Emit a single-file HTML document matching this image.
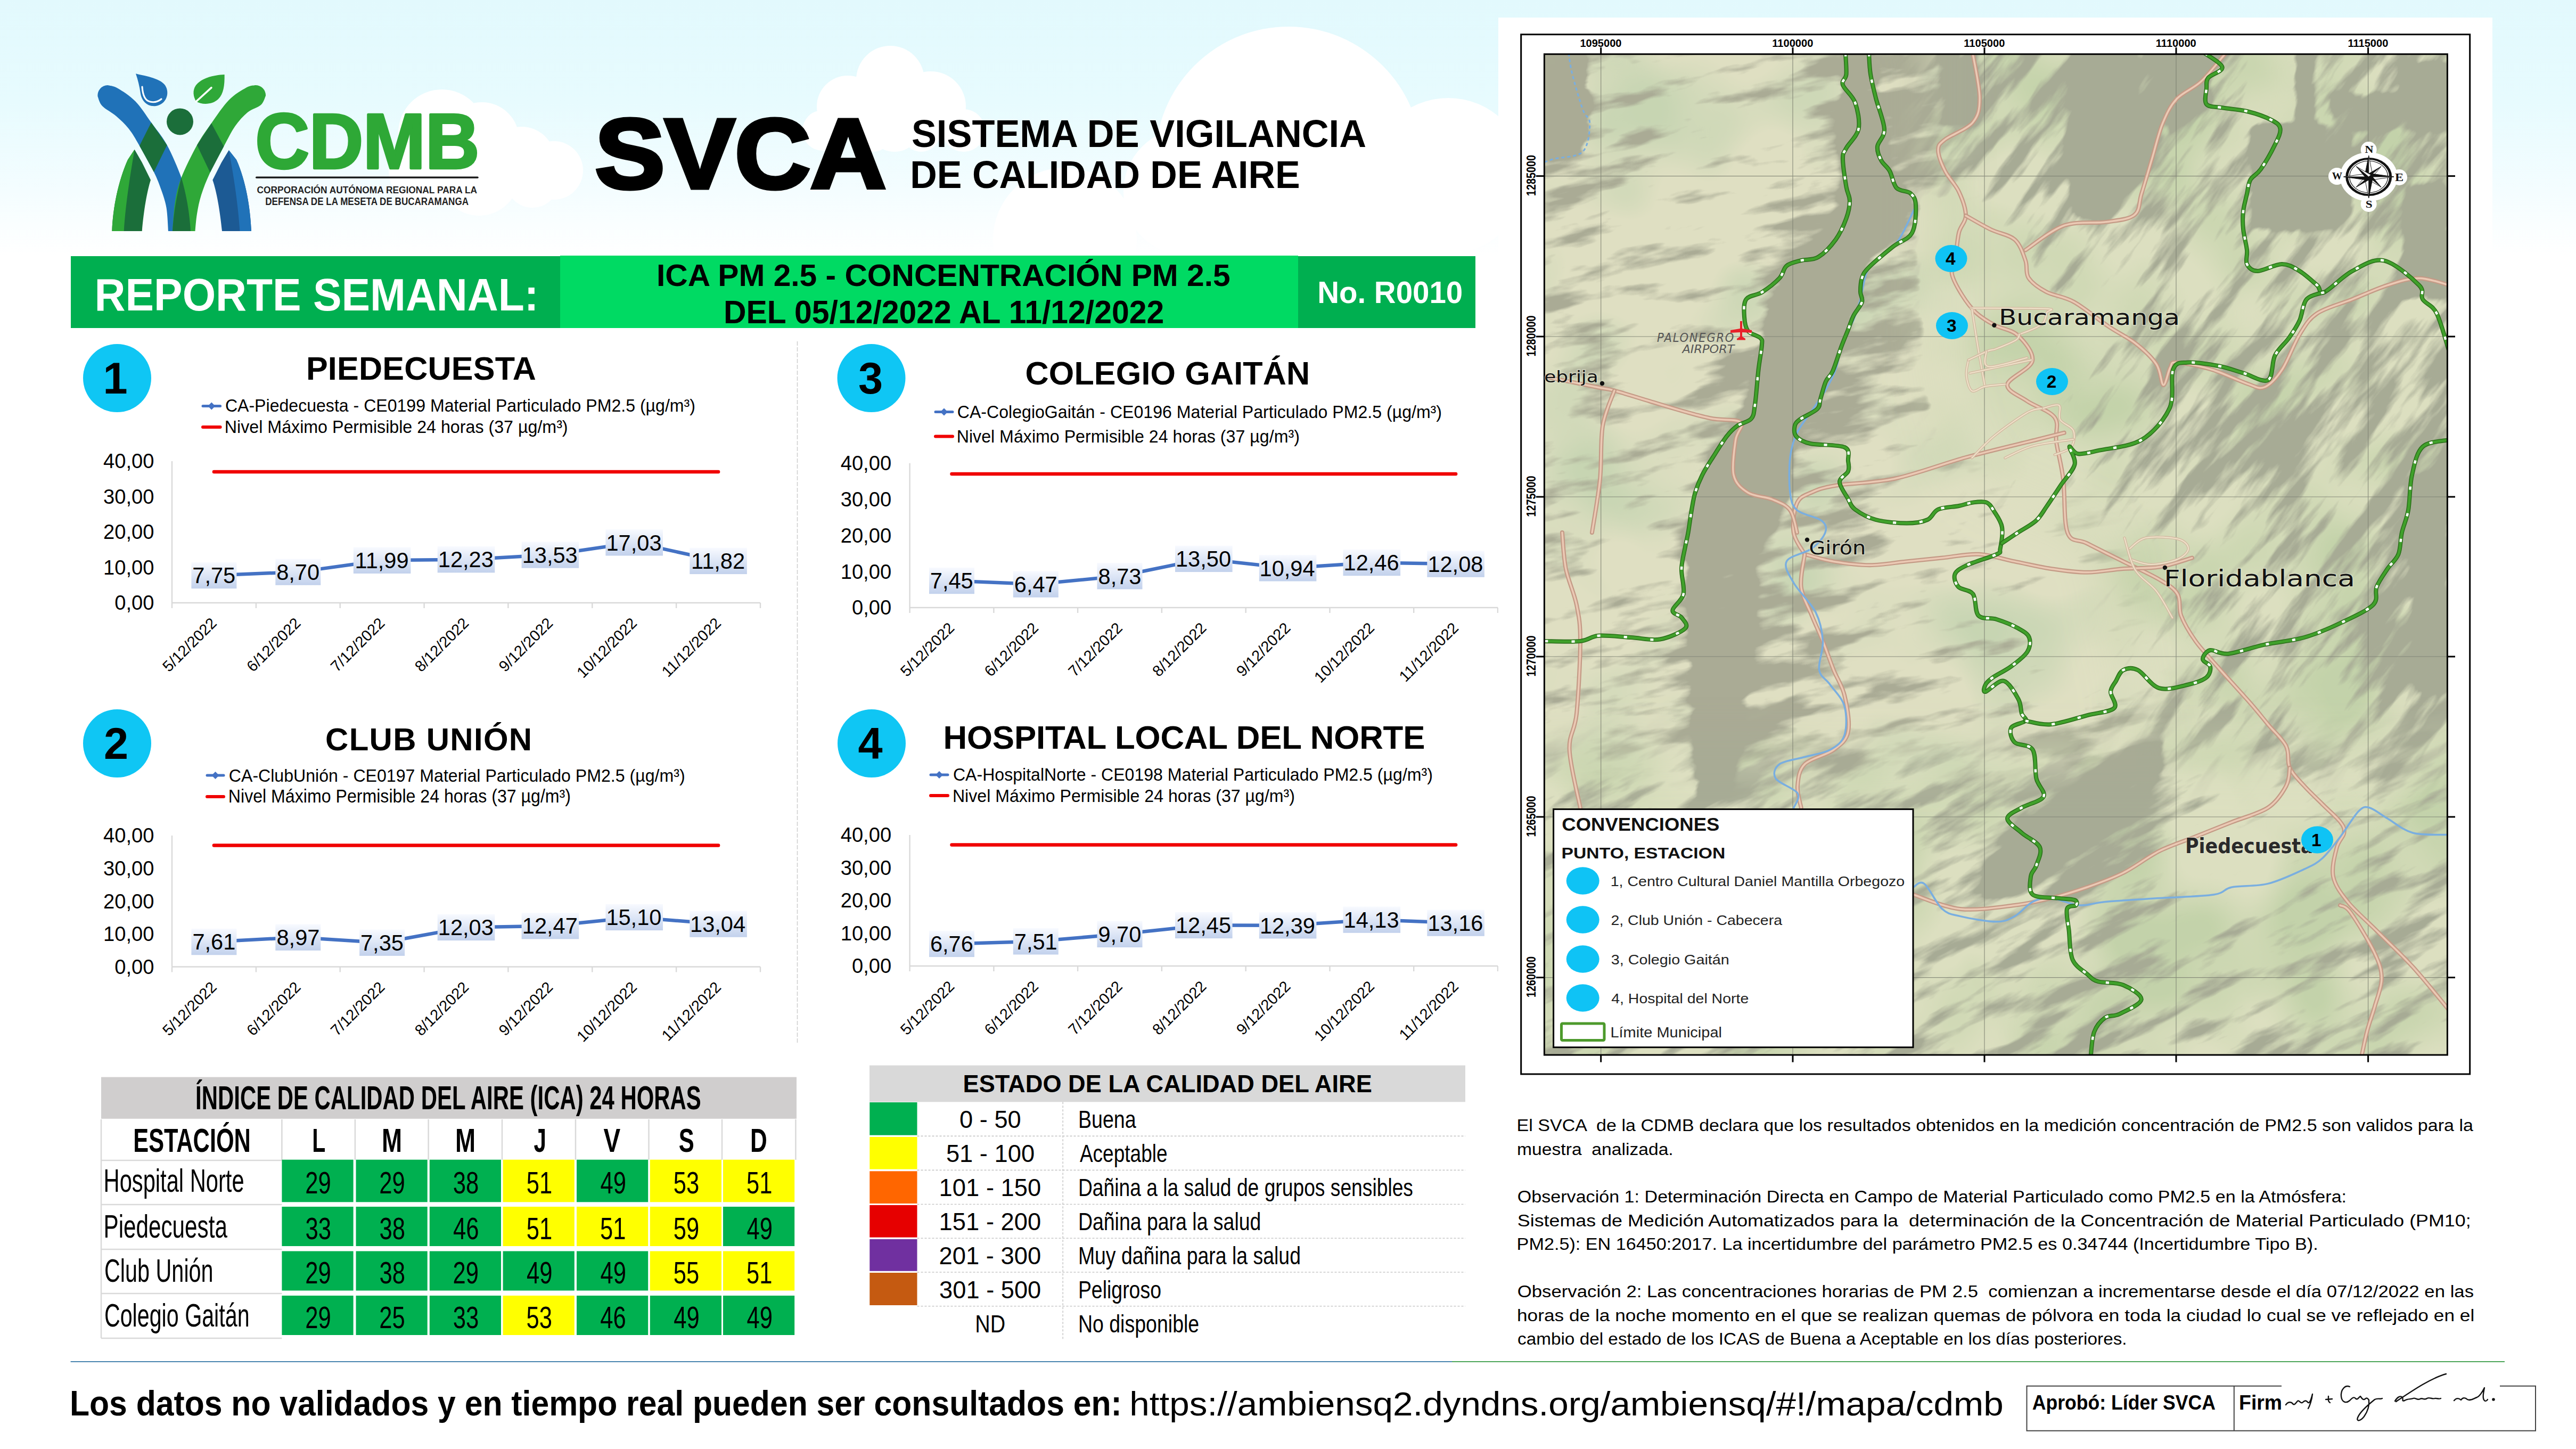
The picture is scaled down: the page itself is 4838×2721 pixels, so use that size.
<!DOCTYPE html>
<html lang="es"><head><meta charset="utf-8"><title>SVCA - Reporte Semanal ICA PM 2.5 R0010</title>
<style>
html,body{margin:0;padding:0;background:#fff;}
body{width:4838px;height:2721px;overflow:hidden;position:relative;}
svg{display:block;position:absolute;left:0;top:0;}
svg text{font-family:'Liberation Sans', Arial, sans-serif;}
</style></head><body>
<svg width="4838" height="2721" viewBox="0 0 4838 2721">
<defs>
<linearGradient id="sky" x1="0" y1="0" x2="0" y2="1">
<stop offset="0" stop-color="#e2f9fd"/><stop offset="0.4" stop-color="#e7fbfe"/><stop offset="0.75" stop-color="#f4fdff"/><stop offset="1" stop-color="#ffffff"/>
</linearGradient>
<linearGradient id="lbl" x1="0" y1="0" x2="0" y2="1">
<stop offset="0" stop-color="#f8faff"/><stop offset="1" stop-color="#c2d1ec"/>
</linearGradient>
</defs>
<rect x="0" y="0" width="4838" height="480" fill="url(#sky)"/>
<g fill="#ffffff"><circle cx="830" cy="250" r="82"/><circle cx="905" cy="262" r="70"/><circle cx="980" cy="300" r="62"/><circle cx="1040" cy="320" r="55"/><circle cx="800" cy="320" r="70"/><circle cx="900" cy="330" r="75"/><circle cx="1000" cy="340" r="50"/><circle cx="1672" cy="150" r="64"/><circle cx="1592" cy="200" r="58"/><circle cx="1748" cy="200" r="66"/><circle cx="1545" cy="245" r="38"/><circle cx="1810" cy="245" r="40"/><circle cx="1680" cy="235" r="50"/><circle cx="1640" cy="250" r="35"/><circle cx="1730" cy="250" r="35"/><circle cx="2420" cy="300" r="250"/><circle cx="2720" cy="330" r="146"/><circle cx="2230" cy="360" r="120"/><circle cx="2000" cy="450" r="135"/><circle cx="2600" cy="420" r="160"/></g>
<rect x="0" y="380" width="4838" height="100" fill="url(#skyfade)" opacity="0"/>
<g id="logo">
<path d="M210.4,434 C212,390 222,340 240,300 L252.7,280.7 L266.7,305 L283,338 C276,360 270,395 266.7,434 Z" fill="#1b6e3a"/>
<path d="M210.4,434 C212,390 222,340 240,300 L252.7,280.7 C246,320 236,380 232.7,434 Z" fill="#2fa838"/>
<path d="M472,434 C470,390 462,340 444,300 L429.8,282 L416,305 L399.3,338 C407,360 413,395 417,434 Z" fill="#1c5a94"/>
<path d="M472,434 C470,390 462,340 444,300 L429.8,282 C437,320 447,380 450.4,434 Z" fill="#2072b8"/>
<path d="M202,160 C205.2,160.9 212.3,160.7 221.0,165.7 C229.7,170.7 243.5,179.3 254.0,190.0 C264.5,200.7 274.1,216.2 284.0,230.0 C293.9,243.8 304.3,255.2 313.7,272.5 C323.1,289.8 334.2,315.9 340.6,333.5 C347.0,351.1 349.1,361.2 352.0,378.0 C354.9,394.8 357.0,424.7 358.0,434.0 L316,434 C315.4,426.7 314.7,402.8 312.5,390.0 C310.3,377.2 306.9,368.2 303.0,357.0 C299.1,345.8 295.8,336.9 289.0,323.0 C282.2,309.1 269.8,287.2 262.0,273.7 C254.2,260.2 249.2,251.2 242.0,242.0 C234.8,232.8 227.0,225.7 218.7,218.5 C210.4,211.3 197.9,205.2 192.0,199.0 C186.1,192.8 184.9,184.0 183.5,181.0 A19,19 0 0 1 202,160 Z" fill="#2072b8"/>
<path d="M479,160 C476.3,160.8 470.8,159.9 462.6,164.6 C454.4,169.3 440.7,176.9 429.8,188.0 C418.9,199.1 407.0,217.3 397.0,231.4 C387.0,245.5 379.4,255.5 370.0,272.5 C360.6,289.5 347.4,315.9 340.6,333.5 C333.8,351.1 331.8,361.2 329.0,378.0 C326.2,394.8 324.8,424.7 324.0,434.0 L366.5,434 C367.1,428.6 368.1,412.8 370.0,401.5 C371.9,390.2 373.9,378.9 378.0,366.0 C382.1,353.1 387.5,339.2 394.6,324.0 C401.7,308.8 412.6,289.3 420.4,274.8 C428.2,260.3 434.1,247.6 441.5,237.0 C448.9,226.4 456.9,217.7 465.0,211.0 C473.1,204.3 484.3,202.2 490.0,197.0 C495.7,191.8 497.5,182.8 499.0,180.0 A19,19 0 0 0 479,160 Z" fill="#2fa838"/>
<path d="M340.6,333.5 C350,365 356,400 358,434 L324,434 C326,400 332,365 340.6,333.5 Z" fill="#1b6e3a"/>
<path d="M284,230 L313.7,272.5 L289,323 L262,273.7 Z" fill="#1b6e3a"/>
<path d="M397,231.4 L420.4,274.8 L394.6,324 L370,272.5 Z" fill="#1b6e3a"/>
<circle cx="338" cy="228.4" r="25" fill="#1b6e3a"/>
<path d="M255,138.3 C268,142 300,146 310,160 C320,175 312,196 293,199 C275,201 266,188 264,176 C262,162 259,150 255,138.3 Z" fill="#2072b8"/>
<path d="M267,163 C268,178 272,189 282,191 C290,193 298,190 303,186" fill="none" stroke="#fff" stroke-width="3.2" stroke-linecap="round"/>
<path d="M421.6,140 C400,141 378,147 368,160 C361,170 363,181 368,190 C380,198 400,196 410,186 C420,176 422,160 421.6,140 Z" fill="#2fa838"/>
<path d="M397,164.6 L368,191" stroke="#fff" stroke-width="3.5" stroke-linecap="round"/>
</g>
<text x="479.4" y="316.0" font-size="146.91" font-weight="bold" fill="#2ea836" textLength="420.9" lengthAdjust="spacingAndGlyphs" stroke="#2ea836" stroke-width="4.5" stroke-linejoin="round">CDMB</text>
<rect x="480" y="331.6" width="418.7" height="3.4" rx="1.7" fill="#1f1f1f"/>
<text x="482.6" y="362.7" font-size="18.62" font-weight="bold" fill="#1f1f1f" textLength="413.5" lengthAdjust="spacingAndGlyphs" >CORPORACIÓN AUTÓNOMA REGIONAL PARA LA</text>
<text x="498.2" y="385.4" font-size="19.35" font-weight="bold" fill="#1f1f1f" textLength="381.8" lengthAdjust="spacingAndGlyphs" >DEFENSA DE LA MESETA DE BUCARAMANGA</text>
<text x="1117.6" y="352.5" font-size="184.73" font-weight="bold" fill="#000" textLength="546.5" lengthAdjust="spacingAndGlyphs" stroke="#000" stroke-width="7" stroke-linejoin="miter">SVCA</text>
<text x="1711.9" y="276.0" font-size="72.73" font-weight="bold" fill="#000" textLength="854.1" lengthAdjust="spacingAndGlyphs" >SISTEMA DE VIGILANCIA</text>
<text x="1709.3" y="353.0" font-size="72.00" font-weight="bold" fill="#000" textLength="732.4" lengthAdjust="spacingAndGlyphs" >DE CALIDAD DE AIRE</text>
<rect x="133" y="481" width="919" height="135" fill="#00af50"/>
<rect x="1052" y="480" width="1386" height="136" fill="#00da63"/>
<rect x="2438" y="481" width="333" height="135" fill="#00af50"/>
<text x="177.6" y="582.5" font-size="85.67" font-weight="bold" fill="#fff" textLength="834.0" lengthAdjust="spacingAndGlyphs" >REPORTE SEMANAL:</text>
<text x="1233.0" y="537.0" font-size="56.73" font-weight="bold" fill="#000" textLength="1077.7" lengthAdjust="spacingAndGlyphs" >ICA PM 2.5 - CONCENTRACIÓN PM 2.5</text>
<text x="1359.0" y="606.6" font-size="61.38" font-weight="bold" fill="#000" textLength="827.2" lengthAdjust="spacingAndGlyphs" >DEL 05/12/2022 AL 11/12/2022</text>
<text x="2474.2" y="569.0" font-size="58.18" font-weight="bold" fill="#fff" textLength="273.1" lengthAdjust="spacingAndGlyphs" >No. R0010</text>
<line x1="1497.5" y1="641" x2="1497.5" y2="1961" stroke="#cfcfcf" stroke-width="1.6" stroke-dasharray="8,3"/>
<circle cx="220" cy="710" r="64" fill="#0fc6f4"/>
<text x="193.5" y="739.0" font-size="82.91" font-weight="bold" fill="#000" textLength="46.1" lengthAdjust="spacingAndGlyphs" >1</text>
<text x="574.9" y="713.0" font-size="61.09" font-weight="bold" fill="#000" textLength="431.9" lengthAdjust="spacing" >PIEDECUESTA</text>
<text x="422.9" y="773.0" font-size="32.40" fill="#000" textLength="883.0" lengthAdjust="spacingAndGlyphs" >CA-Piedecuesta - CE0199 Material Particulado PM2.5 (µg/m³)</text>
<text x="421.8" y="813.0" font-size="34.04" fill="#000" textLength="644.8" lengthAdjust="spacingAndGlyphs" >Nivel Máximo Permisible 24 horas (37 µg/m³)</text>
<line x1="381" y1="762.4" x2="413.6" y2="762.4" stroke="#4472c4" stroke-width="5" stroke-linecap="round"/>
<path d="M390.3,762.4 L397.3,755.4 L404.3,762.4 L397.3,769.4 Z" fill="#4472c4"/>
<line x1="381" y1="802" x2="413.6" y2="802" stroke="#f00000" stroke-width="6" stroke-linecap="round"/>
<line x1="323" y1="866" x2="323" y2="1132" stroke="#d9d9d9" stroke-width="2.4"/>
<line x1="323" y1="1132" x2="1428" y2="1132" stroke="#d9d9d9" stroke-width="2.6"/>
<line x1="323.0" y1="1132" x2="323.0" y2="1142" stroke="#d9d9d9" stroke-width="2.4"/>
<line x1="480.9" y1="1132" x2="480.9" y2="1142" stroke="#d9d9d9" stroke-width="2.4"/>
<line x1="638.7" y1="1132" x2="638.7" y2="1142" stroke="#d9d9d9" stroke-width="2.4"/>
<line x1="796.6" y1="1132" x2="796.6" y2="1142" stroke="#d9d9d9" stroke-width="2.4"/>
<line x1="954.4" y1="1132" x2="954.4" y2="1142" stroke="#d9d9d9" stroke-width="2.4"/>
<line x1="1112.3" y1="1132" x2="1112.3" y2="1142" stroke="#d9d9d9" stroke-width="2.4"/>
<line x1="1270.1" y1="1132" x2="1270.1" y2="1142" stroke="#d9d9d9" stroke-width="2.4"/>
<line x1="1428.0" y1="1132" x2="1428.0" y2="1142" stroke="#d9d9d9" stroke-width="2.4"/>
<text x="215.3" y="1145.3" font-size="38.14" fill="#000" textLength="74.2" lengthAdjust="spacingAndGlyphs" >0,00</text>
<text x="194.0" y="1078.8" font-size="38.14" fill="#000" textLength="95.4" lengthAdjust="spacingAndGlyphs" >10,00</text>
<text x="194.0" y="1012.3" font-size="38.14" fill="#000" textLength="95.4" lengthAdjust="spacingAndGlyphs" >20,00</text>
<text x="194.0" y="945.8" font-size="38.14" fill="#000" textLength="95.4" lengthAdjust="spacingAndGlyphs" >30,00</text>
<text x="194.0" y="879.3" font-size="38.14" fill="#000" textLength="95.4" lengthAdjust="spacingAndGlyphs" >40,00</text>
<line x1="401.9" y1="886.0" x2="1349.1" y2="886.0" stroke="#f00000" stroke-width="6.5" stroke-linecap="round"/>
<polyline points="401.9,1080.5 559.8,1074.1 717.6,1052.3 875.5,1050.7 1033.4,1042.0 1191.2,1018.8 1349.1,1053.4" fill="none" stroke="#4472c4" stroke-width="6.5" stroke-linejoin="round" stroke-linecap="round"/>
<rect x="359.4" y="1055.8" width="85" height="49.4" fill="url(#lbl)"/>
<text x="361.3" y="1095.2" font-size="41.58" fill="#000" textLength="80.9" lengthAdjust="spacingAndGlyphs" >7,75</text>
<rect x="517.3" y="1049.4" width="85" height="49.4" fill="url(#lbl)"/>
<text x="519.2" y="1088.8" font-size="41.58" fill="#000" textLength="80.9" lengthAdjust="spacingAndGlyphs" >8,70</text>
<rect x="663.8" y="1027.6" width="107.6" height="49.4" fill="url(#lbl)"/>
<text x="666.6" y="1067.0" font-size="41.58" fill="#000" textLength="101.0" lengthAdjust="spacingAndGlyphs" >11,99</text>
<rect x="821.7" y="1026.0" width="107.6" height="49.4" fill="url(#lbl)"/>
<text x="822.8" y="1065.4" font-size="41.58" fill="#000" textLength="104.0" lengthAdjust="spacingAndGlyphs" >12,23</text>
<rect x="979.6" y="1017.3" width="107.6" height="49.4" fill="url(#lbl)"/>
<text x="980.7" y="1056.7" font-size="41.58" fill="#000" textLength="104.0" lengthAdjust="spacingAndGlyphs" >13,53</text>
<rect x="1137.4" y="994.1" width="107.6" height="49.4" fill="url(#lbl)"/>
<text x="1138.5" y="1033.5" font-size="41.58" fill="#000" textLength="104.0" lengthAdjust="spacingAndGlyphs" >17,03</text>
<rect x="1295.3" y="1028.7" width="107.6" height="49.4" fill="url(#lbl)"/>
<text x="1298.1" y="1068.1" font-size="41.58" fill="#000" textLength="101.0" lengthAdjust="spacingAndGlyphs" >11,82</text>
<text x="408.6" y="1172.0" font-size="29" text-anchor="end" transform="rotate(-45 408.6 1172.0)">5/12/2022</text>
<text x="566.5" y="1172.0" font-size="29" text-anchor="end" transform="rotate(-45 566.5 1172.0)">6/12/2022</text>
<text x="724.3" y="1172.0" font-size="29" text-anchor="end" transform="rotate(-45 724.3 1172.0)">7/12/2022</text>
<text x="882.2" y="1172.0" font-size="29" text-anchor="end" transform="rotate(-45 882.2 1172.0)">8/12/2022</text>
<text x="1040.1" y="1172.0" font-size="29" text-anchor="end" transform="rotate(-45 1040.1 1172.0)">9/12/2022</text>
<text x="1197.9" y="1172.0" font-size="29" text-anchor="end" transform="rotate(-45 1197.9 1172.0)">10/12/2022</text>
<text x="1355.8" y="1172.0" font-size="29" text-anchor="end" transform="rotate(-45 1355.8 1172.0)">11/12/2022</text>
<circle cx="1636.5" cy="710" r="64" fill="#0fc6f4"/>
<text x="1612.0" y="739.0" font-size="82.91" font-weight="bold" fill="#000" textLength="46.1" lengthAdjust="spacingAndGlyphs" >3</text>
<text x="1925.5" y="722.0" font-size="61.09" font-weight="bold" fill="#000" textLength="534.6" lengthAdjust="spacing" >COLEGIO GAITÁN</text>
<text x="1797.8" y="785.2" font-size="32.54" fill="#000" textLength="910.2" lengthAdjust="spacingAndGlyphs" >CA-ColegioGaitán - CE0196 Material Particulado PM2.5 (µg/m³)</text>
<text x="1796.7" y="831.0" font-size="33.45" fill="#000" textLength="644.2" lengthAdjust="spacingAndGlyphs" >Nivel Máximo Permisible 24 horas (37 µg/m³)</text>
<line x1="1757" y1="773.6" x2="1789" y2="773.6" stroke="#4472c4" stroke-width="5" stroke-linecap="round"/>
<path d="M1766.0,773.6 L1773.0,766.6 L1780.0,773.6 L1773.0,780.6 Z" fill="#4472c4"/>
<line x1="1757" y1="819.5" x2="1789" y2="819.5" stroke="#f00000" stroke-width="6" stroke-linecap="round"/>
<line x1="1708.6" y1="869.7" x2="1708.6" y2="1141" stroke="#d9d9d9" stroke-width="2.4"/>
<line x1="1708.6" y1="1141" x2="2813" y2="1141" stroke="#d9d9d9" stroke-width="2.6"/>
<line x1="1708.6" y1="1141" x2="1708.6" y2="1151" stroke="#d9d9d9" stroke-width="2.4"/>
<line x1="1866.4" y1="1141" x2="1866.4" y2="1151" stroke="#d9d9d9" stroke-width="2.4"/>
<line x1="2024.1" y1="1141" x2="2024.1" y2="1151" stroke="#d9d9d9" stroke-width="2.4"/>
<line x1="2181.9" y1="1141" x2="2181.9" y2="1151" stroke="#d9d9d9" stroke-width="2.4"/>
<line x1="2339.7" y1="1141" x2="2339.7" y2="1151" stroke="#d9d9d9" stroke-width="2.4"/>
<line x1="2497.5" y1="1141" x2="2497.5" y2="1151" stroke="#d9d9d9" stroke-width="2.4"/>
<line x1="2655.2" y1="1141" x2="2655.2" y2="1151" stroke="#d9d9d9" stroke-width="2.4"/>
<line x1="2813.0" y1="1141" x2="2813.0" y2="1151" stroke="#d9d9d9" stroke-width="2.4"/>
<text x="1600.0" y="1154.3" font-size="38.14" fill="#000" textLength="74.2" lengthAdjust="spacingAndGlyphs" >0,00</text>
<text x="1578.7" y="1086.5" font-size="38.14" fill="#000" textLength="95.4" lengthAdjust="spacingAndGlyphs" >10,00</text>
<text x="1578.7" y="1018.6" font-size="38.14" fill="#000" textLength="95.4" lengthAdjust="spacingAndGlyphs" >20,00</text>
<text x="1578.7" y="950.8" font-size="38.14" fill="#000" textLength="95.4" lengthAdjust="spacingAndGlyphs" >30,00</text>
<text x="1578.7" y="883.0" font-size="38.14" fill="#000" textLength="95.4" lengthAdjust="spacingAndGlyphs" >40,00</text>
<line x1="1787.5" y1="890.0" x2="2734.1" y2="890.0" stroke="#f00000" stroke-width="6.5" stroke-linecap="round"/>
<polyline points="1787.5,1090.5 1945.3,1097.1 2103.0,1081.8 2260.8,1049.4 2418.6,1066.8 2576.3,1056.5 2734.1,1059.1" fill="none" stroke="#4472c4" stroke-width="6.5" stroke-linejoin="round" stroke-linecap="round"/>
<rect x="1745.0" y="1065.8" width="85" height="49.4" fill="url(#lbl)"/>
<text x="1746.8" y="1105.2" font-size="41.58" fill="#000" textLength="80.9" lengthAdjust="spacingAndGlyphs" >7,45</text>
<rect x="1902.8" y="1072.4" width="85" height="49.4" fill="url(#lbl)"/>
<text x="1904.8" y="1111.8" font-size="41.58" fill="#000" textLength="80.9" lengthAdjust="spacingAndGlyphs" >6,47</text>
<rect x="2060.5" y="1057.1" width="85" height="49.4" fill="url(#lbl)"/>
<text x="2062.6" y="1096.5" font-size="41.58" fill="#000" textLength="80.9" lengthAdjust="spacingAndGlyphs" >8,73</text>
<rect x="2207.0" y="1024.7" width="107.6" height="49.4" fill="url(#lbl)"/>
<text x="2208.0" y="1064.1" font-size="41.58" fill="#000" textLength="104.0" lengthAdjust="spacingAndGlyphs" >13,50</text>
<rect x="2364.8" y="1042.1" width="107.6" height="49.4" fill="url(#lbl)"/>
<text x="2365.6" y="1081.5" font-size="41.58" fill="#000" textLength="104.0" lengthAdjust="spacingAndGlyphs" >10,94</text>
<rect x="2522.5" y="1031.8" width="107.6" height="49.4" fill="url(#lbl)"/>
<text x="2523.6" y="1071.2" font-size="41.58" fill="#000" textLength="104.0" lengthAdjust="spacingAndGlyphs" >12,46</text>
<rect x="2680.3" y="1034.4" width="107.6" height="49.4" fill="url(#lbl)"/>
<text x="2681.4" y="1073.8" font-size="41.58" fill="#000" textLength="104.0" lengthAdjust="spacingAndGlyphs" >12,08</text>
<text x="1794.2" y="1181.0" font-size="29" text-anchor="end" transform="rotate(-45 1794.2 1181.0)">5/12/2022</text>
<text x="1952.0" y="1181.0" font-size="29" text-anchor="end" transform="rotate(-45 1952.0 1181.0)">6/12/2022</text>
<text x="2109.7" y="1181.0" font-size="29" text-anchor="end" transform="rotate(-45 2109.7 1181.0)">7/12/2022</text>
<text x="2267.5" y="1181.0" font-size="29" text-anchor="end" transform="rotate(-45 2267.5 1181.0)">8/12/2022</text>
<text x="2425.3" y="1181.0" font-size="29" text-anchor="end" transform="rotate(-45 2425.3 1181.0)">9/12/2022</text>
<text x="2583.0" y="1181.0" font-size="29" text-anchor="end" transform="rotate(-45 2583.0 1181.0)">10/12/2022</text>
<text x="2740.8" y="1181.0" font-size="29" text-anchor="end" transform="rotate(-45 2740.8 1181.0)">11/12/2022</text>
<circle cx="220" cy="1396" r="64" fill="#0fc6f4"/>
<text x="195.1" y="1425.0" font-size="82.91" font-weight="bold" fill="#000" textLength="46.1" lengthAdjust="spacingAndGlyphs" >2</text>
<text x="611.1" y="1408.7" font-size="59.93" font-weight="bold" fill="#000" textLength="388.0" lengthAdjust="spacing" >CLUB UNIÓN</text>
<text x="429.8" y="1468.0" font-size="32.97" fill="#000" textLength="856.8" lengthAdjust="spacingAndGlyphs" >CA-ClubUnión - CE0197 Material Particulado PM2.5 (µg/m³)</text>
<text x="428.8" y="1507.4" font-size="34.47" fill="#000" textLength="643.2" lengthAdjust="spacingAndGlyphs" >Nivel Máximo Permisible 24 horas (37 µg/m³)</text>
<line x1="389" y1="1456" x2="420" y2="1456" stroke="#4472c4" stroke-width="5" stroke-linecap="round"/>
<path d="M397.5,1456 L404.5,1449 L411.5,1456 L404.5,1463 Z" fill="#4472c4"/>
<line x1="389" y1="1496" x2="420" y2="1496" stroke="#f00000" stroke-width="6" stroke-linecap="round"/>
<line x1="323" y1="1569" x2="323" y2="1815.5" stroke="#d9d9d9" stroke-width="2.4"/>
<line x1="323" y1="1815.5" x2="1428" y2="1815.5" stroke="#d9d9d9" stroke-width="2.6"/>
<line x1="323.0" y1="1815.5" x2="323.0" y2="1825.5" stroke="#d9d9d9" stroke-width="2.4"/>
<line x1="480.9" y1="1815.5" x2="480.9" y2="1825.5" stroke="#d9d9d9" stroke-width="2.4"/>
<line x1="638.7" y1="1815.5" x2="638.7" y2="1825.5" stroke="#d9d9d9" stroke-width="2.4"/>
<line x1="796.6" y1="1815.5" x2="796.6" y2="1825.5" stroke="#d9d9d9" stroke-width="2.4"/>
<line x1="954.4" y1="1815.5" x2="954.4" y2="1825.5" stroke="#d9d9d9" stroke-width="2.4"/>
<line x1="1112.3" y1="1815.5" x2="1112.3" y2="1825.5" stroke="#d9d9d9" stroke-width="2.4"/>
<line x1="1270.1" y1="1815.5" x2="1270.1" y2="1825.5" stroke="#d9d9d9" stroke-width="2.4"/>
<line x1="1428.0" y1="1815.5" x2="1428.0" y2="1825.5" stroke="#d9d9d9" stroke-width="2.4"/>
<text x="215.3" y="1828.8" font-size="38.14" fill="#000" textLength="74.2" lengthAdjust="spacingAndGlyphs" >0,00</text>
<text x="194.0" y="1767.2" font-size="38.14" fill="#000" textLength="95.4" lengthAdjust="spacingAndGlyphs" >10,00</text>
<text x="194.0" y="1705.5" font-size="38.14" fill="#000" textLength="95.4" lengthAdjust="spacingAndGlyphs" >20,00</text>
<text x="194.0" y="1643.9" font-size="38.14" fill="#000" textLength="95.4" lengthAdjust="spacingAndGlyphs" >30,00</text>
<text x="194.0" y="1582.3" font-size="38.14" fill="#000" textLength="95.4" lengthAdjust="spacingAndGlyphs" >40,00</text>
<line x1="401.9" y1="1587.5" x2="1349.1" y2="1587.5" stroke="#f00000" stroke-width="6.5" stroke-linecap="round"/>
<polyline points="401.9,1768.6 559.8,1760.2 717.6,1770.2 875.5,1741.4 1033.4,1738.7 1191.2,1722.4 1349.1,1735.1" fill="none" stroke="#4472c4" stroke-width="6.5" stroke-linejoin="round" stroke-linecap="round"/>
<rect x="359.4" y="1743.9" width="85" height="49.4" fill="url(#lbl)"/>
<text x="361.4" y="1783.3" font-size="41.58" fill="#000" textLength="80.9" lengthAdjust="spacingAndGlyphs" >7,61</text>
<rect x="517.3" y="1735.5" width="85" height="49.4" fill="url(#lbl)"/>
<text x="519.5" y="1774.9" font-size="41.58" fill="#000" textLength="80.9" lengthAdjust="spacingAndGlyphs" >8,97</text>
<rect x="675.1" y="1745.5" width="85" height="49.4" fill="url(#lbl)"/>
<text x="677.0" y="1784.9" font-size="41.58" fill="#000" textLength="80.9" lengthAdjust="spacingAndGlyphs" >7,35</text>
<rect x="821.7" y="1716.7" width="107.6" height="49.4" fill="url(#lbl)"/>
<text x="822.8" y="1756.1" font-size="41.58" fill="#000" textLength="104.0" lengthAdjust="spacingAndGlyphs" >12,03</text>
<rect x="979.6" y="1714.0" width="107.6" height="49.4" fill="url(#lbl)"/>
<text x="980.8" y="1753.4" font-size="41.58" fill="#000" textLength="104.0" lengthAdjust="spacingAndGlyphs" >12,47</text>
<rect x="1137.4" y="1697.7" width="107.6" height="49.4" fill="url(#lbl)"/>
<text x="1138.4" y="1737.1" font-size="41.58" fill="#000" textLength="104.0" lengthAdjust="spacingAndGlyphs" >15,10</text>
<rect x="1295.3" y="1710.4" width="107.6" height="49.4" fill="url(#lbl)"/>
<text x="1296.1" y="1749.8" font-size="41.58" fill="#000" textLength="104.0" lengthAdjust="spacingAndGlyphs" >13,04</text>
<text x="408.6" y="1855.5" font-size="29" text-anchor="end" transform="rotate(-45 408.6 1855.5)">5/12/2022</text>
<text x="566.5" y="1855.5" font-size="29" text-anchor="end" transform="rotate(-45 566.5 1855.5)">6/12/2022</text>
<text x="724.3" y="1855.5" font-size="29" text-anchor="end" transform="rotate(-45 724.3 1855.5)">7/12/2022</text>
<text x="882.2" y="1855.5" font-size="29" text-anchor="end" transform="rotate(-45 882.2 1855.5)">8/12/2022</text>
<text x="1040.1" y="1855.5" font-size="29" text-anchor="end" transform="rotate(-45 1040.1 1855.5)">9/12/2022</text>
<text x="1197.9" y="1855.5" font-size="29" text-anchor="end" transform="rotate(-45 1197.9 1855.5)">10/12/2022</text>
<text x="1355.8" y="1855.5" font-size="29" text-anchor="end" transform="rotate(-45 1355.8 1855.5)">11/12/2022</text>
<circle cx="1637" cy="1396" r="64" fill="#0fc6f4"/>
<text x="1611.6" y="1425.0" font-size="82.91" font-weight="bold" fill="#000" textLength="46.1" lengthAdjust="spacingAndGlyphs" >4</text>
<text x="1771.5" y="1405.5" font-size="61.82" font-weight="bold" fill="#000" textLength="904.9" lengthAdjust="spacing" >HOSPITAL LOCAL DEL NORTE</text>
<text x="1789.9" y="1466.0" font-size="32.97" fill="#000" textLength="901.0" lengthAdjust="spacingAndGlyphs" >CA-HospitalNorte - CE0198 Material Particulado PM2.5 (µg/m³)</text>
<text x="1788.9" y="1506.0" font-size="34.04" fill="#000" textLength="643.1" lengthAdjust="spacingAndGlyphs" >Nivel Máximo Permisible 24 horas (37 µg/m³)</text>
<line x1="1748" y1="1455" x2="1780" y2="1455" stroke="#4472c4" stroke-width="5" stroke-linecap="round"/>
<path d="M1757.0,1455 L1764.0,1448 L1771.0,1455 L1764.0,1462 Z" fill="#4472c4"/>
<line x1="1748" y1="1494" x2="1780" y2="1494" stroke="#f00000" stroke-width="6" stroke-linecap="round"/>
<line x1="1708.6" y1="1568" x2="1708.6" y2="1814" stroke="#d9d9d9" stroke-width="2.4"/>
<line x1="1708.6" y1="1814" x2="2813" y2="1814" stroke="#d9d9d9" stroke-width="2.6"/>
<line x1="1708.6" y1="1814" x2="1708.6" y2="1824" stroke="#d9d9d9" stroke-width="2.4"/>
<line x1="1866.4" y1="1814" x2="1866.4" y2="1824" stroke="#d9d9d9" stroke-width="2.4"/>
<line x1="2024.1" y1="1814" x2="2024.1" y2="1824" stroke="#d9d9d9" stroke-width="2.4"/>
<line x1="2181.9" y1="1814" x2="2181.9" y2="1824" stroke="#d9d9d9" stroke-width="2.4"/>
<line x1="2339.7" y1="1814" x2="2339.7" y2="1824" stroke="#d9d9d9" stroke-width="2.4"/>
<line x1="2497.5" y1="1814" x2="2497.5" y2="1824" stroke="#d9d9d9" stroke-width="2.4"/>
<line x1="2655.2" y1="1814" x2="2655.2" y2="1824" stroke="#d9d9d9" stroke-width="2.4"/>
<line x1="2813.0" y1="1814" x2="2813.0" y2="1824" stroke="#d9d9d9" stroke-width="2.4"/>
<text x="1600.0" y="1827.3" font-size="38.14" fill="#000" textLength="74.2" lengthAdjust="spacingAndGlyphs" >0,00</text>
<text x="1578.7" y="1765.8" font-size="38.14" fill="#000" textLength="95.4" lengthAdjust="spacingAndGlyphs" >10,00</text>
<text x="1578.7" y="1704.3" font-size="38.14" fill="#000" textLength="95.4" lengthAdjust="spacingAndGlyphs" >20,00</text>
<text x="1578.7" y="1642.8" font-size="38.14" fill="#000" textLength="95.4" lengthAdjust="spacingAndGlyphs" >30,00</text>
<text x="1578.7" y="1581.3" font-size="38.14" fill="#000" textLength="95.4" lengthAdjust="spacingAndGlyphs" >40,00</text>
<line x1="1787.5" y1="1586.5" x2="2734.1" y2="1586.5" stroke="#f00000" stroke-width="6.5" stroke-linecap="round"/>
<polyline points="1787.5,1772.4 1945.3,1767.8 2103.0,1754.3 2260.8,1737.4 2418.6,1737.8 2576.3,1727.1 2734.1,1733.1" fill="none" stroke="#4472c4" stroke-width="6.5" stroke-linejoin="round" stroke-linecap="round"/>
<rect x="1745.0" y="1747.7" width="85" height="49.4" fill="url(#lbl)"/>
<text x="1746.9" y="1787.1" font-size="41.58" fill="#000" textLength="80.9" lengthAdjust="spacingAndGlyphs" >6,76</text>
<rect x="1902.8" y="1743.1" width="85" height="49.4" fill="url(#lbl)"/>
<text x="1904.8" y="1782.5" font-size="41.58" fill="#000" textLength="80.9" lengthAdjust="spacingAndGlyphs" >7,51</text>
<rect x="2060.5" y="1729.6" width="85" height="49.4" fill="url(#lbl)"/>
<text x="2062.4" y="1769.0" font-size="41.58" fill="#000" textLength="80.9" lengthAdjust="spacingAndGlyphs" >9,70</text>
<rect x="2207.0" y="1712.7" width="107.6" height="49.4" fill="url(#lbl)"/>
<text x="2208.0" y="1752.1" font-size="41.58" fill="#000" textLength="104.0" lengthAdjust="spacingAndGlyphs" >12,45</text>
<rect x="2364.8" y="1713.1" width="107.6" height="49.4" fill="url(#lbl)"/>
<text x="2365.9" y="1752.5" font-size="41.58" fill="#000" textLength="104.0" lengthAdjust="spacingAndGlyphs" >12,39</text>
<rect x="2522.5" y="1702.4" width="107.6" height="49.4" fill="url(#lbl)"/>
<text x="2523.6" y="1741.8" font-size="41.58" fill="#000" textLength="104.0" lengthAdjust="spacingAndGlyphs" >14,13</text>
<rect x="2680.3" y="1708.4" width="107.6" height="49.4" fill="url(#lbl)"/>
<text x="2681.4" y="1747.8" font-size="41.58" fill="#000" textLength="104.0" lengthAdjust="spacingAndGlyphs" >13,16</text>
<text x="1794.2" y="1854.0" font-size="29" text-anchor="end" transform="rotate(-45 1794.2 1854.0)">5/12/2022</text>
<text x="1952.0" y="1854.0" font-size="29" text-anchor="end" transform="rotate(-45 1952.0 1854.0)">6/12/2022</text>
<text x="2109.7" y="1854.0" font-size="29" text-anchor="end" transform="rotate(-45 2109.7 1854.0)">7/12/2022</text>
<text x="2267.5" y="1854.0" font-size="29" text-anchor="end" transform="rotate(-45 2267.5 1854.0)">8/12/2022</text>
<text x="2425.3" y="1854.0" font-size="29" text-anchor="end" transform="rotate(-45 2425.3 1854.0)">9/12/2022</text>
<text x="2583.0" y="1854.0" font-size="29" text-anchor="end" transform="rotate(-45 2583.0 1854.0)">10/12/2022</text>
<text x="2740.8" y="1854.0" font-size="29" text-anchor="end" transform="rotate(-45 2740.8 1854.0)">11/12/2022</text>
<rect x="190" y="2022.6" width="1306" height="78.2" fill="#d0cece"/>
<text x="367.1" y="2083.2" font-size="63.85" font-weight="bold" fill="#000" textLength="949.7" lengthAdjust="spacingAndGlyphs" >ÍNDICE DE CALIDAD DEL AIRE (ICA) 24 HORAS</text>
<g stroke="#d9d9d9" stroke-width="2.5" fill="none">
<line x1="190" y1="2102" x2="190" y2="2513"/>
<line x1="529.4" y1="2102" x2="529.4" y2="2178"/>
<line x1="666.9" y1="2102" x2="666.9" y2="2178"/>
<line x1="804.6" y1="2102" x2="804.6" y2="2178"/>
<line x1="943" y1="2102" x2="943" y2="2178"/>
<line x1="1081" y1="2102" x2="1081" y2="2178"/>
<line x1="1218.5" y1="2102" x2="1218.5" y2="2178"/>
<line x1="1356" y1="2102" x2="1356" y2="2178"/>
<line x1="1494.4" y1="2102" x2="1494.4" y2="2178"/>
<line x1="190" y1="2179" x2="529.4" y2="2179"/>
<line x1="190" y1="2262" x2="529.4" y2="2262"/>
<line x1="190" y1="2346" x2="529.4" y2="2346"/>
<line x1="190" y1="2429" x2="529.4" y2="2429"/>
<line x1="190" y1="2513" x2="529.4" y2="2513"/>
</g>
<text x="250.3" y="2163.0" font-size="62.84" font-weight="bold" fill="#000" textLength="220.6" lengthAdjust="spacingAndGlyphs" >ESTACIÓN</text>
<text x="586.2" y="2163.0" font-size="62.84" font-weight="bold" fill="#000" textLength="25.0" lengthAdjust="spacingAndGlyphs" >L</text>
<text x="716.9" y="2163.0" font-size="62.84" font-weight="bold" fill="#000" textLength="38.1" lengthAdjust="spacingAndGlyphs" >M</text>
<text x="854.9" y="2163.0" font-size="62.84" font-weight="bold" fill="#000" textLength="38.1" lengthAdjust="spacingAndGlyphs" >M</text>
<text x="1002.4" y="2163.0" font-size="62.84" font-weight="bold" fill="#000" textLength="23.5" lengthAdjust="spacingAndGlyphs" >J</text>
<text x="1133.6" y="2163.0" font-size="62.84" font-weight="bold" fill="#000" textLength="31.7" lengthAdjust="spacingAndGlyphs" >V</text>
<text x="1274.7" y="2163.0" font-size="62.84" font-weight="bold" fill="#000" textLength="29.0" lengthAdjust="spacingAndGlyphs" >S</text>
<text x="1409.0" y="2163.0" font-size="62.84" font-weight="bold" fill="#000" textLength="31.8" lengthAdjust="spacingAndGlyphs" >D</text>
<text x="194.6" y="2238.3" font-size="60.51" fill="#000" textLength="264.0" lengthAdjust="spacingAndGlyphs" >Hospital Norte</text>
<rect x="529.4" y="2177.7" width="134.2" height="79.6" fill="#00b050"/>
<text x="573.2" y="2241.0" font-size="57.35" fill="#000" textLength="48.5" lengthAdjust="spacingAndGlyphs" >29</text>
<rect x="668.5" y="2177.7" width="134.2" height="79.6" fill="#00b050"/>
<text x="712.3" y="2241.0" font-size="57.35" fill="#000" textLength="48.5" lengthAdjust="spacingAndGlyphs" >29</text>
<rect x="806.8" y="2177.7" width="134.2" height="79.6" fill="#00b050"/>
<text x="850.8" y="2241.0" font-size="57.35" fill="#000" textLength="48.5" lengthAdjust="spacingAndGlyphs" >38</text>
<rect x="944.6" y="2177.7" width="134.2" height="79.6" fill="#ffff00"/>
<text x="988.7" y="2241.0" font-size="57.35" fill="#000" textLength="48.5" lengthAdjust="spacingAndGlyphs" >51</text>
<rect x="1083" y="2177.7" width="134.2" height="79.6" fill="#00b050"/>
<text x="1127.4" y="2241.0" font-size="57.35" fill="#000" textLength="48.5" lengthAdjust="spacingAndGlyphs" >49</text>
<rect x="1220.8" y="2177.7" width="134.2" height="79.6" fill="#ffff00"/>
<text x="1264.8" y="2241.0" font-size="57.35" fill="#000" textLength="48.5" lengthAdjust="spacingAndGlyphs" >53</text>
<rect x="1358" y="2177.7" width="134.2" height="79.6" fill="#ffff00"/>
<text x="1402.1" y="2241.0" font-size="57.35" fill="#000" textLength="48.5" lengthAdjust="spacingAndGlyphs" >51</text>
<text x="194.5" y="2323.8" font-size="60.51" fill="#000" textLength="232.4" lengthAdjust="spacingAndGlyphs" >Piedecuesta</text>
<rect x="529.4" y="2266" width="134.2" height="74.0" fill="#00b050"/>
<text x="573.4" y="2326.5" font-size="57.35" fill="#000" textLength="48.5" lengthAdjust="spacingAndGlyphs" >33</text>
<rect x="668.5" y="2266" width="134.2" height="74.0" fill="#00b050"/>
<text x="712.5" y="2326.5" font-size="57.35" fill="#000" textLength="48.5" lengthAdjust="spacingAndGlyphs" >38</text>
<rect x="806.8" y="2266" width="134.2" height="74.0" fill="#00b050"/>
<text x="851.1" y="2326.5" font-size="57.35" fill="#000" textLength="48.5" lengthAdjust="spacingAndGlyphs" >46</text>
<rect x="944.6" y="2266" width="134.2" height="74.0" fill="#ffff00"/>
<text x="988.7" y="2326.5" font-size="57.35" fill="#000" textLength="48.5" lengthAdjust="spacingAndGlyphs" >51</text>
<rect x="1083" y="2266" width="134.2" height="74.0" fill="#ffff00"/>
<text x="1127.1" y="2326.5" font-size="57.35" fill="#000" textLength="48.5" lengthAdjust="spacingAndGlyphs" >51</text>
<rect x="1220.8" y="2266" width="134.2" height="74.0" fill="#ffff00"/>
<text x="1264.8" y="2326.5" font-size="57.35" fill="#000" textLength="48.5" lengthAdjust="spacingAndGlyphs" >59</text>
<rect x="1358" y="2266" width="134.2" height="74.0" fill="#00b050"/>
<text x="1402.4" y="2326.5" font-size="57.35" fill="#000" textLength="48.5" lengthAdjust="spacingAndGlyphs" >49</text>
<text x="195.9" y="2407.3" font-size="60.51" fill="#000" textLength="204.7" lengthAdjust="spacingAndGlyphs" >Club Unión</text>
<rect x="529.4" y="2349.5" width="134.2" height="74.0" fill="#00b050"/>
<text x="573.2" y="2410.0" font-size="57.35" fill="#000" textLength="48.5" lengthAdjust="spacingAndGlyphs" >29</text>
<rect x="668.5" y="2349.5" width="134.2" height="74.0" fill="#00b050"/>
<text x="712.5" y="2410.0" font-size="57.35" fill="#000" textLength="48.5" lengthAdjust="spacingAndGlyphs" >38</text>
<rect x="806.8" y="2349.5" width="134.2" height="74.0" fill="#00b050"/>
<text x="850.6" y="2410.0" font-size="57.35" fill="#000" textLength="48.5" lengthAdjust="spacingAndGlyphs" >29</text>
<rect x="944.6" y="2349.5" width="134.2" height="74.0" fill="#00b050"/>
<text x="989.0" y="2410.0" font-size="57.35" fill="#000" textLength="48.5" lengthAdjust="spacingAndGlyphs" >49</text>
<rect x="1083" y="2349.5" width="134.2" height="74.0" fill="#00b050"/>
<text x="1127.4" y="2410.0" font-size="57.35" fill="#000" textLength="48.5" lengthAdjust="spacingAndGlyphs" >49</text>
<rect x="1220.8" y="2349.5" width="134.2" height="74.0" fill="#ffff00"/>
<text x="1264.7" y="2410.0" font-size="57.35" fill="#000" textLength="48.5" lengthAdjust="spacingAndGlyphs" >55</text>
<rect x="1358" y="2349.5" width="134.2" height="74.0" fill="#ffff00"/>
<text x="1402.1" y="2410.0" font-size="57.35" fill="#000" textLength="48.5" lengthAdjust="spacingAndGlyphs" >51</text>
<text x="195.9" y="2490.8" font-size="60.51" fill="#000" textLength="272.7" lengthAdjust="spacingAndGlyphs" >Colegio Gaitán</text>
<rect x="529.4" y="2433" width="134.2" height="74.0" fill="#00b050"/>
<text x="573.2" y="2493.5" font-size="57.35" fill="#000" textLength="48.5" lengthAdjust="spacingAndGlyphs" >29</text>
<rect x="668.5" y="2433" width="134.2" height="74.0" fill="#00b050"/>
<text x="712.2" y="2493.5" font-size="57.35" fill="#000" textLength="48.5" lengthAdjust="spacingAndGlyphs" >25</text>
<rect x="806.8" y="2433" width="134.2" height="74.0" fill="#00b050"/>
<text x="850.8" y="2493.5" font-size="57.35" fill="#000" textLength="48.5" lengthAdjust="spacingAndGlyphs" >33</text>
<rect x="944.6" y="2433" width="134.2" height="74.0" fill="#ffff00"/>
<text x="988.6" y="2493.5" font-size="57.35" fill="#000" textLength="48.5" lengthAdjust="spacingAndGlyphs" >53</text>
<rect x="1083" y="2433" width="134.2" height="74.0" fill="#00b050"/>
<text x="1127.3" y="2493.5" font-size="57.35" fill="#000" textLength="48.5" lengthAdjust="spacingAndGlyphs" >46</text>
<rect x="1220.8" y="2433" width="134.2" height="74.0" fill="#00b050"/>
<text x="1265.2" y="2493.5" font-size="57.35" fill="#000" textLength="48.5" lengthAdjust="spacingAndGlyphs" >49</text>
<rect x="1358" y="2433" width="134.2" height="74.0" fill="#00b050"/>
<text x="1402.4" y="2493.5" font-size="57.35" fill="#000" textLength="48.5" lengthAdjust="spacingAndGlyphs" >49</text>
<rect x="1633" y="2000.6" width="1119" height="68.7" fill="#d9d9d9"/>
<text x="1808.6" y="2051.0" font-size="46.55" font-weight="bold" fill="#000" textLength="768.2" lengthAdjust="spacingAndGlyphs" >ESTADO DE LA CALIDAD DEL AIRE</text>
<rect x="1633.3" y="2070" width="89.2" height="61.7" fill="#00b050"/>
<rect x="1633.3" y="2135" width="89.2" height="60.6" fill="#ffff00"/>
<rect x="1633.3" y="2199.3" width="89.2" height="60.7" fill="#ff6600"/>
<rect x="1633.3" y="2263" width="89.2" height="60.6" fill="#e60000"/>
<rect x="1633.3" y="2327" width="89.2" height="59.8" fill="#7030a0"/>
<rect x="1633.3" y="2390" width="89.2" height="61.0" fill="#c55a11"/>
<g stroke="#c8c8c8" stroke-width="1.6" stroke-dasharray="4,3" fill="none">
<line x1="1722.5" y1="2133.4" x2="2752" y2="2133.4"/>
<line x1="1722.5" y1="2197.4" x2="2752" y2="2197.4"/>
<line x1="1722.5" y1="2261.5" x2="2752" y2="2261.5"/>
<line x1="1722.5" y1="2325.2" x2="2752" y2="2325.2"/>
<line x1="1722.5" y1="2389" x2="2752" y2="2389"/>
<line x1="1722.5" y1="2452.8" x2="2752" y2="2452.8"/>
<line x1="1996.2" y1="2069.3" x2="1996.2" y2="2516"/>
</g>
<text x="1802.0" y="2117.8" font-size="45.45" fill="#000" textLength="115.8" lengthAdjust="spacingAndGlyphs" >0 - 50</text>
<text x="2024.9" y="2117.8" font-size="45.67" fill="#000" textLength="108.8" lengthAdjust="spacingAndGlyphs" >Buena</text>
<text x="1776.9" y="2181.9" font-size="45.45" fill="#000" textLength="166.2" lengthAdjust="spacingAndGlyphs" >51 - 100</text>
<text x="2027.9" y="2181.9" font-size="45.67" fill="#000" textLength="164.7" lengthAdjust="spacingAndGlyphs" >Aceptable</text>
<text x="1763.6" y="2246.0" font-size="45.45" fill="#000" textLength="191.7" lengthAdjust="spacingAndGlyphs" >101 - 150</text>
<text x="2024.9" y="2246.0" font-size="45.67" fill="#000" textLength="629.1" lengthAdjust="spacingAndGlyphs" >Dañina a la salud de grupos sensibles</text>
<text x="1763.6" y="2310.1" font-size="45.45" fill="#000" textLength="191.7" lengthAdjust="spacingAndGlyphs" >151 - 200</text>
<text x="2024.9" y="2310.1" font-size="45.67" fill="#000" textLength="343.5" lengthAdjust="spacingAndGlyphs" >Dañina para la salud</text>
<text x="1763.5" y="2374.2" font-size="45.45" fill="#000" textLength="191.8" lengthAdjust="spacingAndGlyphs" >201 - 300</text>
<text x="2024.9" y="2374.2" font-size="45.67" fill="#000" textLength="418.1" lengthAdjust="spacingAndGlyphs" >Muy dañina para la salud</text>
<text x="1764.1" y="2438.3" font-size="45.45" fill="#000" textLength="191.2" lengthAdjust="spacingAndGlyphs" >301 - 500</text>
<text x="2024.9" y="2438.3" font-size="45.67" fill="#000" textLength="156.1" lengthAdjust="spacingAndGlyphs" >Peligroso</text>
<text x="1831.3" y="2502.4" font-size="46.11" fill="#000" textLength="56.9" lengthAdjust="spacingAndGlyphs" >ND</text>
<text x="2024.9" y="2502.4" font-size="45.67" fill="#000" textLength="227.3" lengthAdjust="spacingAndGlyphs" >No disponible</text>
<rect x="2814" y="33" width="1867" height="2000" fill="#ffffff"/>
<defs>
<clipPath id="mapclip"><rect x="2900.4" y="101.7" width="1695.9999999999995" height="1879.3"/></clipPath>
<linearGradient id="seamL" gradientUnits="userSpaceOnUse" x1="3480" y1="0" x2="3700" y2="0"><stop offset="0" stop-color="#fff"/><stop offset="1" stop-color="#000"/></linearGradient>
<linearGradient id="seamR" gradientUnits="userSpaceOnUse" x1="3480" y1="0" x2="3700" y2="0"><stop offset="0" stop-color="#000"/><stop offset="1" stop-color="#fff"/></linearGradient>
<filter id="blurM" x="-20%" y="-20%" width="140%" height="140%"><feGaussianBlur stdDeviation="50"/></filter>
<mask id="clipS" maskUnits="userSpaceOnUse" x="2900.4" y="101.7" width="1695.9999999999995" height="1879.3"><rect x="2800" y="1420" width="1900" height="700" fill="#fff" filter="url(#blurM)"/></mask>
<mask id="clipL" maskUnits="userSpaceOnUse" x="2900.4" y="101.7" width="1695.9999999999995" height="1879.3"><path d="M2800,0 L3640,0 L3640,700 L3700,900 L3950,1000 L4020,1400 L4000,2100 L2800,2100 Z" fill="#fff" filter="url(#blurM)"/></mask>
<filter id="blurD" x="-20%" y="-20%" width="140%" height="140%"><feGaussianBlur stdDeviation="45"/></filter>
<filter id="blurV" x="-20%" y="-20%" width="140%" height="140%"><feGaussianBlur stdDeviation="6"/></filter>
<filter id="terr" filterUnits="userSpaceOnUse" x="2300" y="-500" width="2900" height="3100" color-interpolation-filters="sRGB">
  <feTurbulence type="fractalNoise" baseFrequency="0.007 0.026" numOctaves="4" seed="11" result="n"/>
  <feColorMatrix in="n" type="matrix" values="1 0 0 0 0  1 0 0 0 0  1 0 0 0 0  0 0 0 0 1" result="n1"/>
  <feComposite in="n1" in2="SourceGraphic" operator="arithmetic" k1="0" k2="0.5" k3="0.5" k4="0" result="sum"/>
  <feColorMatrix in="sum" type="matrix" values="0 0 0 0 0.665  0 0 0 0 0.67  0 0 0 0 0.585  9 0 0 0 -4.35" result="shadow"/>
  <feTurbulence type="fractalNoise" baseFrequency="0.0045" numOctaves="2" seed="3" result="g"/>
  <feColorMatrix in="g" type="matrix" values="0 0 0 0 0.78  0 0 0 0 0.835  0 0 0 0 0.70  0 3 0 0 -1.4" result="green"/>
  <feFlood flood-color="#dfdfc2" result="base"/>
  <feMerge><feMergeNode in="base"/><feMergeNode in="green"/><feMergeNode in="shadow"/></feMerge>
</filter>
<filter id="terr2" filterUnits="userSpaceOnUse" x="2300" y="-500" width="2900" height="3100" color-interpolation-filters="sRGB">
  <feTurbulence type="fractalNoise" baseFrequency="0.006 0.03" numOctaves="4" seed="5" result="n"/>
  <feColorMatrix in="n" type="matrix" values="1 0 0 0 0  1 0 0 0 0  1 0 0 0 0  0 0 0 0 1" result="n1"/>
  <feComposite in="n1" in2="SourceGraphic" operator="arithmetic" k1="0" k2="0.5" k3="0.5" k4="0" result="sum"/>
  <feColorMatrix in="sum" type="matrix" values="0 0 0 0 0.655  0 0 0 0 0.67  0 0 0 0 0.585  9 0 0 0 -4.35" result="shadow"/>
  <feTurbulence type="fractalNoise" baseFrequency="0.0045" numOctaves="2" seed="9" result="g"/>
  <feColorMatrix in="g" type="matrix" values="0 0 0 0 0.765  0 0 0 0 0.825  0 0 0 0 0.665  0 3 0 0 -1.15" result="green"/>
  <feFlood flood-color="#dcdfc0" result="base"/>
  <feMerge><feMergeNode in="base"/><feMergeNode in="green"/><feMergeNode in="shadow"/></feMerge>
</filter>
<filter id="terr3" filterUnits="userSpaceOnUse" x="2300" y="-500" width="2900" height="3100" color-interpolation-filters="sRGB">
  <feTurbulence type="fractalNoise" baseFrequency="0.0065 0.028" numOctaves="4" seed="21" result="n"/>
  <feColorMatrix in="n" type="matrix" values="1 0 0 0 0  1 0 0 0 0  1 0 0 0 0  0 0 0 0 1" result="n1"/>
  <feComposite in="n1" in2="SourceGraphic" operator="arithmetic" k1="0" k2="0.5" k3="0.5" k4="0" result="sum"/>
  <feColorMatrix in="sum" type="matrix" values="0 0 0 0 0.655  0 0 0 0 0.67  0 0 0 0 0.585  9 0 0 0 -4.35" result="shadow"/>
  <feTurbulence type="fractalNoise" baseFrequency="0.0045" numOctaves="2" seed="13" result="g"/>
  <feColorMatrix in="g" type="matrix" values="0 0 0 0 0.765  0 0 0 0 0.825  0 0 0 0 0.665  0 3 0 0 -1.15" result="green"/>
  <feFlood flood-color="#dcdfc0" result="base"/>
  <feMerge><feMergeNode in="base"/><feMergeNode in="green"/><feMergeNode in="shadow"/></feMerge>
</filter>
</defs>
<g clip-path="url(#mapclip)">
<g><g transform="rotate(-52 3748.3999999999996 1041.35)" filter="url(#terr2)"><g transform="rotate(52 3748.3999999999996 1041.35)"><rect x="2840.4" y="41.7" width="1815.9999999999995" height="1999.3" fill="rgb(115,115,115)"/><g filter="url(#blurD)"><rect x="2840.4" y="41.7" width="202.3" height="205.6" fill="rgb(153,153,153)"/><rect x="3041.7" y="41.7" width="142.3" height="205.6" fill="rgb(102,102,102)"/><rect x="3183.1" y="41.7" width="142.3" height="205.6" fill="rgb(102,102,102)"/><rect x="3324.4" y="41.7" width="142.3" height="205.6" fill="rgb(128,128,128)"/><rect x="3465.7" y="41.7" width="142.3" height="205.6" fill="rgb(178,178,178)"/><rect x="3607.1" y="41.7" width="142.3" height="205.6" fill="rgb(153,153,153)"/><rect x="3748.4" y="41.7" width="142.3" height="205.6" fill="rgb(140,140,140)"/><rect x="3889.7" y="41.7" width="142.3" height="205.6" fill="rgb(178,178,178)"/><rect x="4031.1" y="41.7" width="142.3" height="205.6" fill="rgb(166,166,166)"/><rect x="4172.4" y="41.7" width="142.3" height="205.6" fill="rgb(89,89,89)"/><rect x="4313.7" y="41.7" width="142.3" height="205.6" fill="rgb(128,128,128)"/><rect x="4455.1" y="41.7" width="202.3" height="205.6" fill="rgb(140,140,140)"/><rect x="2840.4" y="246.3" width="202.3" height="145.6" fill="rgb(140,140,140)"/><rect x="3041.7" y="246.3" width="142.3" height="145.6" fill="rgb(102,102,102)"/><rect x="3183.1" y="246.3" width="142.3" height="145.6" fill="rgb(89,89,89)"/><rect x="3324.4" y="246.3" width="142.3" height="145.6" fill="rgb(115,115,115)"/><rect x="3465.7" y="246.3" width="142.3" height="145.6" fill="rgb(191,191,191)"/><rect x="3607.1" y="246.3" width="142.3" height="145.6" fill="rgb(140,140,140)"/><rect x="3748.4" y="246.3" width="142.3" height="145.6" fill="rgb(140,140,140)"/><rect x="3889.7" y="246.3" width="142.3" height="145.6" fill="rgb(178,178,178)"/><rect x="4031.1" y="246.3" width="142.3" height="145.6" fill="rgb(128,128,128)"/><rect x="4172.4" y="246.3" width="142.3" height="145.6" fill="rgb(128,128,128)"/><rect x="4313.7" y="246.3" width="142.3" height="145.6" fill="rgb(128,128,128)"/><rect x="4455.1" y="246.3" width="202.3" height="145.6" fill="rgb(153,153,153)"/><rect x="2840.4" y="390.8" width="202.3" height="145.6" fill="rgb(115,115,115)"/><rect x="3041.7" y="390.8" width="142.3" height="145.6" fill="rgb(102,102,102)"/><rect x="3183.1" y="390.8" width="142.3" height="145.6" fill="rgb(102,102,102)"/><rect x="3324.4" y="390.8" width="142.3" height="145.6" fill="rgb(140,140,140)"/><rect x="3465.7" y="390.8" width="142.3" height="145.6" fill="rgb(178,178,178)"/><rect x="3607.1" y="390.8" width="142.3" height="145.6" fill="rgb(38,38,38)"/><rect x="3748.4" y="390.8" width="142.3" height="145.6" fill="rgb(115,115,115)"/><rect x="3889.7" y="390.8" width="142.3" height="145.6" fill="rgb(115,115,115)"/><rect x="4031.1" y="390.8" width="142.3" height="145.6" fill="rgb(115,115,115)"/><rect x="4172.4" y="390.8" width="142.3" height="145.6" fill="rgb(140,140,140)"/><rect x="4313.7" y="390.8" width="142.3" height="145.6" fill="rgb(115,115,115)"/><rect x="4455.1" y="390.8" width="202.3" height="145.6" fill="rgb(153,153,153)"/><rect x="2840.4" y="535.4" width="202.3" height="145.6" fill="rgb(115,115,115)"/><rect x="3041.7" y="535.4" width="142.3" height="145.6" fill="rgb(102,102,102)"/><rect x="3183.1" y="535.4" width="142.3" height="145.6" fill="rgb(115,115,115)"/><rect x="3324.4" y="535.4" width="142.3" height="145.6" fill="rgb(204,204,204)"/><rect x="3465.7" y="535.4" width="142.3" height="145.6" fill="rgb(140,140,140)"/><rect x="3607.1" y="535.4" width="142.3" height="145.6" fill="rgb(102,102,102)"/><rect x="3748.4" y="535.4" width="142.3" height="145.6" fill="rgb(51,51,51)"/><rect x="3889.7" y="535.4" width="142.3" height="145.6" fill="rgb(89,89,89)"/><rect x="4031.1" y="535.4" width="142.3" height="145.6" fill="rgb(128,128,128)"/><rect x="4172.4" y="535.4" width="142.3" height="145.6" fill="rgb(140,140,140)"/><rect x="4313.7" y="535.4" width="142.3" height="145.6" fill="rgb(153,153,153)"/><rect x="4455.1" y="535.4" width="202.3" height="145.6" fill="rgb(140,140,140)"/><rect x="2840.4" y="679.9" width="202.3" height="145.6" fill="rgb(102,102,102)"/><rect x="3041.7" y="679.9" width="142.3" height="145.6" fill="rgb(102,102,102)"/><rect x="3183.1" y="679.9" width="142.3" height="145.6" fill="rgb(153,153,153)"/><rect x="3324.4" y="679.9" width="142.3" height="145.6" fill="rgb(217,217,217)"/><rect x="3465.7" y="679.9" width="142.3" height="145.6" fill="rgb(128,128,128)"/><rect x="3607.1" y="679.9" width="142.3" height="145.6" fill="rgb(115,115,115)"/><rect x="3748.4" y="679.9" width="142.3" height="145.6" fill="rgb(64,64,64)"/><rect x="3889.7" y="679.9" width="142.3" height="145.6" fill="rgb(102,102,102)"/><rect x="4031.1" y="679.9" width="142.3" height="145.6" fill="rgb(166,166,166)"/><rect x="4172.4" y="679.9" width="142.3" height="145.6" fill="rgb(153,153,153)"/><rect x="4313.7" y="679.9" width="142.3" height="145.6" fill="rgb(153,153,153)"/><rect x="4455.1" y="679.9" width="202.3" height="145.6" fill="rgb(153,153,153)"/><rect x="2840.4" y="824.5" width="202.3" height="145.6" fill="rgb(102,102,102)"/><rect x="3041.7" y="824.5" width="142.3" height="145.6" fill="rgb(115,115,115)"/><rect x="3183.1" y="824.5" width="142.3" height="145.6" fill="rgb(191,191,191)"/><rect x="3324.4" y="824.5" width="142.3" height="145.6" fill="rgb(115,115,115)"/><rect x="3465.7" y="824.5" width="142.3" height="145.6" fill="rgb(102,102,102)"/><rect x="3607.1" y="824.5" width="142.3" height="145.6" fill="rgb(89,89,89)"/><rect x="3748.4" y="824.5" width="142.3" height="145.6" fill="rgb(64,64,64)"/><rect x="3889.7" y="824.5" width="142.3" height="145.6" fill="rgb(102,102,102)"/><rect x="4031.1" y="824.5" width="142.3" height="145.6" fill="rgb(153,153,153)"/><rect x="4172.4" y="824.5" width="142.3" height="145.6" fill="rgb(166,166,166)"/><rect x="4313.7" y="824.5" width="142.3" height="145.6" fill="rgb(140,140,140)"/><rect x="4455.1" y="824.5" width="202.3" height="145.6" fill="rgb(153,153,153)"/><rect x="2840.4" y="969.1" width="202.3" height="145.6" fill="rgb(102,102,102)"/><rect x="3041.7" y="969.1" width="142.3" height="145.6" fill="rgb(89,89,89)"/><rect x="3183.1" y="969.1" width="142.3" height="145.6" fill="rgb(178,178,178)"/><rect x="3324.4" y="969.1" width="142.3" height="145.6" fill="rgb(140,140,140)"/><rect x="3465.7" y="969.1" width="142.3" height="145.6" fill="rgb(89,89,89)"/><rect x="3607.1" y="969.1" width="142.3" height="145.6" fill="rgb(115,115,115)"/><rect x="3748.4" y="969.1" width="142.3" height="145.6" fill="rgb(64,64,64)"/><rect x="3889.7" y="969.1" width="142.3" height="145.6" fill="rgb(76,76,76)"/><rect x="4031.1" y="969.1" width="142.3" height="145.6" fill="rgb(76,76,76)"/><rect x="4172.4" y="969.1" width="142.3" height="145.6" fill="rgb(102,102,102)"/><rect x="4313.7" y="969.1" width="142.3" height="145.6" fill="rgb(140,140,140)"/><rect x="4455.1" y="969.1" width="202.3" height="145.6" fill="rgb(178,178,178)"/><rect x="2840.4" y="1113.6" width="202.3" height="145.6" fill="rgb(115,115,115)"/><rect x="3041.7" y="1113.6" width="142.3" height="145.6" fill="rgb(128,128,128)"/><rect x="3183.1" y="1113.6" width="142.3" height="145.6" fill="rgb(178,178,178)"/><rect x="3324.4" y="1113.6" width="142.3" height="145.6" fill="rgb(153,153,153)"/><rect x="3465.7" y="1113.6" width="142.3" height="145.6" fill="rgb(102,102,102)"/><rect x="3607.1" y="1113.6" width="142.3" height="145.6" fill="rgb(102,102,102)"/><rect x="3748.4" y="1113.6" width="142.3" height="145.6" fill="rgb(76,76,76)"/><rect x="3889.7" y="1113.6" width="142.3" height="145.6" fill="rgb(76,76,76)"/><rect x="4031.1" y="1113.6" width="142.3" height="145.6" fill="rgb(102,102,102)"/><rect x="4172.4" y="1113.6" width="142.3" height="145.6" fill="rgb(128,128,128)"/><rect x="4313.7" y="1113.6" width="142.3" height="145.6" fill="rgb(140,140,140)"/><rect x="4455.1" y="1113.6" width="202.3" height="145.6" fill="rgb(178,178,178)"/><rect x="2840.4" y="1258.2" width="202.3" height="145.6" fill="rgb(115,115,115)"/><rect x="3041.7" y="1258.2" width="142.3" height="145.6" fill="rgb(128,128,128)"/><rect x="3183.1" y="1258.2" width="142.3" height="145.6" fill="rgb(204,204,204)"/><rect x="3324.4" y="1258.2" width="142.3" height="145.6" fill="rgb(140,140,140)"/><rect x="3465.7" y="1258.2" width="142.3" height="145.6" fill="rgb(115,115,115)"/><rect x="3607.1" y="1258.2" width="142.3" height="145.6" fill="rgb(115,115,115)"/><rect x="3748.4" y="1258.2" width="142.3" height="145.6" fill="rgb(89,89,89)"/><rect x="3889.7" y="1258.2" width="142.3" height="145.6" fill="rgb(102,102,102)"/><rect x="4031.1" y="1258.2" width="142.3" height="145.6" fill="rgb(140,140,140)"/><rect x="4172.4" y="1258.2" width="142.3" height="145.6" fill="rgb(115,115,115)"/><rect x="4313.7" y="1258.2" width="142.3" height="145.6" fill="rgb(140,140,140)"/><rect x="4455.1" y="1258.2" width="202.3" height="145.6" fill="rgb(166,166,166)"/><rect x="2840.4" y="1402.8" width="202.3" height="145.6" fill="rgb(115,115,115)"/><rect x="3041.7" y="1402.8" width="142.3" height="145.6" fill="rgb(128,128,128)"/><rect x="3183.1" y="1402.8" width="142.3" height="145.6" fill="rgb(166,166,166)"/><rect x="3324.4" y="1402.8" width="142.3" height="145.6" fill="rgb(115,115,115)"/><rect x="3465.7" y="1402.8" width="142.3" height="145.6" fill="rgb(115,115,115)"/><rect x="3607.1" y="1402.8" width="142.3" height="145.6" fill="rgb(128,128,128)"/><rect x="3748.4" y="1402.8" width="142.3" height="145.6" fill="rgb(140,140,140)"/><rect x="3889.7" y="1402.8" width="142.3" height="145.6" fill="rgb(191,191,191)"/><rect x="4031.1" y="1402.8" width="142.3" height="145.6" fill="rgb(115,115,115)"/><rect x="4172.4" y="1402.8" width="142.3" height="145.6" fill="rgb(89,89,89)"/><rect x="4313.7" y="1402.8" width="142.3" height="145.6" fill="rgb(115,115,115)"/><rect x="4455.1" y="1402.8" width="202.3" height="145.6" fill="rgb(128,128,128)"/><rect x="2840.4" y="1547.3" width="202.3" height="145.6" fill="rgb(115,115,115)"/><rect x="3041.7" y="1547.3" width="142.3" height="145.6" fill="rgb(128,128,128)"/><rect x="3183.1" y="1547.3" width="142.3" height="145.6" fill="rgb(153,153,153)"/><rect x="3324.4" y="1547.3" width="142.3" height="145.6" fill="rgb(128,128,128)"/><rect x="3465.7" y="1547.3" width="142.3" height="145.6" fill="rgb(128,128,128)"/><rect x="3607.1" y="1547.3" width="142.3" height="145.6" fill="rgb(128,128,128)"/><rect x="3748.4" y="1547.3" width="142.3" height="145.6" fill="rgb(178,178,178)"/><rect x="3889.7" y="1547.3" width="142.3" height="145.6" fill="rgb(178,178,178)"/><rect x="4031.1" y="1547.3" width="142.3" height="145.6" fill="rgb(89,89,89)"/><rect x="4172.4" y="1547.3" width="142.3" height="145.6" fill="rgb(64,64,64)"/><rect x="4313.7" y="1547.3" width="142.3" height="145.6" fill="rgb(102,102,102)"/><rect x="4455.1" y="1547.3" width="202.3" height="145.6" fill="rgb(128,128,128)"/><rect x="2840.4" y="1691.9" width="202.3" height="145.6" fill="rgb(115,115,115)"/><rect x="3041.7" y="1691.9" width="142.3" height="145.6" fill="rgb(128,128,128)"/><rect x="3183.1" y="1691.9" width="142.3" height="145.6" fill="rgb(140,140,140)"/><rect x="3324.4" y="1691.9" width="142.3" height="145.6" fill="rgb(128,128,128)"/><rect x="3465.7" y="1691.9" width="142.3" height="145.6" fill="rgb(128,128,128)"/><rect x="3607.1" y="1691.9" width="142.3" height="145.6" fill="rgb(128,128,128)"/><rect x="3748.4" y="1691.9" width="142.3" height="145.6" fill="rgb(128,128,128)"/><rect x="3889.7" y="1691.9" width="142.3" height="145.6" fill="rgb(115,115,115)"/><rect x="4031.1" y="1691.9" width="142.3" height="145.6" fill="rgb(102,102,102)"/><rect x="4172.4" y="1691.9" width="142.3" height="145.6" fill="rgb(102,102,102)"/><rect x="4313.7" y="1691.9" width="142.3" height="145.6" fill="rgb(128,128,128)"/><rect x="4455.1" y="1691.9" width="202.3" height="145.6" fill="rgb(140,140,140)"/><rect x="2840.4" y="1836.4" width="202.3" height="205.6" fill="rgb(115,115,115)"/><rect x="3041.7" y="1836.4" width="142.3" height="205.6" fill="rgb(128,128,128)"/><rect x="3183.1" y="1836.4" width="142.3" height="205.6" fill="rgb(140,140,140)"/><rect x="3324.4" y="1836.4" width="142.3" height="205.6" fill="rgb(128,128,128)"/><rect x="3465.7" y="1836.4" width="142.3" height="205.6" fill="rgb(128,128,128)"/><rect x="3607.1" y="1836.4" width="142.3" height="205.6" fill="rgb(128,128,128)"/><rect x="3748.4" y="1836.4" width="142.3" height="205.6" fill="rgb(140,140,140)"/><rect x="3889.7" y="1836.4" width="142.3" height="205.6" fill="rgb(140,140,140)"/><rect x="4031.1" y="1836.4" width="142.3" height="205.6" fill="rgb(128,128,128)"/><rect x="4172.4" y="1836.4" width="142.3" height="205.6" fill="rgb(115,115,115)"/><rect x="4313.7" y="1836.4" width="142.3" height="205.6" fill="rgb(128,128,128)"/><rect x="4455.1" y="1836.4" width="202.3" height="205.6" fill="rgb(128,128,128)"/></g><g filter="url(#blurV)" fill="#ffffff"><path d="M3466,100 L3513,100 L3533,197 L3549,314 L3588,373 L3549,450 L3504,502 L3484,554 L3471,619 L3445,684 L3419,742 L3380,788 L3367,846 L3355,940 L3330,1000 L3300,1040 L3166,1040 L3179,944 L3212,866 L3263,788 L3289,736 L3302,671 L3322,593 L3354,515 L3406,463 L3445,405 L3458,347 L3455,262 L3461,165 Z"/><path d="M3175,1000 L3290,1020 L3300,1100 L3290,1200 L3280,1300 L3268,1400 L3255,1480 L3190,1500 L3180,1400 L3180,1250 L3170,1100 Z"/><path d="M2900,100 L2975,100 L2985,200 L2970,290 L2900,305 Z"/><path d="M3645,100 L3712,100 L3712,230 L3650,235 Z"/><path d="M3895,100 L4010,100 L4060,160 L4060,260 L4000,330 L3960,400 L3900,405 L3880,300 Z"/><path d="M4030,100 L4150,100 L4150,200 L4080,250 L4040,200 Z"/><path d="M3728,1683 L3800,1683 L3900,1600 L4000,1520 L4060,1460 L4060,1390 L4000,1400 L3900,1470 L3800,1560 L3728,1620 Z"/><path d="M4520,350 L4596,350 L4596,560 L4510,560 Z"/><path d="M4228,237 L4300,232 L4414,236 L4414,400 L4380,427 L4300,432 L4235,427 Z"/><path d="M4414,195 L4497,195 L4497,237 L4414,237 Z"/><path d="M4510,120 L4600,120 L4600,185 L4510,185 Z"/><path d="M4312,100 L4345,100 L4345,232 L4312,232 Z"/><path d="M4380,178 L4596,178 L4596,243 L4380,243 Z"/><path d="M4520,900 L4596,880 L4596,1300 L4540,1300 Z"/></g><path d="M3610,372 L3680,380 L3720,420 L3790,470 L3850,560 L3860,700 L3850,830 L3760,870 L3660,850 L3625,760 L3615,600 L3605,480 Z" fill="rgb(0,0,0)" filter="url(#blurV)"/></g></g></g>
<g mask="url(#clipL)"><g transform="rotate(-12 3748.3999999999996 1041.35)" filter="url(#terr)"><g transform="rotate(12 3748.3999999999996 1041.35)"><rect x="2840.4" y="41.7" width="1815.9999999999995" height="1999.3" fill="rgb(115,115,115)"/><g filter="url(#blurD)"><rect x="2840.4" y="41.7" width="202.3" height="205.6" fill="rgb(153,153,153)"/><rect x="3041.7" y="41.7" width="142.3" height="205.6" fill="rgb(102,102,102)"/><rect x="3183.1" y="41.7" width="142.3" height="205.6" fill="rgb(102,102,102)"/><rect x="3324.4" y="41.7" width="142.3" height="205.6" fill="rgb(128,128,128)"/><rect x="3465.7" y="41.7" width="142.3" height="205.6" fill="rgb(178,178,178)"/><rect x="3607.1" y="41.7" width="142.3" height="205.6" fill="rgb(153,153,153)"/><rect x="3748.4" y="41.7" width="142.3" height="205.6" fill="rgb(140,140,140)"/><rect x="3889.7" y="41.7" width="142.3" height="205.6" fill="rgb(178,178,178)"/><rect x="4031.1" y="41.7" width="142.3" height="205.6" fill="rgb(166,166,166)"/><rect x="4172.4" y="41.7" width="142.3" height="205.6" fill="rgb(89,89,89)"/><rect x="4313.7" y="41.7" width="142.3" height="205.6" fill="rgb(128,128,128)"/><rect x="4455.1" y="41.7" width="202.3" height="205.6" fill="rgb(140,140,140)"/><rect x="2840.4" y="246.3" width="202.3" height="145.6" fill="rgb(140,140,140)"/><rect x="3041.7" y="246.3" width="142.3" height="145.6" fill="rgb(102,102,102)"/><rect x="3183.1" y="246.3" width="142.3" height="145.6" fill="rgb(89,89,89)"/><rect x="3324.4" y="246.3" width="142.3" height="145.6" fill="rgb(115,115,115)"/><rect x="3465.7" y="246.3" width="142.3" height="145.6" fill="rgb(191,191,191)"/><rect x="3607.1" y="246.3" width="142.3" height="145.6" fill="rgb(140,140,140)"/><rect x="3748.4" y="246.3" width="142.3" height="145.6" fill="rgb(140,140,140)"/><rect x="3889.7" y="246.3" width="142.3" height="145.6" fill="rgb(178,178,178)"/><rect x="4031.1" y="246.3" width="142.3" height="145.6" fill="rgb(128,128,128)"/><rect x="4172.4" y="246.3" width="142.3" height="145.6" fill="rgb(128,128,128)"/><rect x="4313.7" y="246.3" width="142.3" height="145.6" fill="rgb(128,128,128)"/><rect x="4455.1" y="246.3" width="202.3" height="145.6" fill="rgb(153,153,153)"/><rect x="2840.4" y="390.8" width="202.3" height="145.6" fill="rgb(115,115,115)"/><rect x="3041.7" y="390.8" width="142.3" height="145.6" fill="rgb(102,102,102)"/><rect x="3183.1" y="390.8" width="142.3" height="145.6" fill="rgb(102,102,102)"/><rect x="3324.4" y="390.8" width="142.3" height="145.6" fill="rgb(140,140,140)"/><rect x="3465.7" y="390.8" width="142.3" height="145.6" fill="rgb(178,178,178)"/><rect x="3607.1" y="390.8" width="142.3" height="145.6" fill="rgb(38,38,38)"/><rect x="3748.4" y="390.8" width="142.3" height="145.6" fill="rgb(115,115,115)"/><rect x="3889.7" y="390.8" width="142.3" height="145.6" fill="rgb(115,115,115)"/><rect x="4031.1" y="390.8" width="142.3" height="145.6" fill="rgb(115,115,115)"/><rect x="4172.4" y="390.8" width="142.3" height="145.6" fill="rgb(140,140,140)"/><rect x="4313.7" y="390.8" width="142.3" height="145.6" fill="rgb(115,115,115)"/><rect x="4455.1" y="390.8" width="202.3" height="145.6" fill="rgb(153,153,153)"/><rect x="2840.4" y="535.4" width="202.3" height="145.6" fill="rgb(115,115,115)"/><rect x="3041.7" y="535.4" width="142.3" height="145.6" fill="rgb(102,102,102)"/><rect x="3183.1" y="535.4" width="142.3" height="145.6" fill="rgb(115,115,115)"/><rect x="3324.4" y="535.4" width="142.3" height="145.6" fill="rgb(204,204,204)"/><rect x="3465.7" y="535.4" width="142.3" height="145.6" fill="rgb(140,140,140)"/><rect x="3607.1" y="535.4" width="142.3" height="145.6" fill="rgb(102,102,102)"/><rect x="3748.4" y="535.4" width="142.3" height="145.6" fill="rgb(51,51,51)"/><rect x="3889.7" y="535.4" width="142.3" height="145.6" fill="rgb(89,89,89)"/><rect x="4031.1" y="535.4" width="142.3" height="145.6" fill="rgb(128,128,128)"/><rect x="4172.4" y="535.4" width="142.3" height="145.6" fill="rgb(140,140,140)"/><rect x="4313.7" y="535.4" width="142.3" height="145.6" fill="rgb(153,153,153)"/><rect x="4455.1" y="535.4" width="202.3" height="145.6" fill="rgb(140,140,140)"/><rect x="2840.4" y="679.9" width="202.3" height="145.6" fill="rgb(102,102,102)"/><rect x="3041.7" y="679.9" width="142.3" height="145.6" fill="rgb(102,102,102)"/><rect x="3183.1" y="679.9" width="142.3" height="145.6" fill="rgb(153,153,153)"/><rect x="3324.4" y="679.9" width="142.3" height="145.6" fill="rgb(217,217,217)"/><rect x="3465.7" y="679.9" width="142.3" height="145.6" fill="rgb(128,128,128)"/><rect x="3607.1" y="679.9" width="142.3" height="145.6" fill="rgb(115,115,115)"/><rect x="3748.4" y="679.9" width="142.3" height="145.6" fill="rgb(64,64,64)"/><rect x="3889.7" y="679.9" width="142.3" height="145.6" fill="rgb(102,102,102)"/><rect x="4031.1" y="679.9" width="142.3" height="145.6" fill="rgb(166,166,166)"/><rect x="4172.4" y="679.9" width="142.3" height="145.6" fill="rgb(153,153,153)"/><rect x="4313.7" y="679.9" width="142.3" height="145.6" fill="rgb(153,153,153)"/><rect x="4455.1" y="679.9" width="202.3" height="145.6" fill="rgb(153,153,153)"/><rect x="2840.4" y="824.5" width="202.3" height="145.6" fill="rgb(102,102,102)"/><rect x="3041.7" y="824.5" width="142.3" height="145.6" fill="rgb(115,115,115)"/><rect x="3183.1" y="824.5" width="142.3" height="145.6" fill="rgb(191,191,191)"/><rect x="3324.4" y="824.5" width="142.3" height="145.6" fill="rgb(115,115,115)"/><rect x="3465.7" y="824.5" width="142.3" height="145.6" fill="rgb(102,102,102)"/><rect x="3607.1" y="824.5" width="142.3" height="145.6" fill="rgb(89,89,89)"/><rect x="3748.4" y="824.5" width="142.3" height="145.6" fill="rgb(64,64,64)"/><rect x="3889.7" y="824.5" width="142.3" height="145.6" fill="rgb(102,102,102)"/><rect x="4031.1" y="824.5" width="142.3" height="145.6" fill="rgb(153,153,153)"/><rect x="4172.4" y="824.5" width="142.3" height="145.6" fill="rgb(166,166,166)"/><rect x="4313.7" y="824.5" width="142.3" height="145.6" fill="rgb(140,140,140)"/><rect x="4455.1" y="824.5" width="202.3" height="145.6" fill="rgb(153,153,153)"/><rect x="2840.4" y="969.1" width="202.3" height="145.6" fill="rgb(102,102,102)"/><rect x="3041.7" y="969.1" width="142.3" height="145.6" fill="rgb(89,89,89)"/><rect x="3183.1" y="969.1" width="142.3" height="145.6" fill="rgb(178,178,178)"/><rect x="3324.4" y="969.1" width="142.3" height="145.6" fill="rgb(140,140,140)"/><rect x="3465.7" y="969.1" width="142.3" height="145.6" fill="rgb(89,89,89)"/><rect x="3607.1" y="969.1" width="142.3" height="145.6" fill="rgb(115,115,115)"/><rect x="3748.4" y="969.1" width="142.3" height="145.6" fill="rgb(64,64,64)"/><rect x="3889.7" y="969.1" width="142.3" height="145.6" fill="rgb(76,76,76)"/><rect x="4031.1" y="969.1" width="142.3" height="145.6" fill="rgb(76,76,76)"/><rect x="4172.4" y="969.1" width="142.3" height="145.6" fill="rgb(102,102,102)"/><rect x="4313.7" y="969.1" width="142.3" height="145.6" fill="rgb(140,140,140)"/><rect x="4455.1" y="969.1" width="202.3" height="145.6" fill="rgb(178,178,178)"/><rect x="2840.4" y="1113.6" width="202.3" height="145.6" fill="rgb(115,115,115)"/><rect x="3041.7" y="1113.6" width="142.3" height="145.6" fill="rgb(128,128,128)"/><rect x="3183.1" y="1113.6" width="142.3" height="145.6" fill="rgb(178,178,178)"/><rect x="3324.4" y="1113.6" width="142.3" height="145.6" fill="rgb(153,153,153)"/><rect x="3465.7" y="1113.6" width="142.3" height="145.6" fill="rgb(102,102,102)"/><rect x="3607.1" y="1113.6" width="142.3" height="145.6" fill="rgb(102,102,102)"/><rect x="3748.4" y="1113.6" width="142.3" height="145.6" fill="rgb(76,76,76)"/><rect x="3889.7" y="1113.6" width="142.3" height="145.6" fill="rgb(76,76,76)"/><rect x="4031.1" y="1113.6" width="142.3" height="145.6" fill="rgb(102,102,102)"/><rect x="4172.4" y="1113.6" width="142.3" height="145.6" fill="rgb(128,128,128)"/><rect x="4313.7" y="1113.6" width="142.3" height="145.6" fill="rgb(140,140,140)"/><rect x="4455.1" y="1113.6" width="202.3" height="145.6" fill="rgb(178,178,178)"/><rect x="2840.4" y="1258.2" width="202.3" height="145.6" fill="rgb(115,115,115)"/><rect x="3041.7" y="1258.2" width="142.3" height="145.6" fill="rgb(128,128,128)"/><rect x="3183.1" y="1258.2" width="142.3" height="145.6" fill="rgb(204,204,204)"/><rect x="3324.4" y="1258.2" width="142.3" height="145.6" fill="rgb(140,140,140)"/><rect x="3465.7" y="1258.2" width="142.3" height="145.6" fill="rgb(115,115,115)"/><rect x="3607.1" y="1258.2" width="142.3" height="145.6" fill="rgb(115,115,115)"/><rect x="3748.4" y="1258.2" width="142.3" height="145.6" fill="rgb(89,89,89)"/><rect x="3889.7" y="1258.2" width="142.3" height="145.6" fill="rgb(102,102,102)"/><rect x="4031.1" y="1258.2" width="142.3" height="145.6" fill="rgb(140,140,140)"/><rect x="4172.4" y="1258.2" width="142.3" height="145.6" fill="rgb(115,115,115)"/><rect x="4313.7" y="1258.2" width="142.3" height="145.6" fill="rgb(140,140,140)"/><rect x="4455.1" y="1258.2" width="202.3" height="145.6" fill="rgb(166,166,166)"/><rect x="2840.4" y="1402.8" width="202.3" height="145.6" fill="rgb(115,115,115)"/><rect x="3041.7" y="1402.8" width="142.3" height="145.6" fill="rgb(128,128,128)"/><rect x="3183.1" y="1402.8" width="142.3" height="145.6" fill="rgb(166,166,166)"/><rect x="3324.4" y="1402.8" width="142.3" height="145.6" fill="rgb(115,115,115)"/><rect x="3465.7" y="1402.8" width="142.3" height="145.6" fill="rgb(115,115,115)"/><rect x="3607.1" y="1402.8" width="142.3" height="145.6" fill="rgb(128,128,128)"/><rect x="3748.4" y="1402.8" width="142.3" height="145.6" fill="rgb(140,140,140)"/><rect x="3889.7" y="1402.8" width="142.3" height="145.6" fill="rgb(191,191,191)"/><rect x="4031.1" y="1402.8" width="142.3" height="145.6" fill="rgb(115,115,115)"/><rect x="4172.4" y="1402.8" width="142.3" height="145.6" fill="rgb(89,89,89)"/><rect x="4313.7" y="1402.8" width="142.3" height="145.6" fill="rgb(115,115,115)"/><rect x="4455.1" y="1402.8" width="202.3" height="145.6" fill="rgb(128,128,128)"/><rect x="2840.4" y="1547.3" width="202.3" height="145.6" fill="rgb(115,115,115)"/><rect x="3041.7" y="1547.3" width="142.3" height="145.6" fill="rgb(128,128,128)"/><rect x="3183.1" y="1547.3" width="142.3" height="145.6" fill="rgb(153,153,153)"/><rect x="3324.4" y="1547.3" width="142.3" height="145.6" fill="rgb(128,128,128)"/><rect x="3465.7" y="1547.3" width="142.3" height="145.6" fill="rgb(128,128,128)"/><rect x="3607.1" y="1547.3" width="142.3" height="145.6" fill="rgb(128,128,128)"/><rect x="3748.4" y="1547.3" width="142.3" height="145.6" fill="rgb(178,178,178)"/><rect x="3889.7" y="1547.3" width="142.3" height="145.6" fill="rgb(178,178,178)"/><rect x="4031.1" y="1547.3" width="142.3" height="145.6" fill="rgb(89,89,89)"/><rect x="4172.4" y="1547.3" width="142.3" height="145.6" fill="rgb(64,64,64)"/><rect x="4313.7" y="1547.3" width="142.3" height="145.6" fill="rgb(102,102,102)"/><rect x="4455.1" y="1547.3" width="202.3" height="145.6" fill="rgb(128,128,128)"/><rect x="2840.4" y="1691.9" width="202.3" height="145.6" fill="rgb(115,115,115)"/><rect x="3041.7" y="1691.9" width="142.3" height="145.6" fill="rgb(128,128,128)"/><rect x="3183.1" y="1691.9" width="142.3" height="145.6" fill="rgb(140,140,140)"/><rect x="3324.4" y="1691.9" width="142.3" height="145.6" fill="rgb(128,128,128)"/><rect x="3465.7" y="1691.9" width="142.3" height="145.6" fill="rgb(128,128,128)"/><rect x="3607.1" y="1691.9" width="142.3" height="145.6" fill="rgb(128,128,128)"/><rect x="3748.4" y="1691.9" width="142.3" height="145.6" fill="rgb(128,128,128)"/><rect x="3889.7" y="1691.9" width="142.3" height="145.6" fill="rgb(115,115,115)"/><rect x="4031.1" y="1691.9" width="142.3" height="145.6" fill="rgb(102,102,102)"/><rect x="4172.4" y="1691.9" width="142.3" height="145.6" fill="rgb(102,102,102)"/><rect x="4313.7" y="1691.9" width="142.3" height="145.6" fill="rgb(128,128,128)"/><rect x="4455.1" y="1691.9" width="202.3" height="145.6" fill="rgb(140,140,140)"/><rect x="2840.4" y="1836.4" width="202.3" height="205.6" fill="rgb(115,115,115)"/><rect x="3041.7" y="1836.4" width="142.3" height="205.6" fill="rgb(128,128,128)"/><rect x="3183.1" y="1836.4" width="142.3" height="205.6" fill="rgb(140,140,140)"/><rect x="3324.4" y="1836.4" width="142.3" height="205.6" fill="rgb(128,128,128)"/><rect x="3465.7" y="1836.4" width="142.3" height="205.6" fill="rgb(128,128,128)"/><rect x="3607.1" y="1836.4" width="142.3" height="205.6" fill="rgb(128,128,128)"/><rect x="3748.4" y="1836.4" width="142.3" height="205.6" fill="rgb(140,140,140)"/><rect x="3889.7" y="1836.4" width="142.3" height="205.6" fill="rgb(140,140,140)"/><rect x="4031.1" y="1836.4" width="142.3" height="205.6" fill="rgb(128,128,128)"/><rect x="4172.4" y="1836.4" width="142.3" height="205.6" fill="rgb(115,115,115)"/><rect x="4313.7" y="1836.4" width="142.3" height="205.6" fill="rgb(128,128,128)"/><rect x="4455.1" y="1836.4" width="202.3" height="205.6" fill="rgb(128,128,128)"/></g><g filter="url(#blurV)" fill="#ffffff"><path d="M3466,100 L3513,100 L3533,197 L3549,314 L3588,373 L3549,450 L3504,502 L3484,554 L3471,619 L3445,684 L3419,742 L3380,788 L3367,846 L3355,940 L3330,1000 L3300,1040 L3166,1040 L3179,944 L3212,866 L3263,788 L3289,736 L3302,671 L3322,593 L3354,515 L3406,463 L3445,405 L3458,347 L3455,262 L3461,165 Z"/><path d="M3175,1000 L3290,1020 L3300,1100 L3290,1200 L3280,1300 L3268,1400 L3255,1480 L3190,1500 L3180,1400 L3180,1250 L3170,1100 Z"/><path d="M2900,100 L2975,100 L2985,200 L2970,290 L2900,305 Z"/><path d="M3645,100 L3712,100 L3712,230 L3650,235 Z"/><path d="M3895,100 L4010,100 L4060,160 L4060,260 L4000,330 L3960,400 L3900,405 L3880,300 Z"/><path d="M4030,100 L4150,100 L4150,200 L4080,250 L4040,200 Z"/><path d="M3728,1683 L3800,1683 L3900,1600 L4000,1520 L4060,1460 L4060,1390 L4000,1400 L3900,1470 L3800,1560 L3728,1620 Z"/><path d="M4520,350 L4596,350 L4596,560 L4510,560 Z"/><path d="M4228,237 L4300,232 L4414,236 L4414,400 L4380,427 L4300,432 L4235,427 Z"/><path d="M4414,195 L4497,195 L4497,237 L4414,237 Z"/><path d="M4510,120 L4600,120 L4600,185 L4510,185 Z"/><path d="M4312,100 L4345,100 L4345,232 L4312,232 Z"/><path d="M4380,178 L4596,178 L4596,243 L4380,243 Z"/><path d="M4520,900 L4596,880 L4596,1300 L4540,1300 Z"/></g><path d="M3610,372 L3680,380 L3720,420 L3790,470 L3850,560 L3860,700 L3850,830 L3760,870 L3660,850 L3625,760 L3615,600 L3605,480 Z" fill="rgb(0,0,0)" filter="url(#blurV)"/></g></g></g>
<g mask="url(#clipS)"><g transform="rotate(-28 3748.3999999999996 1041.35)" filter="url(#terr3)"><g transform="rotate(28 3748.3999999999996 1041.35)"><rect x="2840.4" y="41.7" width="1815.9999999999995" height="1999.3" fill="rgb(115,115,115)"/><g filter="url(#blurD)"><rect x="2840.4" y="41.7" width="202.3" height="205.6" fill="rgb(153,153,153)"/><rect x="3041.7" y="41.7" width="142.3" height="205.6" fill="rgb(102,102,102)"/><rect x="3183.1" y="41.7" width="142.3" height="205.6" fill="rgb(102,102,102)"/><rect x="3324.4" y="41.7" width="142.3" height="205.6" fill="rgb(128,128,128)"/><rect x="3465.7" y="41.7" width="142.3" height="205.6" fill="rgb(178,178,178)"/><rect x="3607.1" y="41.7" width="142.3" height="205.6" fill="rgb(153,153,153)"/><rect x="3748.4" y="41.7" width="142.3" height="205.6" fill="rgb(140,140,140)"/><rect x="3889.7" y="41.7" width="142.3" height="205.6" fill="rgb(178,178,178)"/><rect x="4031.1" y="41.7" width="142.3" height="205.6" fill="rgb(166,166,166)"/><rect x="4172.4" y="41.7" width="142.3" height="205.6" fill="rgb(89,89,89)"/><rect x="4313.7" y="41.7" width="142.3" height="205.6" fill="rgb(128,128,128)"/><rect x="4455.1" y="41.7" width="202.3" height="205.6" fill="rgb(140,140,140)"/><rect x="2840.4" y="246.3" width="202.3" height="145.6" fill="rgb(140,140,140)"/><rect x="3041.7" y="246.3" width="142.3" height="145.6" fill="rgb(102,102,102)"/><rect x="3183.1" y="246.3" width="142.3" height="145.6" fill="rgb(89,89,89)"/><rect x="3324.4" y="246.3" width="142.3" height="145.6" fill="rgb(115,115,115)"/><rect x="3465.7" y="246.3" width="142.3" height="145.6" fill="rgb(191,191,191)"/><rect x="3607.1" y="246.3" width="142.3" height="145.6" fill="rgb(140,140,140)"/><rect x="3748.4" y="246.3" width="142.3" height="145.6" fill="rgb(140,140,140)"/><rect x="3889.7" y="246.3" width="142.3" height="145.6" fill="rgb(178,178,178)"/><rect x="4031.1" y="246.3" width="142.3" height="145.6" fill="rgb(128,128,128)"/><rect x="4172.4" y="246.3" width="142.3" height="145.6" fill="rgb(128,128,128)"/><rect x="4313.7" y="246.3" width="142.3" height="145.6" fill="rgb(128,128,128)"/><rect x="4455.1" y="246.3" width="202.3" height="145.6" fill="rgb(153,153,153)"/><rect x="2840.4" y="390.8" width="202.3" height="145.6" fill="rgb(115,115,115)"/><rect x="3041.7" y="390.8" width="142.3" height="145.6" fill="rgb(102,102,102)"/><rect x="3183.1" y="390.8" width="142.3" height="145.6" fill="rgb(102,102,102)"/><rect x="3324.4" y="390.8" width="142.3" height="145.6" fill="rgb(140,140,140)"/><rect x="3465.7" y="390.8" width="142.3" height="145.6" fill="rgb(178,178,178)"/><rect x="3607.1" y="390.8" width="142.3" height="145.6" fill="rgb(38,38,38)"/><rect x="3748.4" y="390.8" width="142.3" height="145.6" fill="rgb(115,115,115)"/><rect x="3889.7" y="390.8" width="142.3" height="145.6" fill="rgb(115,115,115)"/><rect x="4031.1" y="390.8" width="142.3" height="145.6" fill="rgb(115,115,115)"/><rect x="4172.4" y="390.8" width="142.3" height="145.6" fill="rgb(140,140,140)"/><rect x="4313.7" y="390.8" width="142.3" height="145.6" fill="rgb(115,115,115)"/><rect x="4455.1" y="390.8" width="202.3" height="145.6" fill="rgb(153,153,153)"/><rect x="2840.4" y="535.4" width="202.3" height="145.6" fill="rgb(115,115,115)"/><rect x="3041.7" y="535.4" width="142.3" height="145.6" fill="rgb(102,102,102)"/><rect x="3183.1" y="535.4" width="142.3" height="145.6" fill="rgb(115,115,115)"/><rect x="3324.4" y="535.4" width="142.3" height="145.6" fill="rgb(204,204,204)"/><rect x="3465.7" y="535.4" width="142.3" height="145.6" fill="rgb(140,140,140)"/><rect x="3607.1" y="535.4" width="142.3" height="145.6" fill="rgb(102,102,102)"/><rect x="3748.4" y="535.4" width="142.3" height="145.6" fill="rgb(51,51,51)"/><rect x="3889.7" y="535.4" width="142.3" height="145.6" fill="rgb(89,89,89)"/><rect x="4031.1" y="535.4" width="142.3" height="145.6" fill="rgb(128,128,128)"/><rect x="4172.4" y="535.4" width="142.3" height="145.6" fill="rgb(140,140,140)"/><rect x="4313.7" y="535.4" width="142.3" height="145.6" fill="rgb(153,153,153)"/><rect x="4455.1" y="535.4" width="202.3" height="145.6" fill="rgb(140,140,140)"/><rect x="2840.4" y="679.9" width="202.3" height="145.6" fill="rgb(102,102,102)"/><rect x="3041.7" y="679.9" width="142.3" height="145.6" fill="rgb(102,102,102)"/><rect x="3183.1" y="679.9" width="142.3" height="145.6" fill="rgb(153,153,153)"/><rect x="3324.4" y="679.9" width="142.3" height="145.6" fill="rgb(217,217,217)"/><rect x="3465.7" y="679.9" width="142.3" height="145.6" fill="rgb(128,128,128)"/><rect x="3607.1" y="679.9" width="142.3" height="145.6" fill="rgb(115,115,115)"/><rect x="3748.4" y="679.9" width="142.3" height="145.6" fill="rgb(64,64,64)"/><rect x="3889.7" y="679.9" width="142.3" height="145.6" fill="rgb(102,102,102)"/><rect x="4031.1" y="679.9" width="142.3" height="145.6" fill="rgb(166,166,166)"/><rect x="4172.4" y="679.9" width="142.3" height="145.6" fill="rgb(153,153,153)"/><rect x="4313.7" y="679.9" width="142.3" height="145.6" fill="rgb(153,153,153)"/><rect x="4455.1" y="679.9" width="202.3" height="145.6" fill="rgb(153,153,153)"/><rect x="2840.4" y="824.5" width="202.3" height="145.6" fill="rgb(102,102,102)"/><rect x="3041.7" y="824.5" width="142.3" height="145.6" fill="rgb(115,115,115)"/><rect x="3183.1" y="824.5" width="142.3" height="145.6" fill="rgb(191,191,191)"/><rect x="3324.4" y="824.5" width="142.3" height="145.6" fill="rgb(115,115,115)"/><rect x="3465.7" y="824.5" width="142.3" height="145.6" fill="rgb(102,102,102)"/><rect x="3607.1" y="824.5" width="142.3" height="145.6" fill="rgb(89,89,89)"/><rect x="3748.4" y="824.5" width="142.3" height="145.6" fill="rgb(64,64,64)"/><rect x="3889.7" y="824.5" width="142.3" height="145.6" fill="rgb(102,102,102)"/><rect x="4031.1" y="824.5" width="142.3" height="145.6" fill="rgb(153,153,153)"/><rect x="4172.4" y="824.5" width="142.3" height="145.6" fill="rgb(166,166,166)"/><rect x="4313.7" y="824.5" width="142.3" height="145.6" fill="rgb(140,140,140)"/><rect x="4455.1" y="824.5" width="202.3" height="145.6" fill="rgb(153,153,153)"/><rect x="2840.4" y="969.1" width="202.3" height="145.6" fill="rgb(102,102,102)"/><rect x="3041.7" y="969.1" width="142.3" height="145.6" fill="rgb(89,89,89)"/><rect x="3183.1" y="969.1" width="142.3" height="145.6" fill="rgb(178,178,178)"/><rect x="3324.4" y="969.1" width="142.3" height="145.6" fill="rgb(140,140,140)"/><rect x="3465.7" y="969.1" width="142.3" height="145.6" fill="rgb(89,89,89)"/><rect x="3607.1" y="969.1" width="142.3" height="145.6" fill="rgb(115,115,115)"/><rect x="3748.4" y="969.1" width="142.3" height="145.6" fill="rgb(64,64,64)"/><rect x="3889.7" y="969.1" width="142.3" height="145.6" fill="rgb(76,76,76)"/><rect x="4031.1" y="969.1" width="142.3" height="145.6" fill="rgb(76,76,76)"/><rect x="4172.4" y="969.1" width="142.3" height="145.6" fill="rgb(102,102,102)"/><rect x="4313.7" y="969.1" width="142.3" height="145.6" fill="rgb(140,140,140)"/><rect x="4455.1" y="969.1" width="202.3" height="145.6" fill="rgb(178,178,178)"/><rect x="2840.4" y="1113.6" width="202.3" height="145.6" fill="rgb(115,115,115)"/><rect x="3041.7" y="1113.6" width="142.3" height="145.6" fill="rgb(128,128,128)"/><rect x="3183.1" y="1113.6" width="142.3" height="145.6" fill="rgb(178,178,178)"/><rect x="3324.4" y="1113.6" width="142.3" height="145.6" fill="rgb(153,153,153)"/><rect x="3465.7" y="1113.6" width="142.3" height="145.6" fill="rgb(102,102,102)"/><rect x="3607.1" y="1113.6" width="142.3" height="145.6" fill="rgb(102,102,102)"/><rect x="3748.4" y="1113.6" width="142.3" height="145.6" fill="rgb(76,76,76)"/><rect x="3889.7" y="1113.6" width="142.3" height="145.6" fill="rgb(76,76,76)"/><rect x="4031.1" y="1113.6" width="142.3" height="145.6" fill="rgb(102,102,102)"/><rect x="4172.4" y="1113.6" width="142.3" height="145.6" fill="rgb(128,128,128)"/><rect x="4313.7" y="1113.6" width="142.3" height="145.6" fill="rgb(140,140,140)"/><rect x="4455.1" y="1113.6" width="202.3" height="145.6" fill="rgb(178,178,178)"/><rect x="2840.4" y="1258.2" width="202.3" height="145.6" fill="rgb(115,115,115)"/><rect x="3041.7" y="1258.2" width="142.3" height="145.6" fill="rgb(128,128,128)"/><rect x="3183.1" y="1258.2" width="142.3" height="145.6" fill="rgb(204,204,204)"/><rect x="3324.4" y="1258.2" width="142.3" height="145.6" fill="rgb(140,140,140)"/><rect x="3465.7" y="1258.2" width="142.3" height="145.6" fill="rgb(115,115,115)"/><rect x="3607.1" y="1258.2" width="142.3" height="145.6" fill="rgb(115,115,115)"/><rect x="3748.4" y="1258.2" width="142.3" height="145.6" fill="rgb(89,89,89)"/><rect x="3889.7" y="1258.2" width="142.3" height="145.6" fill="rgb(102,102,102)"/><rect x="4031.1" y="1258.2" width="142.3" height="145.6" fill="rgb(140,140,140)"/><rect x="4172.4" y="1258.2" width="142.3" height="145.6" fill="rgb(115,115,115)"/><rect x="4313.7" y="1258.2" width="142.3" height="145.6" fill="rgb(140,140,140)"/><rect x="4455.1" y="1258.2" width="202.3" height="145.6" fill="rgb(166,166,166)"/><rect x="2840.4" y="1402.8" width="202.3" height="145.6" fill="rgb(115,115,115)"/><rect x="3041.7" y="1402.8" width="142.3" height="145.6" fill="rgb(128,128,128)"/><rect x="3183.1" y="1402.8" width="142.3" height="145.6" fill="rgb(166,166,166)"/><rect x="3324.4" y="1402.8" width="142.3" height="145.6" fill="rgb(115,115,115)"/><rect x="3465.7" y="1402.8" width="142.3" height="145.6" fill="rgb(115,115,115)"/><rect x="3607.1" y="1402.8" width="142.3" height="145.6" fill="rgb(128,128,128)"/><rect x="3748.4" y="1402.8" width="142.3" height="145.6" fill="rgb(140,140,140)"/><rect x="3889.7" y="1402.8" width="142.3" height="145.6" fill="rgb(191,191,191)"/><rect x="4031.1" y="1402.8" width="142.3" height="145.6" fill="rgb(115,115,115)"/><rect x="4172.4" y="1402.8" width="142.3" height="145.6" fill="rgb(89,89,89)"/><rect x="4313.7" y="1402.8" width="142.3" height="145.6" fill="rgb(115,115,115)"/><rect x="4455.1" y="1402.8" width="202.3" height="145.6" fill="rgb(128,128,128)"/><rect x="2840.4" y="1547.3" width="202.3" height="145.6" fill="rgb(115,115,115)"/><rect x="3041.7" y="1547.3" width="142.3" height="145.6" fill="rgb(128,128,128)"/><rect x="3183.1" y="1547.3" width="142.3" height="145.6" fill="rgb(153,153,153)"/><rect x="3324.4" y="1547.3" width="142.3" height="145.6" fill="rgb(128,128,128)"/><rect x="3465.7" y="1547.3" width="142.3" height="145.6" fill="rgb(128,128,128)"/><rect x="3607.1" y="1547.3" width="142.3" height="145.6" fill="rgb(128,128,128)"/><rect x="3748.4" y="1547.3" width="142.3" height="145.6" fill="rgb(178,178,178)"/><rect x="3889.7" y="1547.3" width="142.3" height="145.6" fill="rgb(178,178,178)"/><rect x="4031.1" y="1547.3" width="142.3" height="145.6" fill="rgb(89,89,89)"/><rect x="4172.4" y="1547.3" width="142.3" height="145.6" fill="rgb(64,64,64)"/><rect x="4313.7" y="1547.3" width="142.3" height="145.6" fill="rgb(102,102,102)"/><rect x="4455.1" y="1547.3" width="202.3" height="145.6" fill="rgb(128,128,128)"/><rect x="2840.4" y="1691.9" width="202.3" height="145.6" fill="rgb(115,115,115)"/><rect x="3041.7" y="1691.9" width="142.3" height="145.6" fill="rgb(128,128,128)"/><rect x="3183.1" y="1691.9" width="142.3" height="145.6" fill="rgb(140,140,140)"/><rect x="3324.4" y="1691.9" width="142.3" height="145.6" fill="rgb(128,128,128)"/><rect x="3465.7" y="1691.9" width="142.3" height="145.6" fill="rgb(128,128,128)"/><rect x="3607.1" y="1691.9" width="142.3" height="145.6" fill="rgb(128,128,128)"/><rect x="3748.4" y="1691.9" width="142.3" height="145.6" fill="rgb(128,128,128)"/><rect x="3889.7" y="1691.9" width="142.3" height="145.6" fill="rgb(115,115,115)"/><rect x="4031.1" y="1691.9" width="142.3" height="145.6" fill="rgb(102,102,102)"/><rect x="4172.4" y="1691.9" width="142.3" height="145.6" fill="rgb(102,102,102)"/><rect x="4313.7" y="1691.9" width="142.3" height="145.6" fill="rgb(128,128,128)"/><rect x="4455.1" y="1691.9" width="202.3" height="145.6" fill="rgb(140,140,140)"/><rect x="2840.4" y="1836.4" width="202.3" height="205.6" fill="rgb(115,115,115)"/><rect x="3041.7" y="1836.4" width="142.3" height="205.6" fill="rgb(128,128,128)"/><rect x="3183.1" y="1836.4" width="142.3" height="205.6" fill="rgb(140,140,140)"/><rect x="3324.4" y="1836.4" width="142.3" height="205.6" fill="rgb(128,128,128)"/><rect x="3465.7" y="1836.4" width="142.3" height="205.6" fill="rgb(128,128,128)"/><rect x="3607.1" y="1836.4" width="142.3" height="205.6" fill="rgb(128,128,128)"/><rect x="3748.4" y="1836.4" width="142.3" height="205.6" fill="rgb(140,140,140)"/><rect x="3889.7" y="1836.4" width="142.3" height="205.6" fill="rgb(140,140,140)"/><rect x="4031.1" y="1836.4" width="142.3" height="205.6" fill="rgb(128,128,128)"/><rect x="4172.4" y="1836.4" width="142.3" height="205.6" fill="rgb(115,115,115)"/><rect x="4313.7" y="1836.4" width="142.3" height="205.6" fill="rgb(128,128,128)"/><rect x="4455.1" y="1836.4" width="202.3" height="205.6" fill="rgb(128,128,128)"/></g><g filter="url(#blurV)" fill="#ffffff"><path d="M3466,100 L3513,100 L3533,197 L3549,314 L3588,373 L3549,450 L3504,502 L3484,554 L3471,619 L3445,684 L3419,742 L3380,788 L3367,846 L3355,940 L3330,1000 L3300,1040 L3166,1040 L3179,944 L3212,866 L3263,788 L3289,736 L3302,671 L3322,593 L3354,515 L3406,463 L3445,405 L3458,347 L3455,262 L3461,165 Z"/><path d="M3175,1000 L3290,1020 L3300,1100 L3290,1200 L3280,1300 L3268,1400 L3255,1480 L3190,1500 L3180,1400 L3180,1250 L3170,1100 Z"/><path d="M2900,100 L2975,100 L2985,200 L2970,290 L2900,305 Z"/><path d="M3645,100 L3712,100 L3712,230 L3650,235 Z"/><path d="M3895,100 L4010,100 L4060,160 L4060,260 L4000,330 L3960,400 L3900,405 L3880,300 Z"/><path d="M4030,100 L4150,100 L4150,200 L4080,250 L4040,200 Z"/><path d="M3728,1683 L3800,1683 L3900,1600 L4000,1520 L4060,1460 L4060,1390 L4000,1400 L3900,1470 L3800,1560 L3728,1620 Z"/><path d="M4520,350 L4596,350 L4596,560 L4510,560 Z"/><path d="M4228,237 L4300,232 L4414,236 L4414,400 L4380,427 L4300,432 L4235,427 Z"/><path d="M4414,195 L4497,195 L4497,237 L4414,237 Z"/><path d="M4510,120 L4600,120 L4600,185 L4510,185 Z"/><path d="M4312,100 L4345,100 L4345,232 L4312,232 Z"/><path d="M4380,178 L4596,178 L4596,243 L4380,243 Z"/><path d="M4520,900 L4596,880 L4596,1300 L4540,1300 Z"/></g><path d="M3610,372 L3680,380 L3720,420 L3790,470 L3850,560 L3860,700 L3850,830 L3760,870 L3660,850 L3625,760 L3615,600 L3605,480 Z" fill="rgb(0,0,0)" filter="url(#blurV)"/></g></g></g>
<g stroke="#7d8072" stroke-width="1.2" opacity="0.85"><line x1="3006.7" y1="101.7" x2="3006.7" y2="1981"/><line x1="3367" y1="101.7" x2="3367" y2="1981"/><line x1="3727" y1="101.7" x2="3727" y2="1981"/><line x1="4087" y1="101.7" x2="4087" y2="1981"/><line x1="4447.6" y1="101.7" x2="4447.6" y2="1981"/><line x1="2900.4" y1="330.6" x2="4596.4" y2="330.6"/><line x1="2900.4" y1="632" x2="4596.4" y2="632"/><line x1="2900.4" y1="933" x2="4596.4" y2="933"/><line x1="2900.4" y1="1233" x2="4596.4" y2="1233"/><line x1="2900.4" y1="1534" x2="4596.4" y2="1534"/><line x1="2900.4" y1="1835.6" x2="4596.4" y2="1835.6"/></g>
<g fill="none" stroke-linejoin="round" stroke-linecap="round">
<path d="M3705.0,100.0 C3707.2,114.0 3718.0,162.3 3718.0,184.0 C3718.0,205.7 3715.8,217.0 3705.0,230.0 C3694.2,243.0 3663.8,253.3 3653.0,262.0 C3642.2,270.7 3640.0,272.2 3640.0,282.0 C3640.0,291.8 3646.5,308.0 3653.0,321.0 C3659.5,334.0 3672.5,346.0 3679.0,360.0 C3685.5,374.0 3692.0,392.2 3692.0,405.0 C3692.0,417.8 3682.3,423.0 3679.0,437.0 C3675.7,451.0 3674.2,476.0 3672.0,489.0 C3669.8,502.0 3663.8,504.2 3666.0,515.0 C3668.2,525.8 3677.5,542.0 3685.0,554.0 C3692.5,566.0 3701.0,577.7 3711.0,587.0 C3721.0,596.3 3731.8,602.8 3745.0,610.0 C3758.2,617.2 3778.0,618.7 3790.0,630.0 C3802.0,641.3 3820.3,662.7 3817.0,678.0 C3813.7,693.3 3771.7,709.5 3770.0,722.0 C3768.3,734.5 3792.2,742.7 3807.0,753.0 C3821.8,763.3 3849.8,771.2 3859.0,784.0 C3868.2,796.8 3859.3,810.7 3862.0,830.0 C3864.7,849.3 3871.5,871.7 3875.0,900.0 C3878.5,928.3 3875.6,979.9 3883.0,1000.0 C3890.4,1020.1 3902.2,1011.3 3919.7,1020.4 C3937.1,1029.5 3965.0,1043.1 3987.7,1054.4 C4010.4,1065.7 4038.7,1078.2 4055.7,1088.4 C4072.7,1098.6 4082.9,1104.3 4089.7,1115.6 C4096.5,1126.9 4090.8,1141.7 4096.5,1156.4 C4102.1,1171.1 4112.3,1188.2 4123.6,1204.0 C4134.9,1219.8 4147.4,1232.2 4164.4,1251.5 C4181.4,1270.8 4209.7,1301.4 4225.6,1319.5 C4241.5,1337.6 4248.3,1346.7 4259.6,1360.3 C4270.9,1373.9 4286.8,1387.4 4293.6,1401.0 C4300.4,1414.6 4294.7,1429.4 4300.4,1441.9 C4306.1,1454.4 4317.4,1464.6 4327.6,1475.9 C4337.8,1487.2 4350.3,1498.6 4361.6,1509.9 C4372.9,1521.2 4388.8,1534.8 4395.6,1543.8 C4402.4,1552.8 4403.5,1556.3 4402.4,1564.2 C4401.3,1572.1 4392.2,1577.8 4388.8,1591.4 C4385.4,1605.0 4378.6,1628.8 4382.0,1645.8 C4385.4,1662.8 4395.6,1676.4 4409.2,1693.4 C4422.8,1710.4 4443.2,1727.4 4463.6,1747.8 C4484.0,1768.2 4508.9,1790.9 4531.6,1815.8 C4554.3,1840.7 4588.6,1883.7 4600.0,1897.3" stroke="#c49a86" stroke-width="8"/>
<path d="M3705.0,100.0 C3707.2,114.0 3718.0,162.3 3718.0,184.0 C3718.0,205.7 3715.8,217.0 3705.0,230.0 C3694.2,243.0 3663.8,253.3 3653.0,262.0 C3642.2,270.7 3640.0,272.2 3640.0,282.0 C3640.0,291.8 3646.5,308.0 3653.0,321.0 C3659.5,334.0 3672.5,346.0 3679.0,360.0 C3685.5,374.0 3692.0,392.2 3692.0,405.0 C3692.0,417.8 3682.3,423.0 3679.0,437.0 C3675.7,451.0 3674.2,476.0 3672.0,489.0 C3669.8,502.0 3663.8,504.2 3666.0,515.0 C3668.2,525.8 3677.5,542.0 3685.0,554.0 C3692.5,566.0 3701.0,577.7 3711.0,587.0 C3721.0,596.3 3731.8,602.8 3745.0,610.0 C3758.2,617.2 3778.0,618.7 3790.0,630.0 C3802.0,641.3 3820.3,662.7 3817.0,678.0 C3813.7,693.3 3771.7,709.5 3770.0,722.0 C3768.3,734.5 3792.2,742.7 3807.0,753.0 C3821.8,763.3 3849.8,771.2 3859.0,784.0 C3868.2,796.8 3859.3,810.7 3862.0,830.0 C3864.7,849.3 3871.5,871.7 3875.0,900.0 C3878.5,928.3 3875.6,979.9 3883.0,1000.0 C3890.4,1020.1 3902.2,1011.3 3919.7,1020.4 C3937.1,1029.5 3965.0,1043.1 3987.7,1054.4 C4010.4,1065.7 4038.7,1078.2 4055.7,1088.4 C4072.7,1098.6 4082.9,1104.3 4089.7,1115.6 C4096.5,1126.9 4090.8,1141.7 4096.5,1156.4 C4102.1,1171.1 4112.3,1188.2 4123.6,1204.0 C4134.9,1219.8 4147.4,1232.2 4164.4,1251.5 C4181.4,1270.8 4209.7,1301.4 4225.6,1319.5 C4241.5,1337.6 4248.3,1346.7 4259.6,1360.3 C4270.9,1373.9 4286.8,1387.4 4293.6,1401.0 C4300.4,1414.6 4294.7,1429.4 4300.4,1441.9 C4306.1,1454.4 4317.4,1464.6 4327.6,1475.9 C4337.8,1487.2 4350.3,1498.6 4361.6,1509.9 C4372.9,1521.2 4388.8,1534.8 4395.6,1543.8 C4402.4,1552.8 4403.5,1556.3 4402.4,1564.2 C4401.3,1572.1 4392.2,1577.8 4388.8,1591.4 C4385.4,1605.0 4378.6,1628.8 4382.0,1645.8 C4385.4,1662.8 4395.6,1676.4 4409.2,1693.4 C4422.8,1710.4 4443.2,1727.4 4463.6,1747.8 C4484.0,1768.2 4508.9,1790.9 4531.6,1815.8 C4554.3,1840.7 4588.6,1883.7 4600.0,1897.3" stroke="#ebc9b4" stroke-width="3.5"/>
<path d="M3692.0,405.0 C3699.8,409.3 3723.7,423.5 3739.0,431.0 C3754.3,438.5 3773.2,440.3 3784.0,450.0 C3794.8,459.7 3799.7,477.0 3804.0,489.0 C3808.3,501.0 3803.5,512.2 3810.0,522.0 C3816.5,531.8 3828.8,540.5 3843.0,548.0 C3857.2,555.5 3875.5,556.2 3895.0,567.0 C3914.5,577.8 3940.7,600.0 3960.0,613.0 C3979.3,626.0 3996.0,633.2 4011.0,645.0 C4026.0,656.8 4041.3,671.0 4050.0,684.0 C4058.7,697.0 4058.7,722.0 4063.0,723.0 C4067.3,724.0 4071.8,697.0 4076.0,690.0 C4080.2,683.0 4075.0,680.0 4088.0,680.7 C4101.0,681.4 4132.0,687.4 4154.0,694.0 C4176.0,700.6 4203.5,714.8 4220.0,720.3 C4236.5,725.8 4242.0,731.4 4253.0,727.0 C4264.0,722.6 4275.0,710.5 4286.0,694.0 C4297.0,677.5 4308.0,645.6 4319.0,628.0 C4330.0,610.4 4335.5,599.4 4352.0,588.4 C4368.5,577.4 4396.0,570.8 4418.0,562.0 C4440.0,553.2 4463.2,542.2 4484.0,535.6 C4504.8,529.0 4523.7,522.4 4543.0,522.4 C4562.3,522.4 4590.5,533.4 4600.0,535.6" stroke="#c49a86" stroke-width="8"/>
<path d="M3692.0,405.0 C3699.8,409.3 3723.7,423.5 3739.0,431.0 C3754.3,438.5 3773.2,440.3 3784.0,450.0 C3794.8,459.7 3799.7,477.0 3804.0,489.0 C3808.3,501.0 3803.5,512.2 3810.0,522.0 C3816.5,531.8 3828.8,540.5 3843.0,548.0 C3857.2,555.5 3875.5,556.2 3895.0,567.0 C3914.5,577.8 3940.7,600.0 3960.0,613.0 C3979.3,626.0 3996.0,633.2 4011.0,645.0 C4026.0,656.8 4041.3,671.0 4050.0,684.0 C4058.7,697.0 4058.7,722.0 4063.0,723.0 C4067.3,724.0 4071.8,697.0 4076.0,690.0 C4080.2,683.0 4075.0,680.0 4088.0,680.7 C4101.0,681.4 4132.0,687.4 4154.0,694.0 C4176.0,700.6 4203.5,714.8 4220.0,720.3 C4236.5,725.8 4242.0,731.4 4253.0,727.0 C4264.0,722.6 4275.0,710.5 4286.0,694.0 C4297.0,677.5 4308.0,645.6 4319.0,628.0 C4330.0,610.4 4335.5,599.4 4352.0,588.4 C4368.5,577.4 4396.0,570.8 4418.0,562.0 C4440.0,553.2 4463.2,542.2 4484.0,535.6 C4504.8,529.0 4523.7,522.4 4543.0,522.4 C4562.3,522.4 4590.5,533.4 4600.0,535.6" stroke="#ebc9b4" stroke-width="3.5"/>
<path d="M3804.0,469.6 C3816.1,461.9 3851.4,432.2 3876.7,423.4 C3902.0,414.6 3933.9,420.1 3955.9,416.8 C3977.9,413.5 3997.7,412.4 4008.7,403.6 C4019.7,394.8 4016.5,381.6 4022.0,364.0 C4027.5,346.4 4035.1,320.0 4041.7,298.0 C4048.3,276.0 4053.8,250.7 4061.5,232.0 C4069.2,213.3 4075.9,199.0 4088.0,185.8 C4100.1,172.6 4118.7,167.1 4134.0,152.8 C4149.3,138.5 4172.3,108.8 4180.0,100.0" stroke="#c49a86" stroke-width="8"/>
<path d="M3804.0,469.6 C3816.1,461.9 3851.4,432.2 3876.7,423.4 C3902.0,414.6 3933.9,420.1 3955.9,416.8 C3977.9,413.5 3997.7,412.4 4008.7,403.6 C4019.7,394.8 4016.5,381.6 4022.0,364.0 C4027.5,346.4 4035.1,320.0 4041.7,298.0 C4048.3,276.0 4053.8,250.7 4061.5,232.0 C4069.2,213.3 4075.9,199.0 4088.0,185.8 C4100.1,172.6 4118.7,167.1 4134.0,152.8 C4149.3,138.5 4172.3,108.8 4180.0,100.0" stroke="#ebc9b4" stroke-width="3.5"/>
<path d="M3876.7,812.7 C3867.9,814.9 3854.8,818.3 3824.0,826.0 C3793.2,833.7 3736.0,846.9 3692.0,859.0 C3648.0,871.1 3600.7,889.7 3560.0,898.5 C3519.3,907.3 3474.1,907.3 3447.7,911.7 C3421.3,916.1 3413.7,919.5 3401.6,925.0 C3389.5,930.5 3380.5,932.2 3375.0,944.7 C3369.5,957.2 3366.2,984.0 3368.6,1000.0 C3371.0,1016.0 3386.0,1034.0 3389.5,1040.8" stroke="#c49a86" stroke-width="8"/>
<path d="M3876.7,812.7 C3867.9,814.9 3854.8,818.3 3824.0,826.0 C3793.2,833.7 3736.0,846.9 3692.0,859.0 C3648.0,871.1 3600.7,889.7 3560.0,898.5 C3519.3,907.3 3474.1,907.3 3447.7,911.7 C3421.3,916.1 3413.7,919.5 3401.6,925.0 C3389.5,930.5 3380.5,932.2 3375.0,944.7 C3369.5,957.2 3366.2,984.0 3368.6,1000.0 C3371.0,1016.0 3386.0,1034.0 3389.5,1040.8" stroke="#ebc9b4" stroke-width="3.5"/>
<path d="M3375.0,1000.0 C3372.8,993.0 3369.7,968.3 3362.0,958.0 C3354.3,947.7 3342.2,943.5 3329.0,938.0 C3315.8,932.5 3295.0,932.7 3282.8,925.0 C3270.6,917.3 3259.8,908.5 3256.0,892.0 C3252.2,875.5 3257.4,842.5 3259.7,826.0 C3262.0,809.5 3276.8,799.6 3269.6,793.0 C3262.4,786.4 3234.4,789.6 3216.8,786.3 C3199.2,783.0 3183.8,778.5 3164.0,773.0 C3144.2,767.5 3120.0,759.9 3098.0,753.3 C3076.0,746.7 3048.5,737.9 3032.0,733.5 C3015.5,729.1 3021.0,731.4 2999.0,727.0 C2977.0,722.6 2916.5,710.3 2900.0,707.0" stroke="#c49a86" stroke-width="8"/>
<path d="M3375.0,1000.0 C3372.8,993.0 3369.7,968.3 3362.0,958.0 C3354.3,947.7 3342.2,943.5 3329.0,938.0 C3315.8,932.5 3295.0,932.7 3282.8,925.0 C3270.6,917.3 3259.8,908.5 3256.0,892.0 C3252.2,875.5 3257.4,842.5 3259.7,826.0 C3262.0,809.5 3276.8,799.6 3269.6,793.0 C3262.4,786.4 3234.4,789.6 3216.8,786.3 C3199.2,783.0 3183.8,778.5 3164.0,773.0 C3144.2,767.5 3120.0,759.9 3098.0,753.3 C3076.0,746.7 3048.5,737.9 3032.0,733.5 C3015.5,729.1 3021.0,731.4 2999.0,727.0 C2977.0,722.6 2916.5,710.3 2900.0,707.0" stroke="#ebc9b4" stroke-width="3.5"/>
<path d="M3389.5,1040.8 C3398.6,1043.1 3423.4,1051.0 3443.8,1054.4 C3464.2,1057.8 3489.1,1061.2 3511.8,1061.2 C3534.5,1061.2 3557.1,1056.7 3579.8,1054.4 C3602.5,1052.1 3625.1,1049.9 3647.8,1047.6 C3670.5,1045.3 3693.1,1039.7 3715.8,1040.8 C3738.5,1041.9 3761.2,1049.9 3783.8,1054.4 C3806.5,1058.9 3829.0,1064.6 3851.7,1068.0 C3874.3,1071.4 3897.0,1074.8 3919.7,1074.8 C3942.4,1074.8 3965.0,1069.7 3987.7,1068.0 C4010.4,1066.3 4034.2,1068.0 4055.7,1064.6 C4077.2,1061.2 4106.7,1050.4 4116.9,1047.6" stroke="#c49a86" stroke-width="8"/>
<path d="M3389.5,1040.8 C3398.6,1043.1 3423.4,1051.0 3443.8,1054.4 C3464.2,1057.8 3489.1,1061.2 3511.8,1061.2 C3534.5,1061.2 3557.1,1056.7 3579.8,1054.4 C3602.5,1052.1 3625.1,1049.9 3647.8,1047.6 C3670.5,1045.3 3693.1,1039.7 3715.8,1040.8 C3738.5,1041.9 3761.2,1049.9 3783.8,1054.4 C3806.5,1058.9 3829.0,1064.6 3851.7,1068.0 C3874.3,1071.4 3897.0,1074.8 3919.7,1074.8 C3942.4,1074.8 3965.0,1069.7 3987.7,1068.0 C4010.4,1066.3 4034.2,1068.0 4055.7,1064.6 C4077.2,1061.2 4106.7,1050.4 4116.9,1047.6" stroke="#ebc9b4" stroke-width="3.5"/>
<path d="M3389.5,1040.8 C3388.4,1051.0 3380.4,1082.7 3382.7,1102.0 C3384.9,1121.3 3396.2,1139.4 3403.0,1156.4 C3409.8,1173.4 3416.7,1187.0 3423.5,1204.0 C3430.3,1221.0 3437.0,1241.3 3443.8,1258.3 C3450.6,1275.3 3459.7,1286.7 3464.2,1306.0 C3468.7,1325.3 3474.4,1357.0 3471.0,1374.0 C3467.6,1391.0 3457.4,1397.8 3443.8,1408.0 C3430.2,1418.2 3400.8,1423.7 3389.5,1435.0 C3378.2,1446.3 3377.1,1462.4 3376.0,1476.0 C3374.9,1489.6 3381.6,1509.9 3382.7,1516.7" stroke="#c49a86" stroke-width="8"/>
<path d="M3389.5,1040.8 C3388.4,1051.0 3380.4,1082.7 3382.7,1102.0 C3384.9,1121.3 3396.2,1139.4 3403.0,1156.4 C3409.8,1173.4 3416.7,1187.0 3423.5,1204.0 C3430.3,1221.0 3437.0,1241.3 3443.8,1258.3 C3450.6,1275.3 3459.7,1286.7 3464.2,1306.0 C3468.7,1325.3 3474.4,1357.0 3471.0,1374.0 C3467.6,1391.0 3457.4,1397.8 3443.8,1408.0 C3430.2,1418.2 3400.8,1423.7 3389.5,1435.0 C3378.2,1446.3 3377.1,1462.4 3376.0,1476.0 C3374.9,1489.6 3381.6,1509.9 3382.7,1516.7" stroke="#ebc9b4" stroke-width="3.5"/>
<path d="M2934.0,1000.0 C2935.1,1011.3 2936.3,1045.3 2940.8,1068.0 C2945.3,1090.7 2956.5,1113.3 2961.0,1136.0 C2965.5,1158.7 2968.0,1170.0 2968.0,1204.0 C2968.0,1238.0 2964.4,1306.0 2961.0,1340.0 C2957.6,1374.0 2946.4,1378.5 2947.6,1408.0 C2948.8,1437.5 2964.6,1498.6 2968.0,1516.7" stroke="#c49a86" stroke-width="8"/>
<path d="M2934.0,1000.0 C2935.1,1011.3 2936.3,1045.3 2940.8,1068.0 C2945.3,1090.7 2956.5,1113.3 2961.0,1136.0 C2965.5,1158.7 2968.0,1170.0 2968.0,1204.0 C2968.0,1238.0 2964.4,1306.0 2961.0,1340.0 C2957.6,1374.0 2946.4,1378.5 2947.6,1408.0 C2948.8,1437.5 2964.6,1498.6 2968.0,1516.7" stroke="#ebc9b4" stroke-width="3.5"/>
<path d="M3593.4,1680.0 C3608.1,1684.5 3650.1,1703.7 3681.8,1707.0 C3713.5,1710.3 3755.5,1703.4 3783.8,1700.0 C3812.1,1696.6 3829.0,1692.3 3851.7,1686.6 C3874.3,1680.9 3897.0,1673.9 3919.7,1666.0 C3942.4,1658.1 3965.0,1650.3 3987.7,1639.0 C4010.4,1627.7 4033.0,1609.3 4055.7,1598.0 C4078.3,1586.7 4101.0,1580.0 4123.6,1571.0 C4146.2,1562.0 4168.9,1552.8 4191.6,1543.8 C4214.3,1534.8 4242.6,1528.0 4259.6,1516.7 C4276.6,1505.4 4286.8,1488.5 4293.6,1476.0 C4300.4,1463.5 4299.3,1447.6 4300.4,1441.9" stroke="#c49a86" stroke-width="8"/>
<path d="M3593.4,1680.0 C3608.1,1684.5 3650.1,1703.7 3681.8,1707.0 C3713.5,1710.3 3755.5,1703.4 3783.8,1700.0 C3812.1,1696.6 3829.0,1692.3 3851.7,1686.6 C3874.3,1680.9 3897.0,1673.9 3919.7,1666.0 C3942.4,1658.1 3965.0,1650.3 3987.7,1639.0 C4010.4,1627.7 4033.0,1609.3 4055.7,1598.0 C4078.3,1586.7 4101.0,1580.0 4123.6,1571.0 C4146.2,1562.0 4168.9,1552.8 4191.6,1543.8 C4214.3,1534.8 4242.6,1528.0 4259.6,1516.7 C4276.6,1505.4 4286.8,1488.5 4293.6,1476.0 C4300.4,1463.5 4299.3,1447.6 4300.4,1441.9" stroke="#ebc9b4" stroke-width="3.5"/>
<path d="M3032.0,733.5 C3028.3,744.6 3014.5,772.2 3010.0,800.0 C3005.5,827.8 3008.3,866.7 3005.0,900.0 C3001.7,933.3 2992.5,983.3 2990.0,1000.0" stroke="#c49a86" stroke-width="8"/>
<path d="M3032.0,733.5 C3028.3,744.6 3014.5,772.2 3010.0,800.0 C3005.5,827.8 3008.3,866.7 3005.0,900.0 C3001.7,933.3 2992.5,983.3 2990.0,1000.0" stroke="#ebc9b4" stroke-width="3.5"/>
<path d="M4395.0,1700.0 C4398.3,1702.3 4404.2,1699.0 4415.0,1714.0 C4425.8,1729.0 4450.3,1769.3 4460.0,1790.0 C4469.7,1810.7 4473.0,1821.3 4473.0,1838.0 C4473.0,1854.7 4464.5,1873.8 4460.0,1890.0 C4455.5,1906.2 4450.2,1919.2 4446.0,1935.0 C4441.8,1950.8 4436.8,1976.7 4435.0,1985.0" stroke="#c49a86" stroke-width="8"/>
<path d="M4395.0,1700.0 C4398.3,1702.3 4404.2,1699.0 4415.0,1714.0 C4425.8,1729.0 4450.3,1769.3 4460.0,1790.0 C4469.7,1810.7 4473.0,1821.3 4473.0,1838.0 C4473.0,1854.7 4464.5,1873.8 4460.0,1890.0 C4455.5,1906.2 4450.2,1919.2 4446.0,1935.0 C4441.8,1950.8 4436.8,1976.7 4435.0,1985.0" stroke="#ebc9b4" stroke-width="3.5"/>
<path d="M3701.5,578.6 C3724.9,578.8 3818.2,578.3 3842.0,579.7 C3865.8,581.1 3845.3,582.0 3844.0,587.0 C3842.7,592.0 3842.6,602.9 3834.0,609.7 C3825.4,616.5 3799.5,625.0 3792.6,628.0" stroke="#d3b9a2" stroke-width="5"/>
<path d="M3701.5,578.6 C3724.9,578.8 3818.2,578.3 3842.0,579.7 C3865.8,581.1 3845.3,582.0 3844.0,587.0 C3842.7,592.0 3842.6,602.9 3834.0,609.7 C3825.4,616.5 3799.5,625.0 3792.6,628.0" stroke="#efe2c9" stroke-width="2.2"/>
<path d="M3703.5,580.7 C3705.6,593.8 3711.9,635.2 3716.0,659.4 C3720.1,683.6 3726.0,714.7 3728.0,725.7" stroke="#d3b9a2" stroke-width="5"/>
<path d="M3703.5,580.7 C3705.6,593.8 3711.9,635.2 3716.0,659.4 C3720.1,683.6 3726.0,714.7 3728.0,725.7" stroke="#efe2c9" stroke-width="2.2"/>
<path d="M3697.0,676.0 C3696.3,680.8 3691.9,695.3 3693.0,705.0 C3694.1,714.7 3697.7,730.5 3703.5,734.0 C3709.3,737.5 3717.6,727.8 3728.0,725.7 C3738.4,723.6 3759.4,722.2 3765.7,721.5" stroke="#d3b9a2" stroke-width="5"/>
<path d="M3697.0,676.0 C3696.3,680.8 3691.9,695.3 3693.0,705.0 C3694.1,714.7 3697.7,730.5 3703.5,734.0 C3709.3,737.5 3717.6,727.8 3728.0,725.7 C3738.4,723.6 3759.4,722.2 3765.7,721.5" stroke="#efe2c9" stroke-width="2.2"/>
<path d="M3697.0,676.0 C3702.9,673.2 3723.8,662.9 3732.5,659.4 C3741.2,655.9 3740.1,658.5 3749.0,655.0 C3757.9,651.5 3778.7,643.2 3786.0,638.7 C3793.3,634.2 3791.5,629.8 3792.6,628.0" stroke="#d3b9a2" stroke-width="5"/>
<path d="M3697.0,676.0 C3702.9,673.2 3723.8,662.9 3732.5,659.4 C3741.2,655.9 3740.1,658.5 3749.0,655.0 C3757.9,651.5 3778.7,643.2 3786.0,638.7 C3793.3,634.2 3791.5,629.8 3792.6,628.0" stroke="#efe2c9" stroke-width="2.2"/>
<path d="M3699.4,700.8 C3718.7,696.7 3795.7,680.1 3815.0,676.0" stroke="#d3b9a2" stroke-width="5"/>
<path d="M3699.4,700.8 C3718.7,696.7 3795.7,680.1 3815.0,676.0" stroke="#efe2c9" stroke-width="2.2"/>
<path d="M3730.5,659.4 C3731.2,664.2 3721.8,686.3 3734.6,688.4 C3747.3,690.5 3794.9,674.6 3807.0,671.8" stroke="#d3b9a2" stroke-width="5"/>
<path d="M3730.5,659.4 C3731.2,664.2 3721.8,686.3 3734.6,688.4 C3747.3,690.5 3794.9,674.6 3807.0,671.8" stroke="#efe2c9" stroke-width="2.2"/>
<path d="M3836.0,767.0 C3841.2,766.0 3861.5,757.5 3867.0,761.0 C3872.5,764.5 3864.5,780.1 3869.0,788.0 C3873.5,795.9 3890.5,799.9 3894.0,808.5 C3897.5,817.1 3895.8,832.0 3890.0,839.6 C3884.2,847.2 3864.2,851.6 3859.0,854.0" stroke="#d3b9a2" stroke-width="5"/>
<path d="M3836.0,767.0 C3841.2,766.0 3861.5,757.5 3867.0,761.0 C3872.5,764.5 3864.5,780.1 3869.0,788.0 C3873.5,795.9 3890.5,799.9 3894.0,808.5 C3897.5,817.1 3895.8,832.0 3890.0,839.6 C3884.2,847.2 3864.2,851.6 3859.0,854.0" stroke="#efe2c9" stroke-width="2.2"/>
<path d="M3703.5,860.0 C3710.4,853.1 3727.8,833.1 3745.0,818.9 C3762.2,804.7 3792.2,783.6 3807.0,775.0 C3821.8,766.4 3829.5,768.3 3834.0,767.0" stroke="#d3b9a2" stroke-width="5"/>
<path d="M3703.5,860.0 C3710.4,853.1 3727.8,833.1 3745.0,818.9 C3762.2,804.7 3792.2,783.6 3807.0,775.0 C3821.8,766.4 3829.5,768.3 3834.0,767.0" stroke="#efe2c9" stroke-width="2.2"/>
<path d="M3765.7,860.0 C3774.3,856.2 3796.0,843.3 3817.4,837.5 C3838.8,831.7 3881.2,827.1 3894.0,825.0" stroke="#d3b9a2" stroke-width="5"/>
<path d="M3765.7,860.0 C3774.3,856.2 3796.0,843.3 3817.4,837.5 C3838.8,831.7 3881.2,827.1 3894.0,825.0" stroke="#efe2c9" stroke-width="2.2"/>
<path d="M4000.0,1030.0 C4005.0,1026.7 4015.0,1013.0 4030.0,1010.0 C4045.0,1007.0 4076.7,1008.7 4090.0,1012.0 C4103.3,1015.3 4110.0,1023.7 4110.0,1030.0 C4110.0,1036.3 4101.7,1045.0 4090.0,1050.0 C4078.3,1055.0 4055.0,1060.0 4040.0,1060.0 C4025.0,1060.0 4006.7,1051.7 4000.0,1050.0" stroke="#d3b9a2" stroke-width="5"/>
<path d="M4000.0,1030.0 C4005.0,1026.7 4015.0,1013.0 4030.0,1010.0 C4045.0,1007.0 4076.7,1008.7 4090.0,1012.0 C4103.3,1015.3 4110.0,1023.7 4110.0,1030.0 C4110.0,1036.3 4101.7,1045.0 4090.0,1050.0 C4078.3,1055.0 4055.0,1060.0 4040.0,1060.0 C4025.0,1060.0 4006.7,1051.7 4000.0,1050.0" stroke="#efe2c9" stroke-width="2.2"/>
<path d="M3990.0,1010.0 C3993.3,1020.0 4000.0,1053.3 4010.0,1070.0 C4020.0,1086.7 4038.3,1095.0 4050.0,1110.0 C4061.7,1125.0 4075.0,1151.7 4080.0,1160.0" stroke="#d3b9a2" stroke-width="5"/>
<path d="M3990.0,1010.0 C3993.3,1020.0 4000.0,1053.3 4010.0,1070.0 C4020.0,1086.7 4038.3,1095.0 4050.0,1110.0 C4061.7,1125.0 4075.0,1151.7 4080.0,1160.0" stroke="#efe2c9" stroke-width="2.2"/>
</g>
<g fill="none" stroke="#79aee0" stroke-width="3.5" stroke-linejoin="round" stroke-linecap="round"><path d="M3599.5,383.8 C3594.0,394.8 3577.5,433.3 3566.5,449.8 C3555.5,466.3 3543.4,472.9 3533.5,482.8 C3523.6,492.7 3513.6,495.8 3507.0,509.0 C3500.4,522.2 3498.4,546.6 3494.0,562.0 C3489.6,577.4 3486.2,588.4 3480.7,601.6 C3475.2,614.8 3466.5,625.6 3461.0,641.0 C3455.5,656.4 3453.2,678.6 3447.7,694.0 C3442.2,709.4 3435.7,720.3 3428.0,733.5 C3420.3,746.7 3410.4,759.8 3401.6,773.0 C3392.8,786.2 3381.6,798.4 3375.0,812.7 C3368.4,827.0 3364.2,840.3 3362.0,859.0 C3359.8,877.7 3359.8,908.5 3362.0,925.0 C3364.2,941.5 3365.2,949.2 3375.0,958.0 C3384.8,966.8 3412.2,970.7 3421.0,977.7 C3429.8,984.7 3431.0,991.3 3428.0,1000.0 C3425.0,1008.7 3415.1,1021.0 3403.0,1030.0 C3390.9,1039.0 3361.2,1043.2 3355.5,1054.0 C3349.8,1064.8 3359.9,1079.1 3369.0,1095.0 C3378.1,1110.9 3400.9,1131.4 3410.0,1149.6 C3419.1,1167.8 3422.4,1185.9 3423.5,1204.0 C3424.6,1222.1 3414.3,1244.4 3416.6,1258.0 C3418.8,1271.6 3429.1,1274.2 3437.0,1285.5 C3444.9,1296.8 3459.5,1310.1 3464.0,1326.0 C3468.5,1341.9 3468.5,1367.0 3464.0,1380.7 C3459.5,1394.4 3449.4,1401.2 3437.0,1408.0 C3424.6,1414.8 3405.3,1417.0 3389.5,1421.5 C3373.7,1426.0 3351.1,1428.2 3342.0,1435.0 C3332.9,1441.8 3329.3,1452.9 3335.0,1462.0 C3340.7,1471.1 3370.3,1480.4 3376.0,1489.5 C3381.7,1498.6 3370.2,1512.2 3369.0,1516.7"/><path d="M3593.4,1666.0 C3596.8,1664.9 3604.7,1652.6 3613.8,1659.4 C3622.9,1666.2 3636.5,1696.8 3647.8,1707.0 C3659.1,1717.2 3664.8,1716.6 3681.8,1720.6 C3698.8,1724.6 3732.8,1730.8 3749.8,1730.8 C3766.8,1730.8 3772.5,1726.8 3783.8,1720.6 C3795.1,1714.4 3806.4,1699.1 3817.7,1693.4 C3829.0,1687.7 3837.0,1685.5 3851.7,1686.6 C3866.4,1687.7 3889.0,1698.9 3906.0,1700.0 C3923.0,1701.1 3928.8,1695.6 3953.7,1693.4 C3978.6,1691.2 4021.7,1688.8 4055.7,1686.6 C4089.7,1684.4 4135.0,1683.4 4157.6,1680.0 C4180.2,1676.6 4174.6,1669.4 4191.6,1666.0 C4208.6,1662.6 4236.9,1665.0 4259.6,1659.4 C4282.3,1653.8 4310.6,1640.1 4327.6,1632.2 C4344.6,1624.3 4350.3,1622.0 4361.6,1611.8 C4372.9,1601.6 4384.3,1585.7 4395.6,1571.0 C4406.9,1556.3 4420.5,1532.5 4429.6,1523.5 C4438.7,1514.5 4440.9,1514.5 4450.0,1516.7 C4459.1,1519.0 4470.4,1529.1 4484.0,1537.0 C4497.6,1544.9 4512.3,1558.9 4531.6,1564.0 C4550.9,1569.1 4588.6,1567.0 4600.0,1567.6"/></g>
<path d="M2946.0,100.0 C2947.2,106.6 2948.6,122.0 2953.0,139.6 C2957.4,157.2 2967.1,190.2 2972.6,205.6 C2978.1,221.0 2985.8,218.8 2985.8,232.0 C2985.8,245.2 2983.6,273.8 2972.6,284.8 C2961.6,295.8 2932.1,294.7 2920.0,298.0 C2907.9,301.3 2903.3,303.5 2900.0,304.6" fill="none" stroke="#79aee0" stroke-width="3" stroke-dasharray="6,5"/>
<g fill="none" stroke-linejoin="round" stroke-linecap="round">
<path d="M3466.0,100.0 C3466.2,106.6 3468.3,129.7 3467.5,139.6 C3466.7,149.5 3458.2,150.6 3461.0,159.4 C3463.8,168.2 3479.1,178.7 3484.0,192.4 C3488.9,206.2 3493.3,227.6 3490.6,241.9 C3487.8,256.2 3472.4,268.8 3467.5,278.2 C3462.6,287.6 3461.0,285.9 3461.0,298.0 C3461.0,310.1 3465.3,337.6 3467.5,350.8 C3469.7,364.0 3474.0,367.3 3474.0,377.2 C3474.0,387.1 3471.9,398.1 3467.5,410.2 C3463.1,422.3 3456.5,437.7 3447.7,449.8 C3438.9,461.9 3425.8,476.2 3414.8,482.8 C3403.8,489.4 3391.6,486.6 3381.7,489.4 C3371.8,492.1 3362.0,493.8 3355.4,499.3 C3348.8,504.8 3349.7,514.1 3342.0,522.4 C3334.3,530.6 3319.4,542.2 3309.0,548.8 C3298.6,555.4 3285.0,554.3 3279.5,562.0 C3274.0,569.7 3275.4,585.1 3276.0,595.0 C3276.6,604.9 3277.8,614.7 3282.8,621.3 C3287.8,627.9 3301.5,630.1 3305.9,634.5 C3310.3,638.9 3309.6,637.8 3309.0,647.7 C3308.4,657.6 3304.8,675.3 3302.6,694.0 C3300.4,712.7 3298.3,744.6 3296.0,760.0 C3293.7,775.4 3294.5,779.7 3289.0,786.3 C3283.5,792.9 3270.7,794.0 3263.0,799.5 C3255.3,805.0 3250.7,809.4 3243.0,819.3 C3235.3,829.2 3224.5,846.9 3216.8,859.0 C3209.1,871.1 3202.5,881.0 3197.0,892.0 C3191.5,903.0 3187.1,914.0 3183.8,925.0 C3180.5,936.0 3179.2,945.5 3177.0,958.0 C3174.8,970.5 3172.6,988.5 3170.6,1000.0 C3168.6,1011.5 3167.1,1015.7 3165.0,1027.0 C3162.9,1038.3 3158.6,1053.2 3158.0,1068.0 C3157.4,1082.8 3164.5,1102.6 3161.7,1115.6 C3158.9,1128.6 3141.9,1138.6 3141.3,1146.0 C3140.7,1153.4 3154.4,1154.1 3158.3,1159.8 C3162.2,1165.5 3171.8,1173.2 3165.0,1180.0 C3158.2,1186.8 3134.5,1197.7 3117.5,1200.5 C3100.5,1203.3 3082.2,1198.1 3063.0,1197.0 C3043.8,1195.9 3017.8,1192.5 3002.0,1193.7 C2986.2,1194.9 2985.0,1202.3 2968.0,1204.0 C2951.0,1205.7 2911.3,1204.0 2900.0,1204.0" stroke="#2a6e1a" stroke-width="8"/>
<path d="M3466.0,100.0 C3466.2,106.6 3468.3,129.7 3467.5,139.6 C3466.7,149.5 3458.2,150.6 3461.0,159.4 C3463.8,168.2 3479.1,178.7 3484.0,192.4 C3488.9,206.2 3493.3,227.6 3490.6,241.9 C3487.8,256.2 3472.4,268.8 3467.5,278.2 C3462.6,287.6 3461.0,285.9 3461.0,298.0 C3461.0,310.1 3465.3,337.6 3467.5,350.8 C3469.7,364.0 3474.0,367.3 3474.0,377.2 C3474.0,387.1 3471.9,398.1 3467.5,410.2 C3463.1,422.3 3456.5,437.7 3447.7,449.8 C3438.9,461.9 3425.8,476.2 3414.8,482.8 C3403.8,489.4 3391.6,486.6 3381.7,489.4 C3371.8,492.1 3362.0,493.8 3355.4,499.3 C3348.8,504.8 3349.7,514.1 3342.0,522.4 C3334.3,530.6 3319.4,542.2 3309.0,548.8 C3298.6,555.4 3285.0,554.3 3279.5,562.0 C3274.0,569.7 3275.4,585.1 3276.0,595.0 C3276.6,604.9 3277.8,614.7 3282.8,621.3 C3287.8,627.9 3301.5,630.1 3305.9,634.5 C3310.3,638.9 3309.6,637.8 3309.0,647.7 C3308.4,657.6 3304.8,675.3 3302.6,694.0 C3300.4,712.7 3298.3,744.6 3296.0,760.0 C3293.7,775.4 3294.5,779.7 3289.0,786.3 C3283.5,792.9 3270.7,794.0 3263.0,799.5 C3255.3,805.0 3250.7,809.4 3243.0,819.3 C3235.3,829.2 3224.5,846.9 3216.8,859.0 C3209.1,871.1 3202.5,881.0 3197.0,892.0 C3191.5,903.0 3187.1,914.0 3183.8,925.0 C3180.5,936.0 3179.2,945.5 3177.0,958.0 C3174.8,970.5 3172.6,988.5 3170.6,1000.0 C3168.6,1011.5 3167.1,1015.7 3165.0,1027.0 C3162.9,1038.3 3158.6,1053.2 3158.0,1068.0 C3157.4,1082.8 3164.5,1102.6 3161.7,1115.6 C3158.9,1128.6 3141.9,1138.6 3141.3,1146.0 C3140.7,1153.4 3154.4,1154.1 3158.3,1159.8 C3162.2,1165.5 3171.8,1173.2 3165.0,1180.0 C3158.2,1186.8 3134.5,1197.7 3117.5,1200.5 C3100.5,1203.3 3082.2,1198.1 3063.0,1197.0 C3043.8,1195.9 3017.8,1192.5 3002.0,1193.7 C2986.2,1194.9 2985.0,1202.3 2968.0,1204.0 C2951.0,1205.7 2911.3,1204.0 2900.0,1204.0" stroke="#40a12b" stroke-width="5"/>
<path d="M3466.0,100.0 C3466.2,106.6 3468.3,129.7 3467.5,139.6 C3466.7,149.5 3458.2,150.6 3461.0,159.4 C3463.8,168.2 3479.1,178.7 3484.0,192.4 C3488.9,206.2 3493.3,227.6 3490.6,241.9 C3487.8,256.2 3472.4,268.8 3467.5,278.2 C3462.6,287.6 3461.0,285.9 3461.0,298.0 C3461.0,310.1 3465.3,337.6 3467.5,350.8 C3469.7,364.0 3474.0,367.3 3474.0,377.2 C3474.0,387.1 3471.9,398.1 3467.5,410.2 C3463.1,422.3 3456.5,437.7 3447.7,449.8 C3438.9,461.9 3425.8,476.2 3414.8,482.8 C3403.8,489.4 3391.6,486.6 3381.7,489.4 C3371.8,492.1 3362.0,493.8 3355.4,499.3 C3348.8,504.8 3349.7,514.1 3342.0,522.4 C3334.3,530.6 3319.4,542.2 3309.0,548.8 C3298.6,555.4 3285.0,554.3 3279.5,562.0 C3274.0,569.7 3275.4,585.1 3276.0,595.0 C3276.6,604.9 3277.8,614.7 3282.8,621.3 C3287.8,627.9 3301.5,630.1 3305.9,634.5 C3310.3,638.9 3309.6,637.8 3309.0,647.7 C3308.4,657.6 3304.8,675.3 3302.6,694.0 C3300.4,712.7 3298.3,744.6 3296.0,760.0 C3293.7,775.4 3294.5,779.7 3289.0,786.3 C3283.5,792.9 3270.7,794.0 3263.0,799.5 C3255.3,805.0 3250.7,809.4 3243.0,819.3 C3235.3,829.2 3224.5,846.9 3216.8,859.0 C3209.1,871.1 3202.5,881.0 3197.0,892.0 C3191.5,903.0 3187.1,914.0 3183.8,925.0 C3180.5,936.0 3179.2,945.5 3177.0,958.0 C3174.8,970.5 3172.6,988.5 3170.6,1000.0 C3168.6,1011.5 3167.1,1015.7 3165.0,1027.0 C3162.9,1038.3 3158.6,1053.2 3158.0,1068.0 C3157.4,1082.8 3164.5,1102.6 3161.7,1115.6 C3158.9,1128.6 3141.9,1138.6 3141.3,1146.0 C3140.7,1153.4 3154.4,1154.1 3158.3,1159.8 C3162.2,1165.5 3171.8,1173.2 3165.0,1180.0 C3158.2,1186.8 3134.5,1197.7 3117.5,1200.5 C3100.5,1203.3 3082.2,1198.1 3063.0,1197.0 C3043.8,1195.9 3017.8,1192.5 3002.0,1193.7 C2986.2,1194.9 2985.0,1202.3 2968.0,1204.0 C2951.0,1205.7 2911.3,1204.0 2900.0,1204.0" stroke="#ffffff" stroke-width="4.5" stroke-dasharray="6,44" stroke-linecap="butt"/>
<path d="M3510.0,100.0 C3510.5,106.5 3510.8,125.0 3513.0,139.0 C3515.2,153.0 3518.7,166.7 3523.0,184.0 C3527.3,201.3 3538.5,227.8 3539.0,243.0 C3539.5,258.2 3527.0,265.3 3526.0,275.0 C3525.0,284.7 3529.2,293.3 3533.0,301.0 C3536.8,308.7 3544.2,312.3 3549.0,321.0 C3553.8,329.7 3555.5,346.0 3562.0,353.0 C3568.5,360.0 3582.0,357.6 3588.0,363.0 C3594.0,368.4 3597.5,373.1 3598.0,385.5 C3598.5,397.9 3598.2,424.4 3591.0,437.4 C3583.8,450.4 3568.5,452.6 3555.0,463.4 C3541.5,474.2 3519.7,492.2 3510.0,502.0 C3500.3,511.8 3499.7,514.3 3497.0,522.0 C3494.3,529.7 3494.0,540.5 3494.0,548.0 C3494.0,555.5 3499.2,559.5 3497.0,567.0 C3494.8,574.5 3485.3,584.3 3481.0,593.0 C3476.7,601.7 3474.8,609.2 3471.0,619.0 C3467.2,628.8 3462.8,638.6 3458.0,651.6 C3453.2,664.6 3446.8,686.2 3442.0,697.0 C3437.2,707.8 3432.8,707.8 3429.0,716.5 C3425.2,725.2 3421.7,740.4 3419.0,749.0 C3416.3,757.6 3419.5,761.5 3413.0,768.0 C3406.5,774.5 3387.1,782.5 3380.0,788.0 C3372.9,793.5 3371.5,795.7 3370.5,801.0 C3369.5,806.3 3369.1,814.7 3374.0,820.0 C3378.9,825.3 3384.9,829.7 3400.0,833.0 C3415.1,836.3 3452.8,834.5 3464.6,840.0 C3476.4,845.5 3469.9,858.5 3471.0,866.0 C3472.1,873.5 3473.7,878.5 3471.0,885.0 C3468.3,891.5 3455.0,896.3 3455.0,905.0 C3455.0,913.7 3466.2,928.4 3471.0,937.0 C3475.8,945.6 3475.3,950.1 3484.0,956.6 C3492.7,963.1 3506.8,971.7 3523.0,976.0 C3539.2,980.3 3564.8,982.6 3581.0,982.6 C3597.2,982.6 3610.2,980.3 3620.0,976.0 C3629.8,971.7 3630.2,960.9 3640.0,956.6 C3649.8,952.3 3668.2,952.2 3679.0,950.0 C3689.8,947.8 3696.3,944.7 3705.0,943.6 C3713.7,942.5 3724.3,940.9 3731.0,943.6 C3737.7,946.3 3740.2,952.3 3745.0,960.0 C3749.8,967.7 3758.1,978.2 3760.0,990.0 C3761.9,1001.8 3758.3,1022.1 3756.6,1030.6 C3754.9,1039.1 3760.3,1035.7 3750.0,1040.8 C3739.7,1045.9 3708.1,1054.8 3695.0,1061.0 C3681.9,1067.2 3674.4,1071.2 3671.6,1078.0 C3668.8,1084.8 3672.3,1095.7 3678.0,1102.0 C3683.7,1108.3 3699.3,1106.6 3705.6,1115.6 C3711.9,1124.6 3708.4,1148.1 3715.8,1156.0 C3723.2,1163.9 3737.3,1159.0 3749.8,1163.0 C3762.3,1167.0 3780.4,1174.3 3790.6,1180.0 C3800.8,1185.7 3808.2,1189.7 3811.0,1197.0 C3813.8,1204.3 3813.2,1214.9 3807.5,1224.0 C3801.8,1233.1 3787.8,1243.5 3777.0,1251.5 C3766.2,1259.5 3751.0,1266.3 3743.0,1272.0 C3735.0,1277.7 3731.3,1281.0 3729.0,1285.5 C3726.7,1290.0 3723.3,1300.1 3729.0,1299.0 C3734.7,1297.9 3752.7,1276.4 3763.0,1278.7 C3773.3,1281.0 3784.9,1302.5 3790.6,1312.7 C3796.3,1322.9 3794.8,1333.2 3797.0,1340.0 C3799.2,1346.8 3807.3,1349.0 3804.0,1353.5 C3800.7,1358.0 3780.4,1360.2 3777.0,1367.0 C3773.6,1373.8 3777.0,1387.2 3783.8,1394.0 C3790.6,1400.8 3810.9,1396.7 3817.7,1408.0 C3824.5,1419.3 3821.1,1447.3 3824.5,1462.0 C3827.9,1476.7 3842.6,1486.9 3838.0,1496.0 C3833.4,1505.1 3808.3,1509.9 3797.0,1516.7 C3785.7,1523.5 3770.0,1529.1 3770.0,1537.0 C3770.0,1544.9 3786.8,1555.0 3797.0,1564.0 C3807.2,1573.0 3826.4,1580.8 3831.0,1591.0 C3835.6,1601.2 3827.3,1615.8 3824.5,1625.0 C3821.7,1634.2 3815.1,1636.8 3814.0,1646.0 C3812.9,1655.2 3809.2,1673.2 3817.7,1680.0 C3826.2,1686.8 3851.9,1684.9 3865.0,1686.6 C3878.1,1688.3 3890.3,1687.8 3896.0,1690.0 C3901.7,1692.2 3901.3,1697.2 3899.0,1700.0 C3896.7,1702.8 3884.2,1699.0 3882.0,1707.0 C3879.8,1715.0 3883.9,1732.0 3885.7,1747.8 C3887.4,1763.6 3886.8,1788.5 3892.5,1802.0 C3898.2,1815.5 3911.8,1822.2 3919.7,1829.0 C3927.6,1835.8 3928.7,1839.5 3940.0,1843.0 C3951.3,1846.5 3974.1,1844.1 3987.7,1849.8 C4001.3,1855.5 4022.8,1868.0 4021.7,1877.0 C4020.6,1886.0 3992.3,1898.3 3981.0,1904.0 C3969.7,1909.7 3961.7,1905.3 3953.7,1911.0 C3945.7,1916.7 3937.5,1925.7 3933.0,1938.0 C3928.5,1950.3 3927.6,1977.2 3926.5,1985.0" stroke="#2a6e1a" stroke-width="8"/>
<path d="M3510.0,100.0 C3510.5,106.5 3510.8,125.0 3513.0,139.0 C3515.2,153.0 3518.7,166.7 3523.0,184.0 C3527.3,201.3 3538.5,227.8 3539.0,243.0 C3539.5,258.2 3527.0,265.3 3526.0,275.0 C3525.0,284.7 3529.2,293.3 3533.0,301.0 C3536.8,308.7 3544.2,312.3 3549.0,321.0 C3553.8,329.7 3555.5,346.0 3562.0,353.0 C3568.5,360.0 3582.0,357.6 3588.0,363.0 C3594.0,368.4 3597.5,373.1 3598.0,385.5 C3598.5,397.9 3598.2,424.4 3591.0,437.4 C3583.8,450.4 3568.5,452.6 3555.0,463.4 C3541.5,474.2 3519.7,492.2 3510.0,502.0 C3500.3,511.8 3499.7,514.3 3497.0,522.0 C3494.3,529.7 3494.0,540.5 3494.0,548.0 C3494.0,555.5 3499.2,559.5 3497.0,567.0 C3494.8,574.5 3485.3,584.3 3481.0,593.0 C3476.7,601.7 3474.8,609.2 3471.0,619.0 C3467.2,628.8 3462.8,638.6 3458.0,651.6 C3453.2,664.6 3446.8,686.2 3442.0,697.0 C3437.2,707.8 3432.8,707.8 3429.0,716.5 C3425.2,725.2 3421.7,740.4 3419.0,749.0 C3416.3,757.6 3419.5,761.5 3413.0,768.0 C3406.5,774.5 3387.1,782.5 3380.0,788.0 C3372.9,793.5 3371.5,795.7 3370.5,801.0 C3369.5,806.3 3369.1,814.7 3374.0,820.0 C3378.9,825.3 3384.9,829.7 3400.0,833.0 C3415.1,836.3 3452.8,834.5 3464.6,840.0 C3476.4,845.5 3469.9,858.5 3471.0,866.0 C3472.1,873.5 3473.7,878.5 3471.0,885.0 C3468.3,891.5 3455.0,896.3 3455.0,905.0 C3455.0,913.7 3466.2,928.4 3471.0,937.0 C3475.8,945.6 3475.3,950.1 3484.0,956.6 C3492.7,963.1 3506.8,971.7 3523.0,976.0 C3539.2,980.3 3564.8,982.6 3581.0,982.6 C3597.2,982.6 3610.2,980.3 3620.0,976.0 C3629.8,971.7 3630.2,960.9 3640.0,956.6 C3649.8,952.3 3668.2,952.2 3679.0,950.0 C3689.8,947.8 3696.3,944.7 3705.0,943.6 C3713.7,942.5 3724.3,940.9 3731.0,943.6 C3737.7,946.3 3740.2,952.3 3745.0,960.0 C3749.8,967.7 3758.1,978.2 3760.0,990.0 C3761.9,1001.8 3758.3,1022.1 3756.6,1030.6 C3754.9,1039.1 3760.3,1035.7 3750.0,1040.8 C3739.7,1045.9 3708.1,1054.8 3695.0,1061.0 C3681.9,1067.2 3674.4,1071.2 3671.6,1078.0 C3668.8,1084.8 3672.3,1095.7 3678.0,1102.0 C3683.7,1108.3 3699.3,1106.6 3705.6,1115.6 C3711.9,1124.6 3708.4,1148.1 3715.8,1156.0 C3723.2,1163.9 3737.3,1159.0 3749.8,1163.0 C3762.3,1167.0 3780.4,1174.3 3790.6,1180.0 C3800.8,1185.7 3808.2,1189.7 3811.0,1197.0 C3813.8,1204.3 3813.2,1214.9 3807.5,1224.0 C3801.8,1233.1 3787.8,1243.5 3777.0,1251.5 C3766.2,1259.5 3751.0,1266.3 3743.0,1272.0 C3735.0,1277.7 3731.3,1281.0 3729.0,1285.5 C3726.7,1290.0 3723.3,1300.1 3729.0,1299.0 C3734.7,1297.9 3752.7,1276.4 3763.0,1278.7 C3773.3,1281.0 3784.9,1302.5 3790.6,1312.7 C3796.3,1322.9 3794.8,1333.2 3797.0,1340.0 C3799.2,1346.8 3807.3,1349.0 3804.0,1353.5 C3800.7,1358.0 3780.4,1360.2 3777.0,1367.0 C3773.6,1373.8 3777.0,1387.2 3783.8,1394.0 C3790.6,1400.8 3810.9,1396.7 3817.7,1408.0 C3824.5,1419.3 3821.1,1447.3 3824.5,1462.0 C3827.9,1476.7 3842.6,1486.9 3838.0,1496.0 C3833.4,1505.1 3808.3,1509.9 3797.0,1516.7 C3785.7,1523.5 3770.0,1529.1 3770.0,1537.0 C3770.0,1544.9 3786.8,1555.0 3797.0,1564.0 C3807.2,1573.0 3826.4,1580.8 3831.0,1591.0 C3835.6,1601.2 3827.3,1615.8 3824.5,1625.0 C3821.7,1634.2 3815.1,1636.8 3814.0,1646.0 C3812.9,1655.2 3809.2,1673.2 3817.7,1680.0 C3826.2,1686.8 3851.9,1684.9 3865.0,1686.6 C3878.1,1688.3 3890.3,1687.8 3896.0,1690.0 C3901.7,1692.2 3901.3,1697.2 3899.0,1700.0 C3896.7,1702.8 3884.2,1699.0 3882.0,1707.0 C3879.8,1715.0 3883.9,1732.0 3885.7,1747.8 C3887.4,1763.6 3886.8,1788.5 3892.5,1802.0 C3898.2,1815.5 3911.8,1822.2 3919.7,1829.0 C3927.6,1835.8 3928.7,1839.5 3940.0,1843.0 C3951.3,1846.5 3974.1,1844.1 3987.7,1849.8 C4001.3,1855.5 4022.8,1868.0 4021.7,1877.0 C4020.6,1886.0 3992.3,1898.3 3981.0,1904.0 C3969.7,1909.7 3961.7,1905.3 3953.7,1911.0 C3945.7,1916.7 3937.5,1925.7 3933.0,1938.0 C3928.5,1950.3 3927.6,1977.2 3926.5,1985.0" stroke="#40a12b" stroke-width="5"/>
<path d="M3510.0,100.0 C3510.5,106.5 3510.8,125.0 3513.0,139.0 C3515.2,153.0 3518.7,166.7 3523.0,184.0 C3527.3,201.3 3538.5,227.8 3539.0,243.0 C3539.5,258.2 3527.0,265.3 3526.0,275.0 C3525.0,284.7 3529.2,293.3 3533.0,301.0 C3536.8,308.7 3544.2,312.3 3549.0,321.0 C3553.8,329.7 3555.5,346.0 3562.0,353.0 C3568.5,360.0 3582.0,357.6 3588.0,363.0 C3594.0,368.4 3597.5,373.1 3598.0,385.5 C3598.5,397.9 3598.2,424.4 3591.0,437.4 C3583.8,450.4 3568.5,452.6 3555.0,463.4 C3541.5,474.2 3519.7,492.2 3510.0,502.0 C3500.3,511.8 3499.7,514.3 3497.0,522.0 C3494.3,529.7 3494.0,540.5 3494.0,548.0 C3494.0,555.5 3499.2,559.5 3497.0,567.0 C3494.8,574.5 3485.3,584.3 3481.0,593.0 C3476.7,601.7 3474.8,609.2 3471.0,619.0 C3467.2,628.8 3462.8,638.6 3458.0,651.6 C3453.2,664.6 3446.8,686.2 3442.0,697.0 C3437.2,707.8 3432.8,707.8 3429.0,716.5 C3425.2,725.2 3421.7,740.4 3419.0,749.0 C3416.3,757.6 3419.5,761.5 3413.0,768.0 C3406.5,774.5 3387.1,782.5 3380.0,788.0 C3372.9,793.5 3371.5,795.7 3370.5,801.0 C3369.5,806.3 3369.1,814.7 3374.0,820.0 C3378.9,825.3 3384.9,829.7 3400.0,833.0 C3415.1,836.3 3452.8,834.5 3464.6,840.0 C3476.4,845.5 3469.9,858.5 3471.0,866.0 C3472.1,873.5 3473.7,878.5 3471.0,885.0 C3468.3,891.5 3455.0,896.3 3455.0,905.0 C3455.0,913.7 3466.2,928.4 3471.0,937.0 C3475.8,945.6 3475.3,950.1 3484.0,956.6 C3492.7,963.1 3506.8,971.7 3523.0,976.0 C3539.2,980.3 3564.8,982.6 3581.0,982.6 C3597.2,982.6 3610.2,980.3 3620.0,976.0 C3629.8,971.7 3630.2,960.9 3640.0,956.6 C3649.8,952.3 3668.2,952.2 3679.0,950.0 C3689.8,947.8 3696.3,944.7 3705.0,943.6 C3713.7,942.5 3724.3,940.9 3731.0,943.6 C3737.7,946.3 3740.2,952.3 3745.0,960.0 C3749.8,967.7 3758.1,978.2 3760.0,990.0 C3761.9,1001.8 3758.3,1022.1 3756.6,1030.6 C3754.9,1039.1 3760.3,1035.7 3750.0,1040.8 C3739.7,1045.9 3708.1,1054.8 3695.0,1061.0 C3681.9,1067.2 3674.4,1071.2 3671.6,1078.0 C3668.8,1084.8 3672.3,1095.7 3678.0,1102.0 C3683.7,1108.3 3699.3,1106.6 3705.6,1115.6 C3711.9,1124.6 3708.4,1148.1 3715.8,1156.0 C3723.2,1163.9 3737.3,1159.0 3749.8,1163.0 C3762.3,1167.0 3780.4,1174.3 3790.6,1180.0 C3800.8,1185.7 3808.2,1189.7 3811.0,1197.0 C3813.8,1204.3 3813.2,1214.9 3807.5,1224.0 C3801.8,1233.1 3787.8,1243.5 3777.0,1251.5 C3766.2,1259.5 3751.0,1266.3 3743.0,1272.0 C3735.0,1277.7 3731.3,1281.0 3729.0,1285.5 C3726.7,1290.0 3723.3,1300.1 3729.0,1299.0 C3734.7,1297.9 3752.7,1276.4 3763.0,1278.7 C3773.3,1281.0 3784.9,1302.5 3790.6,1312.7 C3796.3,1322.9 3794.8,1333.2 3797.0,1340.0 C3799.2,1346.8 3807.3,1349.0 3804.0,1353.5 C3800.7,1358.0 3780.4,1360.2 3777.0,1367.0 C3773.6,1373.8 3777.0,1387.2 3783.8,1394.0 C3790.6,1400.8 3810.9,1396.7 3817.7,1408.0 C3824.5,1419.3 3821.1,1447.3 3824.5,1462.0 C3827.9,1476.7 3842.6,1486.9 3838.0,1496.0 C3833.4,1505.1 3808.3,1509.9 3797.0,1516.7 C3785.7,1523.5 3770.0,1529.1 3770.0,1537.0 C3770.0,1544.9 3786.8,1555.0 3797.0,1564.0 C3807.2,1573.0 3826.4,1580.8 3831.0,1591.0 C3835.6,1601.2 3827.3,1615.8 3824.5,1625.0 C3821.7,1634.2 3815.1,1636.8 3814.0,1646.0 C3812.9,1655.2 3809.2,1673.2 3817.7,1680.0 C3826.2,1686.8 3851.9,1684.9 3865.0,1686.6 C3878.1,1688.3 3890.3,1687.8 3896.0,1690.0 C3901.7,1692.2 3901.3,1697.2 3899.0,1700.0 C3896.7,1702.8 3884.2,1699.0 3882.0,1707.0 C3879.8,1715.0 3883.9,1732.0 3885.7,1747.8 C3887.4,1763.6 3886.8,1788.5 3892.5,1802.0 C3898.2,1815.5 3911.8,1822.2 3919.7,1829.0 C3927.6,1835.8 3928.7,1839.5 3940.0,1843.0 C3951.3,1846.5 3974.1,1844.1 3987.7,1849.8 C4001.3,1855.5 4022.8,1868.0 4021.7,1877.0 C4020.6,1886.0 3992.3,1898.3 3981.0,1904.0 C3969.7,1909.7 3961.7,1905.3 3953.7,1911.0 C3945.7,1916.7 3937.5,1925.7 3933.0,1938.0 C3928.5,1950.3 3927.6,1977.2 3926.5,1985.0" stroke="#ffffff" stroke-width="4.5" stroke-dasharray="6,44" stroke-linecap="butt"/>
<path d="M3804.0,1353.5 C3811.9,1354.6 3832.4,1362.0 3851.7,1360.3 C3871.0,1358.6 3899.9,1348.4 3919.7,1343.3 C3939.5,1338.2 3963.3,1337.1 3970.7,1329.7 C3978.1,1322.3 3963.4,1307.5 3964.0,1299.0 C3964.6,1290.5 3970.1,1285.5 3974.0,1278.7 C3977.9,1271.9 3980.9,1261.7 3987.7,1258.3 C3994.5,1254.9 4003.7,1252.6 4015.0,1258.3 C4026.3,1264.0 4039.9,1287.8 4055.7,1292.3 C4071.5,1296.8 4095.3,1288.9 4110.0,1285.5 C4124.7,1282.1 4137.2,1277.7 4144.0,1272.0 C4150.8,1266.3 4152.2,1257.2 4151.0,1251.5 C4149.8,1245.8 4137.0,1243.1 4137.0,1238.0 C4137.0,1232.9 4143.0,1222.7 4151.0,1221.0 C4159.0,1219.3 4168.0,1229.4 4185.0,1227.7 C4202.0,1226.0 4229.0,1215.8 4252.8,1210.7 C4276.6,1205.6 4303.8,1203.8 4327.6,1197.0 C4351.4,1190.2 4374.1,1180.2 4395.6,1170.0 C4417.1,1159.8 4445.5,1147.3 4456.8,1136.0 C4468.1,1124.7 4459.1,1113.3 4463.6,1102.0 C4468.1,1090.7 4477.2,1078.2 4484.0,1068.0 C4490.8,1057.8 4499.9,1052.1 4504.4,1040.8 C4508.9,1029.5 4507.9,1013.8 4511.0,1000.0 C4514.1,986.2 4519.8,976.0 4523.0,958.0 C4526.2,940.0 4525.5,911.8 4530.0,892.0 C4534.5,872.2 4538.3,850.0 4550.0,839.0 C4561.7,828.0 4591.7,828.2 4600.0,826.0" stroke="#2a6e1a" stroke-width="8"/>
<path d="M3804.0,1353.5 C3811.9,1354.6 3832.4,1362.0 3851.7,1360.3 C3871.0,1358.6 3899.9,1348.4 3919.7,1343.3 C3939.5,1338.2 3963.3,1337.1 3970.7,1329.7 C3978.1,1322.3 3963.4,1307.5 3964.0,1299.0 C3964.6,1290.5 3970.1,1285.5 3974.0,1278.7 C3977.9,1271.9 3980.9,1261.7 3987.7,1258.3 C3994.5,1254.9 4003.7,1252.6 4015.0,1258.3 C4026.3,1264.0 4039.9,1287.8 4055.7,1292.3 C4071.5,1296.8 4095.3,1288.9 4110.0,1285.5 C4124.7,1282.1 4137.2,1277.7 4144.0,1272.0 C4150.8,1266.3 4152.2,1257.2 4151.0,1251.5 C4149.8,1245.8 4137.0,1243.1 4137.0,1238.0 C4137.0,1232.9 4143.0,1222.7 4151.0,1221.0 C4159.0,1219.3 4168.0,1229.4 4185.0,1227.7 C4202.0,1226.0 4229.0,1215.8 4252.8,1210.7 C4276.6,1205.6 4303.8,1203.8 4327.6,1197.0 C4351.4,1190.2 4374.1,1180.2 4395.6,1170.0 C4417.1,1159.8 4445.5,1147.3 4456.8,1136.0 C4468.1,1124.7 4459.1,1113.3 4463.6,1102.0 C4468.1,1090.7 4477.2,1078.2 4484.0,1068.0 C4490.8,1057.8 4499.9,1052.1 4504.4,1040.8 C4508.9,1029.5 4507.9,1013.8 4511.0,1000.0 C4514.1,986.2 4519.8,976.0 4523.0,958.0 C4526.2,940.0 4525.5,911.8 4530.0,892.0 C4534.5,872.2 4538.3,850.0 4550.0,839.0 C4561.7,828.0 4591.7,828.2 4600.0,826.0" stroke="#40a12b" stroke-width="5"/>
<path d="M3804.0,1353.5 C3811.9,1354.6 3832.4,1362.0 3851.7,1360.3 C3871.0,1358.6 3899.9,1348.4 3919.7,1343.3 C3939.5,1338.2 3963.3,1337.1 3970.7,1329.7 C3978.1,1322.3 3963.4,1307.5 3964.0,1299.0 C3964.6,1290.5 3970.1,1285.5 3974.0,1278.7 C3977.9,1271.9 3980.9,1261.7 3987.7,1258.3 C3994.5,1254.9 4003.7,1252.6 4015.0,1258.3 C4026.3,1264.0 4039.9,1287.8 4055.7,1292.3 C4071.5,1296.8 4095.3,1288.9 4110.0,1285.5 C4124.7,1282.1 4137.2,1277.7 4144.0,1272.0 C4150.8,1266.3 4152.2,1257.2 4151.0,1251.5 C4149.8,1245.8 4137.0,1243.1 4137.0,1238.0 C4137.0,1232.9 4143.0,1222.7 4151.0,1221.0 C4159.0,1219.3 4168.0,1229.4 4185.0,1227.7 C4202.0,1226.0 4229.0,1215.8 4252.8,1210.7 C4276.6,1205.6 4303.8,1203.8 4327.6,1197.0 C4351.4,1190.2 4374.1,1180.2 4395.6,1170.0 C4417.1,1159.8 4445.5,1147.3 4456.8,1136.0 C4468.1,1124.7 4459.1,1113.3 4463.6,1102.0 C4468.1,1090.7 4477.2,1078.2 4484.0,1068.0 C4490.8,1057.8 4499.9,1052.1 4504.4,1040.8 C4508.9,1029.5 4507.9,1013.8 4511.0,1000.0 C4514.1,986.2 4519.8,976.0 4523.0,958.0 C4526.2,940.0 4525.5,911.8 4530.0,892.0 C4534.5,872.2 4538.3,850.0 4550.0,839.0 C4561.7,828.0 4591.7,828.2 4600.0,826.0" stroke="#ffffff" stroke-width="4.5" stroke-dasharray="6,44" stroke-linecap="butt"/>
<path d="M4140.7,100.0 C4146.2,104.4 4172.6,118.7 4173.7,126.4 C4174.8,134.1 4152.2,139.6 4147.3,146.2 C4142.4,152.8 4144.6,157.8 4144.0,166.0 C4143.4,174.2 4139.1,189.6 4144.0,195.7 C4148.9,201.8 4161.0,200.1 4173.7,202.3 C4186.4,204.5 4204.6,205.2 4220.0,209.0 C4235.4,212.8 4255.6,219.9 4266.0,225.4 C4276.4,230.9 4281.5,234.2 4282.6,241.9 C4283.7,249.6 4278.8,259.0 4272.7,271.6 C4266.6,284.2 4253.7,306.8 4246.0,317.8 C4238.3,328.8 4230.8,329.9 4226.5,337.6 C4222.2,345.3 4222.2,354.1 4220.0,364.0 C4217.8,373.9 4214.2,386.0 4213.0,397.0 C4211.8,408.0 4211.8,417.9 4213.0,430.0 C4214.2,442.1 4218.8,458.6 4220.0,469.6 C4221.2,480.6 4216.7,489.4 4220.0,496.0 C4223.3,502.6 4228.7,509.0 4239.7,509.0 C4250.7,509.0 4272.6,496.0 4285.8,496.0 C4299.0,496.0 4307.9,502.4 4318.9,509.0 C4329.9,515.6 4344.1,529.0 4351.8,535.6 C4359.5,542.2 4354.0,553.2 4365.0,548.8 C4376.0,544.4 4399.1,518.9 4417.8,509.0 C4436.5,499.1 4456.4,485.0 4477.3,489.4 C4498.2,493.8 4531.2,523.5 4543.3,535.6 C4555.4,547.7 4544.5,553.2 4550.0,562.0 C4555.5,570.8 4568.0,571.9 4576.3,588.4 C4584.6,604.9 4596.1,648.9 4600.0,661.0" stroke="#2a6e1a" stroke-width="8"/>
<path d="M4140.7,100.0 C4146.2,104.4 4172.6,118.7 4173.7,126.4 C4174.8,134.1 4152.2,139.6 4147.3,146.2 C4142.4,152.8 4144.6,157.8 4144.0,166.0 C4143.4,174.2 4139.1,189.6 4144.0,195.7 C4148.9,201.8 4161.0,200.1 4173.7,202.3 C4186.4,204.5 4204.6,205.2 4220.0,209.0 C4235.4,212.8 4255.6,219.9 4266.0,225.4 C4276.4,230.9 4281.5,234.2 4282.6,241.9 C4283.7,249.6 4278.8,259.0 4272.7,271.6 C4266.6,284.2 4253.7,306.8 4246.0,317.8 C4238.3,328.8 4230.8,329.9 4226.5,337.6 C4222.2,345.3 4222.2,354.1 4220.0,364.0 C4217.8,373.9 4214.2,386.0 4213.0,397.0 C4211.8,408.0 4211.8,417.9 4213.0,430.0 C4214.2,442.1 4218.8,458.6 4220.0,469.6 C4221.2,480.6 4216.7,489.4 4220.0,496.0 C4223.3,502.6 4228.7,509.0 4239.7,509.0 C4250.7,509.0 4272.6,496.0 4285.8,496.0 C4299.0,496.0 4307.9,502.4 4318.9,509.0 C4329.9,515.6 4344.1,529.0 4351.8,535.6 C4359.5,542.2 4354.0,553.2 4365.0,548.8 C4376.0,544.4 4399.1,518.9 4417.8,509.0 C4436.5,499.1 4456.4,485.0 4477.3,489.4 C4498.2,493.8 4531.2,523.5 4543.3,535.6 C4555.4,547.7 4544.5,553.2 4550.0,562.0 C4555.5,570.8 4568.0,571.9 4576.3,588.4 C4584.6,604.9 4596.1,648.9 4600.0,661.0" stroke="#40a12b" stroke-width="5"/>
<path d="M4140.7,100.0 C4146.2,104.4 4172.6,118.7 4173.7,126.4 C4174.8,134.1 4152.2,139.6 4147.3,146.2 C4142.4,152.8 4144.6,157.8 4144.0,166.0 C4143.4,174.2 4139.1,189.6 4144.0,195.7 C4148.9,201.8 4161.0,200.1 4173.7,202.3 C4186.4,204.5 4204.6,205.2 4220.0,209.0 C4235.4,212.8 4255.6,219.9 4266.0,225.4 C4276.4,230.9 4281.5,234.2 4282.6,241.9 C4283.7,249.6 4278.8,259.0 4272.7,271.6 C4266.6,284.2 4253.7,306.8 4246.0,317.8 C4238.3,328.8 4230.8,329.9 4226.5,337.6 C4222.2,345.3 4222.2,354.1 4220.0,364.0 C4217.8,373.9 4214.2,386.0 4213.0,397.0 C4211.8,408.0 4211.8,417.9 4213.0,430.0 C4214.2,442.1 4218.8,458.6 4220.0,469.6 C4221.2,480.6 4216.7,489.4 4220.0,496.0 C4223.3,502.6 4228.7,509.0 4239.7,509.0 C4250.7,509.0 4272.6,496.0 4285.8,496.0 C4299.0,496.0 4307.9,502.4 4318.9,509.0 C4329.9,515.6 4344.1,529.0 4351.8,535.6 C4359.5,542.2 4354.0,553.2 4365.0,548.8 C4376.0,544.4 4399.1,518.9 4417.8,509.0 C4436.5,499.1 4456.4,485.0 4477.3,489.4 C4498.2,493.8 4531.2,523.5 4543.3,535.6 C4555.4,547.7 4544.5,553.2 4550.0,562.0 C4555.5,570.8 4568.0,571.9 4576.3,588.4 C4584.6,604.9 4596.1,648.9 4600.0,661.0" stroke="#ffffff" stroke-width="4.5" stroke-dasharray="6,44" stroke-linecap="butt"/>
<path d="M4365.0,548.8 C4359.5,551.0 4339.7,553.2 4332.0,562.0 C4324.3,570.8 4324.4,589.5 4318.9,601.6 C4313.4,613.7 4306.7,623.5 4299.0,634.5 C4291.3,645.5 4279.3,654.3 4272.7,667.5 C4266.1,680.7 4269.4,708.2 4259.5,713.7 C4249.6,719.2 4228.4,704.9 4213.0,700.5 C4197.6,696.1 4184.6,690.6 4167.0,687.3 C4149.4,684.0 4122.0,679.6 4107.7,680.7 C4093.4,681.8 4086.8,679.7 4081.3,694.0 C4075.8,708.3 4084.6,744.5 4074.7,766.5 C4064.8,788.5 4044.0,812.8 4022.0,826.0 C4000.0,839.2 3962.5,841.3 3942.7,845.7 C3922.9,850.1 3912.3,853.4 3903.0,852.3 C3893.7,851.2 3887.7,835.7 3886.6,839.0 C3885.5,842.3 3899.3,859.9 3896.5,872.0 C3893.7,884.1 3878.8,898.5 3870.0,911.7 C3861.2,924.9 3851.4,940.3 3843.7,951.3 C3836.0,962.3 3832.9,969.6 3824.0,977.7 C3815.1,985.8 3800.7,993.0 3790.0,1000.0 C3779.3,1007.0 3765.0,1016.7 3760.0,1020.0" stroke="#2a6e1a" stroke-width="8"/>
<path d="M4365.0,548.8 C4359.5,551.0 4339.7,553.2 4332.0,562.0 C4324.3,570.8 4324.4,589.5 4318.9,601.6 C4313.4,613.7 4306.7,623.5 4299.0,634.5 C4291.3,645.5 4279.3,654.3 4272.7,667.5 C4266.1,680.7 4269.4,708.2 4259.5,713.7 C4249.6,719.2 4228.4,704.9 4213.0,700.5 C4197.6,696.1 4184.6,690.6 4167.0,687.3 C4149.4,684.0 4122.0,679.6 4107.7,680.7 C4093.4,681.8 4086.8,679.7 4081.3,694.0 C4075.8,708.3 4084.6,744.5 4074.7,766.5 C4064.8,788.5 4044.0,812.8 4022.0,826.0 C4000.0,839.2 3962.5,841.3 3942.7,845.7 C3922.9,850.1 3912.3,853.4 3903.0,852.3 C3893.7,851.2 3887.7,835.7 3886.6,839.0 C3885.5,842.3 3899.3,859.9 3896.5,872.0 C3893.7,884.1 3878.8,898.5 3870.0,911.7 C3861.2,924.9 3851.4,940.3 3843.7,951.3 C3836.0,962.3 3832.9,969.6 3824.0,977.7 C3815.1,985.8 3800.7,993.0 3790.0,1000.0 C3779.3,1007.0 3765.0,1016.7 3760.0,1020.0" stroke="#40a12b" stroke-width="5"/>
<path d="M4365.0,548.8 C4359.5,551.0 4339.7,553.2 4332.0,562.0 C4324.3,570.8 4324.4,589.5 4318.9,601.6 C4313.4,613.7 4306.7,623.5 4299.0,634.5 C4291.3,645.5 4279.3,654.3 4272.7,667.5 C4266.1,680.7 4269.4,708.2 4259.5,713.7 C4249.6,719.2 4228.4,704.9 4213.0,700.5 C4197.6,696.1 4184.6,690.6 4167.0,687.3 C4149.4,684.0 4122.0,679.6 4107.7,680.7 C4093.4,681.8 4086.8,679.7 4081.3,694.0 C4075.8,708.3 4084.6,744.5 4074.7,766.5 C4064.8,788.5 4044.0,812.8 4022.0,826.0 C4000.0,839.2 3962.5,841.3 3942.7,845.7 C3922.9,850.1 3912.3,853.4 3903.0,852.3 C3893.7,851.2 3887.7,835.7 3886.6,839.0 C3885.5,842.3 3899.3,859.9 3896.5,872.0 C3893.7,884.1 3878.8,898.5 3870.0,911.7 C3861.2,924.9 3851.4,940.3 3843.7,951.3 C3836.0,962.3 3832.9,969.6 3824.0,977.7 C3815.1,985.8 3800.7,993.0 3790.0,1000.0 C3779.3,1007.0 3765.0,1016.7 3760.0,1020.0" stroke="#ffffff" stroke-width="4.5" stroke-dasharray="6,44" stroke-linecap="butt"/>
</g>
</g>
<rect x="2856.7" y="64.7" width="1782" height="1952.3" fill="none" stroke="#000" stroke-width="3"/>
<rect x="2900.4" y="101.7" width="1695.9999999999995" height="1879.3" fill="none" stroke="#000" stroke-width="3"/>
<line x1="3006.7" y1="89" x2="3006.7" y2="101.7" stroke="#000" stroke-width="3"/>
<line x1="3006.7" y1="1981" x2="3006.7" y2="1994.6" stroke="#000" stroke-width="3"/>
<text x="2967.4" y="87.6" font-size="20.07" font-weight="bold" fill="#000" textLength="78.1" lengthAdjust="spacingAndGlyphs" >1095000</text>
<line x1="3367" y1="89" x2="3367" y2="101.7" stroke="#000" stroke-width="3"/>
<line x1="3367" y1="1981" x2="3367" y2="1994.6" stroke="#000" stroke-width="3"/>
<text x="3328.3" y="87.6" font-size="20.07" font-weight="bold" fill="#000" textLength="77.0" lengthAdjust="spacingAndGlyphs" >1100000</text>
<line x1="3727" y1="89" x2="3727" y2="101.7" stroke="#000" stroke-width="3"/>
<line x1="3727" y1="1981" x2="3727" y2="1994.6" stroke="#000" stroke-width="3"/>
<text x="3688.3" y="87.6" font-size="20.07" font-weight="bold" fill="#000" textLength="77.0" lengthAdjust="spacingAndGlyphs" >1105000</text>
<line x1="4087" y1="89" x2="4087" y2="101.7" stroke="#000" stroke-width="3"/>
<line x1="4087" y1="1981" x2="4087" y2="1994.6" stroke="#000" stroke-width="3"/>
<text x="4048.8" y="87.6" font-size="20.07" font-weight="bold" fill="#000" textLength="75.9" lengthAdjust="spacingAndGlyphs" >1110000</text>
<line x1="4447.6" y1="89" x2="4447.6" y2="101.7" stroke="#000" stroke-width="3"/>
<line x1="4447.6" y1="1981" x2="4447.6" y2="1994.6" stroke="#000" stroke-width="3"/>
<text x="4409.4" y="87.6" font-size="20.07" font-weight="bold" fill="#000" textLength="75.9" lengthAdjust="spacingAndGlyphs" >1115000</text>
<line x1="2885" y1="330.6" x2="2900.4" y2="330.6" stroke="#000" stroke-width="3"/>
<line x1="4596.4" y1="330.6" x2="4611" y2="330.6" stroke="#000" stroke-width="3"/>
<text x="0" y="7.1" font-size="20" font-weight="bold" text-anchor="middle" transform="translate(2875 329.6) scale(1.2 1) rotate(-90)" textLength="77" lengthAdjust="spacingAndGlyphs">1285000</text>
<line x1="2885" y1="632" x2="2900.4" y2="632" stroke="#000" stroke-width="3"/>
<line x1="4596.4" y1="632" x2="4611" y2="632" stroke="#000" stroke-width="3"/>
<text x="0" y="7.1" font-size="20" font-weight="bold" text-anchor="middle" transform="translate(2875 631) scale(1.2 1) rotate(-90)" textLength="77" lengthAdjust="spacingAndGlyphs">1280000</text>
<line x1="2885" y1="933" x2="2900.4" y2="933" stroke="#000" stroke-width="3"/>
<line x1="4596.4" y1="933" x2="4611" y2="933" stroke="#000" stroke-width="3"/>
<text x="0" y="7.1" font-size="20" font-weight="bold" text-anchor="middle" transform="translate(2875 932) scale(1.2 1) rotate(-90)" textLength="77" lengthAdjust="spacingAndGlyphs">1275000</text>
<line x1="2885" y1="1233" x2="2900.4" y2="1233" stroke="#000" stroke-width="3"/>
<line x1="4596.4" y1="1233" x2="4611" y2="1233" stroke="#000" stroke-width="3"/>
<text x="0" y="7.1" font-size="20" font-weight="bold" text-anchor="middle" transform="translate(2875 1232) scale(1.2 1) rotate(-90)" textLength="77" lengthAdjust="spacingAndGlyphs">1270000</text>
<line x1="2885" y1="1534" x2="2900.4" y2="1534" stroke="#000" stroke-width="3"/>
<line x1="4596.4" y1="1534" x2="4611" y2="1534" stroke="#000" stroke-width="3"/>
<text x="0" y="7.1" font-size="20" font-weight="bold" text-anchor="middle" transform="translate(2875 1533) scale(1.2 1) rotate(-90)" textLength="77" lengthAdjust="spacingAndGlyphs">1265000</text>
<line x1="2885" y1="1835.6" x2="2900.4" y2="1835.6" stroke="#000" stroke-width="3"/>
<line x1="4596.4" y1="1835.6" x2="4611" y2="1835.6" stroke="#000" stroke-width="3"/>
<text x="0" y="7.1" font-size="20" font-weight="bold" text-anchor="middle" transform="translate(2875 1834.6) scale(1.2 1) rotate(-90)" textLength="77" lengthAdjust="spacingAndGlyphs">1260000</text>
<circle cx="3745.4" cy="610.7" r="4.2" fill="#111"/>
<circle cx="4066" cy="1066" r="4.2" fill="#111"/>
<circle cx="3394" cy="1013.6" r="4.2" fill="#111"/>
<circle cx="3009" cy="720" r="4.2" fill="#111"/>
<text x="3753.9" y="610.0" font-size="40.44" fill="#111" textLength="340.0" lengthAdjust="spacingAndGlyphs" style="font-family:'DejaVu Sans','Liberation Sans',sans-serif" stroke="#e8e8d8" stroke-width="3" stroke-opacity="0.5" paint-order="stroke">Bucaramanga</text>
<text x="4064.1" y="1100.6" font-size="42.47" fill="#111" textLength="358.8" lengthAdjust="spacingAndGlyphs" style="font-family:'DejaVu Sans','Liberation Sans',sans-serif" stroke="#e8e8d8" stroke-width="3" stroke-opacity="0.5" paint-order="stroke">Floridablanca</text>
<text x="3397.5" y="1040.8" font-size="34.62" fill="#111" textLength="106.8" lengthAdjust="spacingAndGlyphs" style="font-family:'DejaVu Sans','Liberation Sans',sans-serif" stroke="#e8e8d8" stroke-width="3" stroke-opacity="0.5" paint-order="stroke">Girón</text>
<text x="4103.9" y="1601.6" font-size="39.56" font-weight="bold" fill="#2a2a2a" textLength="240.8" lengthAdjust="spacingAndGlyphs" style="font-family:'DejaVu Sans','Liberation Sans',sans-serif" stroke="#e8e8d8" stroke-width="3" stroke-opacity="0.5" paint-order="stroke">Piedecuesta</text>
<text x="2900.2" y="718.0" font-size="30.55" fill="#111" textLength="101.7" lengthAdjust="spacingAndGlyphs" style="font-family:'DejaVu Sans','Liberation Sans',sans-serif" stroke="#e8e8d8" stroke-width="3" stroke-opacity="0.5" paint-order="stroke">ebrija</text>
<g fill="#555" font-style="italic">
<text x="3112.1" y="642.0" font-size="23.85" fill="#555" textLength="146.1" lengthAdjust="spacingAndGlyphs" style="font-family:'DejaVu Sans','Liberation Sans',sans-serif" font-style="italic" letter-spacing="2">PALONEGRO</text>
<text x="3159.5" y="663.0" font-size="21.82" fill="#555" textLength="98.0" lengthAdjust="spacingAndGlyphs" style="font-family:'DejaVu Sans','Liberation Sans',sans-serif" font-style="italic">AIRPORT</text>
</g>
<g fill="#e8202a"><path d="M3268,603 L3272,603 L3272,617 L3290,620 L3290,625 L3272,624 L3272,632 L3278,636 L3278,638.6 L3262,638.6 L3262,636 L3268,632 L3268,624 L3250,625 L3250,620 L3268,617 Z"/></g>
<ellipse cx="3664.5" cy="485.5" rx="30" ry="25.5" fill="#0fc3f5"/>
<text x="3654.0" y="497.0" font-size="33.45" font-weight="bold" fill="#000" textLength="18.6" lengthAdjust="spacingAndGlyphs" >4</text>
<ellipse cx="3666" cy="611.5" rx="30" ry="25.5" fill="#0fc3f5"/>
<text x="3655.9" y="623.0" font-size="33.45" font-weight="bold" fill="#000" textLength="18.6" lengthAdjust="spacingAndGlyphs" >3</text>
<ellipse cx="3854" cy="716.5" rx="30" ry="25.5" fill="#0fc3f5"/>
<text x="3843.8" y="728.0" font-size="33.45" font-weight="bold" fill="#000" textLength="18.6" lengthAdjust="spacingAndGlyphs" >2</text>
<ellipse cx="4352" cy="1577" rx="30" ry="25.5" fill="#0fc3f5"/>
<text x="4341.1" y="1588.5" font-size="33.45" font-weight="bold" fill="#000" textLength="18.6" lengthAdjust="spacingAndGlyphs" >1</text>
<g fill="#fff"><ellipse cx="4448.7" cy="332" rx="54" ry="46"/><circle cx="4448.7" cy="281" r="15"/><circle cx="4448.7" cy="383" r="15"/><circle cx="4389" cy="331" r="16"/><circle cx="4506" cy="333" r="15"/></g>
<g transform="translate(4448.7 332) scale(1 0.829)">
<circle r="41" fill="none" stroke="#111" stroke-width="5"/>
<circle r="36" fill="none" stroke="#111" stroke-width="1.2"/>
<path d="M0,0 L0.0,-48.0 L-8.0,-0.0 Z" fill="#111" stroke="#111" stroke-width="1"/>
<path d="M0,0 L0.0,-48.0 L8.0,-0.0 Z" fill="#fff" stroke="#111" stroke-width="1"/>
<path d="M0,0 L23.3,-23.3 L-4.2,-4.2 Z" fill="#111" stroke="#111" stroke-width="1"/>
<path d="M0,0 L23.3,-23.3 L4.2,4.2 Z" fill="#fff" stroke="#111" stroke-width="1"/>
<path d="M0,0 L47.0,-0.0 L0.0,-8.0 Z" fill="#111" stroke="#111" stroke-width="1"/>
<path d="M0,0 L47.0,-0.0 L0.0,8.0 Z" fill="#fff" stroke="#111" stroke-width="1"/>
<path d="M0,0 L23.3,23.3 L4.2,-4.2 Z" fill="#111" stroke="#111" stroke-width="1"/>
<path d="M0,0 L23.3,23.3 L-4.2,4.2 Z" fill="#fff" stroke="#111" stroke-width="1"/>
<path d="M0,0 L0.0,48.0 L8.0,-0.0 Z" fill="#111" stroke="#111" stroke-width="1"/>
<path d="M0,0 L0.0,48.0 L-8.0,0.0 Z" fill="#fff" stroke="#111" stroke-width="1"/>
<path d="M0,0 L-23.3,23.3 L4.2,4.2 Z" fill="#111" stroke="#111" stroke-width="1"/>
<path d="M0,0 L-23.3,23.3 L-4.2,-4.2 Z" fill="#fff" stroke="#111" stroke-width="1"/>
<path d="M0,0 L-47.0,0.0 L0.0,8.0 Z" fill="#111" stroke="#111" stroke-width="1"/>
<path d="M0,0 L-47.0,0.0 L-0.0,-8.0 Z" fill="#fff" stroke="#111" stroke-width="1"/>
<path d="M0,0 L-23.3,-23.3 L-4.2,4.2 Z" fill="#111" stroke="#111" stroke-width="1"/>
<path d="M0,0 L-23.3,-23.3 L4.2,-4.2 Z" fill="#fff" stroke="#111" stroke-width="1"/>
</g>
<text x="4441.5" y="287" font-size="19.6" font-weight="bold" style="font-family:Liberation Serif,serif" fill="#111" textLength="16.0" lengthAdjust="spacingAndGlyphs">N</text>
<text x="4379.7" y="337.3" font-size="18.3" font-weight="bold" style="font-family:Liberation Serif,serif" fill="#111" textLength="19.3" lengthAdjust="spacingAndGlyphs">W</text>
<text x="4497.9" y="340" font-size="20.8" font-weight="bold" style="font-family:Liberation Serif,serif" fill="#111" textLength="16.1" lengthAdjust="spacingAndGlyphs">E</text>
<text x="4442.8" y="389.5" font-size="19.6" font-weight="bold" style="font-family:Liberation Serif,serif" fill="#111" textLength="12.9" lengthAdjust="spacingAndGlyphs">S</text>
<rect x="2917.6" y="1519.6" width="675.4" height="447.1" fill="#fff" stroke="#000" stroke-width="3"/>
<text x="2933.3" y="1560.0" font-size="34.18" font-weight="bold" fill="#111" textLength="296.1" lengthAdjust="spacingAndGlyphs" >CONVENCIONES</text>
<text x="2932.5" y="1611.6" font-size="29.96" font-weight="bold" fill="#111" textLength="307.8" lengthAdjust="spacingAndGlyphs" >PUNTO, ESTACION</text>
<ellipse cx="2972.7" cy="1654" rx="31" ry="25.7" fill="#0fc3f5"/>
<text x="3024.7" y="1664.0" font-size="26.52" fill="#222" textLength="552.5" lengthAdjust="spacingAndGlyphs" >1, Centro Cultural Daniel Mantilla Orbegozo</text>
<ellipse cx="2972.7" cy="1727" rx="31" ry="25.7" fill="#0fc3f5"/>
<text x="3025.4" y="1737.0" font-size="26.52" fill="#222" textLength="321.6" lengthAdjust="spacingAndGlyphs" >2, Club Unión - Cabecera</text>
<ellipse cx="2972.7" cy="1801" rx="31" ry="25.7" fill="#0fc3f5"/>
<text x="3025.7" y="1811.0" font-size="26.52" fill="#222" textLength="222.1" lengthAdjust="spacingAndGlyphs" >3, Colegio Gaitán</text>
<ellipse cx="2972.7" cy="1874" rx="31" ry="25.7" fill="#0fc3f5"/>
<text x="3026.2" y="1884.0" font-size="26.52" fill="#222" textLength="258.1" lengthAdjust="spacingAndGlyphs" >4, Hospital del Norte</text>
<rect x="2932.5" y="1922" width="80.5" height="31.5" rx="2" fill="#fff" stroke="#4d9a2c" stroke-width="5"/>
<text x="3024.4" y="1948.0" font-size="26.91" fill="#222" textLength="209.6" lengthAdjust="spacingAndGlyphs" >Límite Municipal</text>
<text x="2848.6" y="2123.6" font-size="31.27" fill="#000" textLength="1796.4" lengthAdjust="spacingAndGlyphs" xml:space="preserve">El SVCA  de la CDMB declara que los resultados obtenidos en la medición concentración de PM2.5 son validos para la</text>
<text x="2849.1" y="2168.5" font-size="31.27" fill="#000" textLength="293.6" lengthAdjust="spacingAndGlyphs" xml:space="preserve">muestra  analizada.</text>
<text x="2849.8" y="2258.2" font-size="31.27" fill="#000" textLength="1557.3" lengthAdjust="spacingAndGlyphs" xml:space="preserve">Observación 1: Determinación Directa en Campo de Material Particulado como PM2.5 en la Atmósfera:</text>
<text x="2849.8" y="2302.5" font-size="31.27" fill="#000" textLength="1790.9" lengthAdjust="spacingAndGlyphs" xml:space="preserve">Sistemas de Medición Automatizados para la  determinación de la Concentración de Material Particulado (PM10;</text>
<text x="2848.6" y="2346.7" font-size="31.27" fill="#000" textLength="1505.1" lengthAdjust="spacingAndGlyphs" xml:space="preserve">PM2.5): EN 16450:2017. La incertidumbre del parámetro PM2.5 es 0.34744 (Incertidumbre Tipo B).</text>
<text x="2849.7" y="2436.0" font-size="31.27" fill="#000" textLength="1796.4" lengthAdjust="spacingAndGlyphs" xml:space="preserve">Observación 2: Las concentraciones horarias de PM 2.5  comienzan a incrementarse desde el día 07/12/2022 en las</text>
<text x="2848.9" y="2480.5" font-size="31.27" fill="#000" textLength="1798.4" lengthAdjust="spacingAndGlyphs" xml:space="preserve">horas de la noche momento en el que se realizan quemas de pólvora en toda la ciudad lo cual se ve reflejado en el</text>
<text x="2850.0" y="2525.0" font-size="31.27" fill="#000" textLength="1144.6" lengthAdjust="spacingAndGlyphs" xml:space="preserve">cambio del estado de los ICAS de Buena a Aceptable en los días posteriores.</text>
<line x1="132.6" y1="2557" x2="2727" y2="2557" stroke="#4a86b0" stroke-width="2.2"/>
<line x1="2727" y1="2557" x2="4704" y2="2557" stroke="#4ea65a" stroke-width="2.2"/>
<text x="130.9" y="2657.6" font-size="66.33" font-weight="bold" fill="#000" textLength="1975.9" lengthAdjust="spacingAndGlyphs" >Los datos no validados y en tiempo real pueden ser consultados en:</text>
<text x="2121.3" y="2657.6" font-size="62.90" fill="#000" textLength="1641.4" lengthAdjust="spacingAndGlyphs" >https://ambiensq2.dyndns.org/ambiensq/#!/mapa/cdmb</text>
<g stroke="#444" stroke-width="2" fill="none"><path d="M4285,2602.8 L3806.5,2602.8 L3806.5,2686.7 L4762,2686.7 L4762,2602.8 L4695,2602.8"/><line x1="4195.8" y1="2602.8" x2="4195.8" y2="2686.7"/></g>
<text x="3816.7" y="2647.0" font-size="38.98" font-weight="bold" fill="#000" textLength="344.2" lengthAdjust="spacingAndGlyphs" >Aprobó: Líder SVCA</text>
<text x="4205.1" y="2647.0" font-size="38.98" font-weight="bold" fill="#000" textLength="80.9" lengthAdjust="spacingAndGlyphs" >Firm</text>
<g fill="none" stroke="#111" stroke-width="2.4" stroke-linecap="round" stroke-linejoin="round">
<path d="M4293,2638 C4297,2632 4303,2632 4306,2636 C4309,2640 4312,2634 4315,2631 C4318,2628 4320,2636 4324,2634 C4328,2630 4331,2629 4334,2633 C4337,2637 4340,2630 4343,2618 M4343,2618 C4342,2628 4338,2640 4335,2645"/>
<path d="M4368,2628 L4380,2627 M4373,2622 C4373,2628 4372,2632 4376,2634"/>
<path d="M4413,2604 C4404,2600 4396,2610 4397,2622 C4398,2633 4406,2636 4413,2630 C4417,2626 4420,2622 4424,2626 C4427,2630 4430,2624 4433,2622 C4436,2626 4438,2630 4442,2627 C4445,2624 4447,2626 4449,2629 C4450,2638 4447,2650 4440,2660 C4433,2669 4425,2670 4428,2662 C4432,2652 4445,2640 4460,2628 C4465,2625 4470,2628 4474,2626"/>
<path d="M4498,2631 C4502,2624 4508,2620 4512,2624 C4514,2628 4510,2632 4516,2630 C4522,2626 4528,2628 4532,2626 C4536,2624 4540,2630 4545,2627 C4550,2624 4553,2630 4558,2626 C4563,2623 4568,2628 4573,2626 C4576,2625 4580,2628 4584,2626"/>
<path d="M4500,2632 C4530,2612 4565,2588 4594,2580"/>
<path d="M4609,2630 C4614,2624 4619,2626 4622,2629 C4625,2624 4630,2624 4634,2628 C4640,2631 4646,2626 4652,2624 C4657,2622 4662,2614 4666,2606 C4664,2616 4662,2626 4666,2630 C4668,2632 4671,2630 4672,2628"/>
<circle cx="4683" cy="2628" r="1.6" fill="#111"/>
</g>
</svg>
</body></html>
